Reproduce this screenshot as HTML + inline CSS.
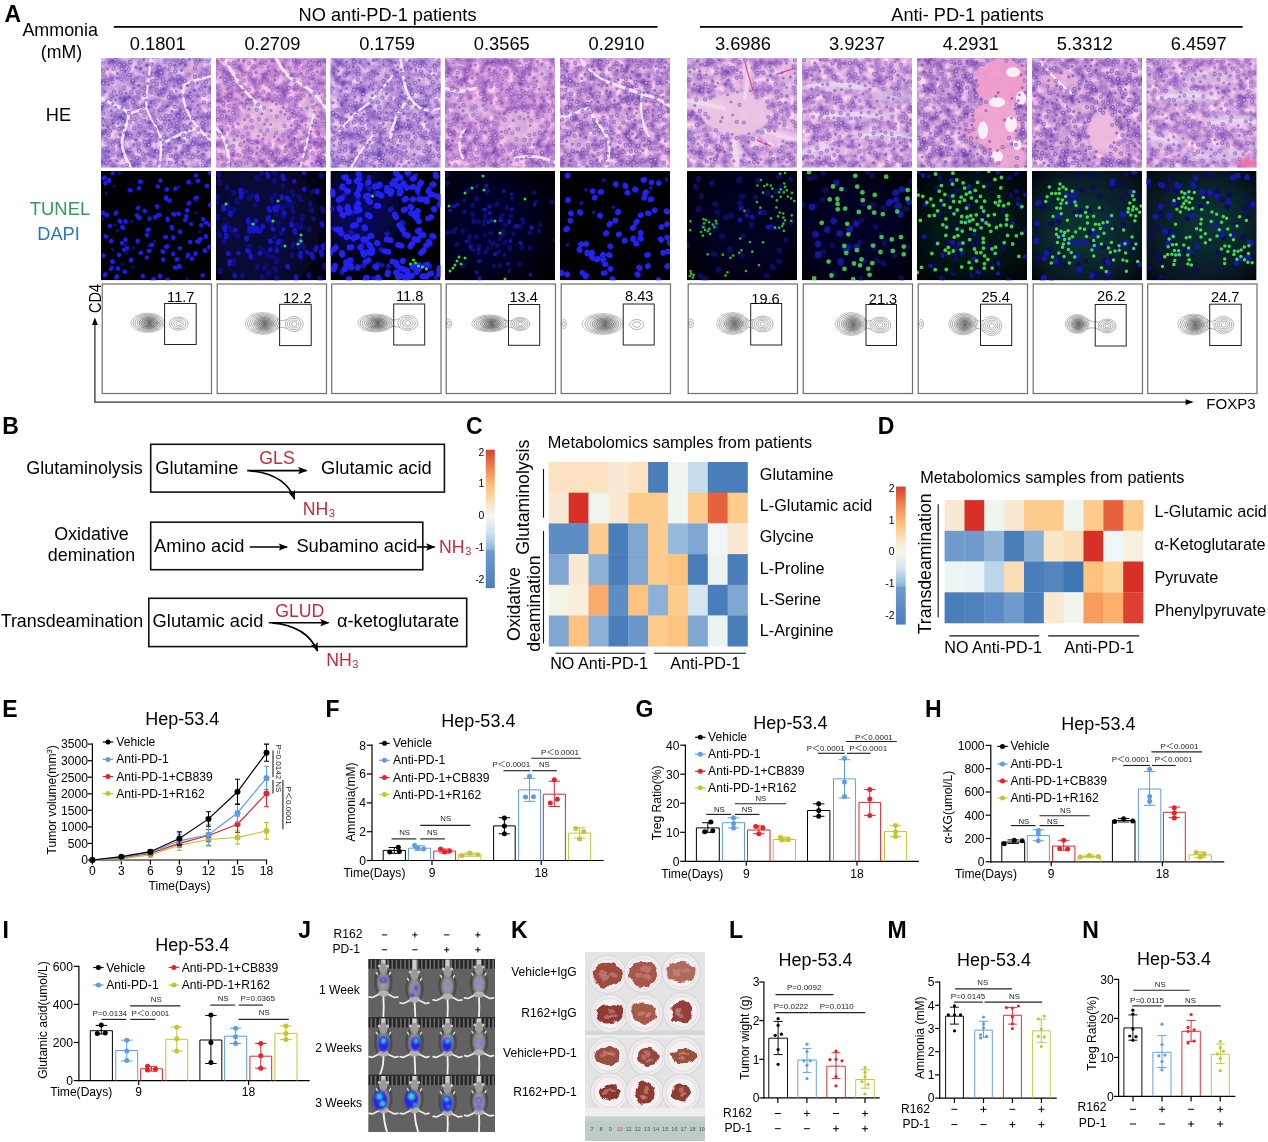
<!DOCTYPE html>
<html><head><meta charset="utf-8"><title>Figure</title>
<style>
html,body{margin:0;padding:0;background:#fff}
svg{display:block;font-family:"Liberation Sans","Noto Sans CJK SC",sans-serif}
</style></head><body>
<svg width="1268" height="1142" viewBox="0 0 1268 1142">
<defs>
<clipPath id="c0"><rect x="0" y="0" width="110" height="109.3"/></clipPath>
<clipPath id="c1"><rect x="0" y="0" width="110" height="109.3"/></clipPath>
<clipPath id="c2"><rect x="0" y="0" width="110" height="109.3"/></clipPath>
<clipPath id="c3"><rect x="0" y="0" width="110" height="109.3"/></clipPath>
<clipPath id="c4"><rect x="0" y="0" width="110" height="109.3"/></clipPath>
<clipPath id="c5"><rect x="0" y="0" width="110" height="109.3"/></clipPath>
<clipPath id="c6"><rect x="0" y="0" width="110" height="109.3"/></clipPath>
<clipPath id="c7"><rect x="0" y="0" width="110" height="109.3"/></clipPath>
<clipPath id="c8"><rect x="0" y="0" width="110" height="109.3"/></clipPath>
<clipPath id="c9"><rect x="0" y="0" width="110" height="109.3"/></clipPath>
<filter id="he0" x="0" y="0" width="100%" height="100%" color-interpolation-filters="sRGB"><feTurbulence type="fractalNoise" baseFrequency=".11" numOctaves="3" seed="11"/><feColorMatrix type="matrix" values=".8 0 0 0 0.33  .8 0 0 0 0.17  0.34 0 0 0 0.68  0 0 0 0 1"/></filter>
<filter id="he1" x="0" y="0" width="100%" height="100%" color-interpolation-filters="sRGB"><feTurbulence type="fractalNoise" baseFrequency=".11" numOctaves="3" seed="18"/><feColorMatrix type="matrix" values=".8 0 0 0 0.385  .8 0 0 0 0.16  0.36 0 0 0 0.65  0 0 0 0 1"/></filter>
<filter id="he2" x="0" y="0" width="100%" height="100%" color-interpolation-filters="sRGB"><feTurbulence type="fractalNoise" baseFrequency=".11" numOctaves="3" seed="25"/><feColorMatrix type="matrix" values=".8 0 0 0 0.33  .8 0 0 0 0.17  0.34 0 0 0 0.68  0 0 0 0 1"/></filter>
<filter id="he3" x="0" y="0" width="100%" height="100%" color-interpolation-filters="sRGB"><feTurbulence type="fractalNoise" baseFrequency=".11" numOctaves="3" seed="32"/><feColorMatrix type="matrix" values=".8 0 0 0 0.385  .8 0 0 0 0.16  0.36 0 0 0 0.65  0 0 0 0 1"/></filter>
<filter id="he4" x="0" y="0" width="100%" height="100%" color-interpolation-filters="sRGB"><feTurbulence type="fractalNoise" baseFrequency=".11" numOctaves="3" seed="39"/><feColorMatrix type="matrix" values=".8 0 0 0 0.365  .8 0 0 0 0.17  0.36 0 0 0 0.65  0 0 0 0 1"/></filter>
<filter id="he5" x="0" y="0" width="100%" height="100%" color-interpolation-filters="sRGB"><feTurbulence type="fractalNoise" baseFrequency=".11" numOctaves="3" seed="46"/><feColorMatrix type="matrix" values=".75 0 0 0 0.42  .78 0 0 0 0.22  0.32 0 0 0 0.69  0 0 0 0 1"/></filter>
<filter id="he6" x="0" y="0" width="100%" height="100%" color-interpolation-filters="sRGB"><feTurbulence type="fractalNoise" baseFrequency=".11" numOctaves="3" seed="53"/><feColorMatrix type="matrix" values=".75 0 0 0 0.42  .78 0 0 0 0.22  0.32 0 0 0 0.69  0 0 0 0 1"/></filter>
<filter id="he7" x="0" y="0" width="100%" height="100%" color-interpolation-filters="sRGB"><feTurbulence type="fractalNoise" baseFrequency=".11" numOctaves="3" seed="60"/><feColorMatrix type="matrix" values=".8 0 0 0 0.365  .8 0 0 0 0.17  0.36 0 0 0 0.65  0 0 0 0 1"/></filter>
<filter id="he8" x="0" y="0" width="100%" height="100%" color-interpolation-filters="sRGB"><feTurbulence type="fractalNoise" baseFrequency=".11" numOctaves="3" seed="67"/><feColorMatrix type="matrix" values=".8 0 0 0 0.365  .8 0 0 0 0.17  0.36 0 0 0 0.65  0 0 0 0 1"/></filter>
<filter id="he9" x="0" y="0" width="100%" height="100%" color-interpolation-filters="sRGB"><feTurbulence type="fractalNoise" baseFrequency=".11" numOctaves="3" seed="74"/><feColorMatrix type="matrix" values=".75 0 0 0 0.42  .78 0 0 0 0.22  0.32 0 0 0 0.69  0 0 0 0 1"/></filter>
<filter id="bl" x="-5%" y="-5%" width="110%" height="110%"><feGaussianBlur stdDeviation="0.75"/></filter>
<filter id="bl2" x="-100%" y="-100%" width="300%" height="300%"><feGaussianBlur stdDeviation="16"/></filter>
<filter id="bl3" x="-30%" y="-30%" width="160%" height="160%"><feGaussianBlur stdDeviation="1.6"/></filter>
<radialGradient id="dens"><stop offset="0" stop-color="#444" stop-opacity=".55"/><stop offset=".6" stop-color="#666" stop-opacity=".3"/><stop offset="1" stop-color="#888" stop-opacity="0"/></radialGradient>
<marker id="ah" viewBox="0 0 10 8" refX="9" refY="4" markerWidth="9.5" markerHeight="7.5" orient="auto" markerUnits="userSpaceOnUse"><path d="M0 0L10 4L0 8L2.2 4z" fill="#000"/></marker>
<linearGradient id="cb" x1="0" y1="0" x2="0" y2="1"><stop offset="0" stop-color="#d7402b"/><stop offset=".12" stop-color="#ef7f4f"/><stop offset=".27" stop-color="#fdc27e"/><stop offset=".4" stop-color="#fbe7c8"/><stop offset=".48" stop-color="#f4f6ee"/><stop offset=".6" stop-color="#cfe2ee"/><stop offset=".72" stop-color="#8fb4d8"/><stop offset=".73" stop-color="#6e9bcb"/><stop offset="1" stop-color="#4a7ebb"/></linearGradient>
<pattern id="bars" width="4.2" height="10" patternUnits="userSpaceOnUse"><rect width="4.2" height="10" fill="#262626"/><rect x="1.1" width="1.3" height="10" fill="#7d7d7d"/></pattern>
<filter id="b1" x="-30%" y="-30%" width="160%" height="160%"><feGaussianBlur stdDeviation="0.8"/></filter>
<filter id="b05" x="-5%" y="-5%" width="110%" height="110%"><feGaussianBlur stdDeviation="0.55"/></filter>
<radialGradient id="gm"><stop offset="0" stop-color="#a9a9a9"/><stop offset=".65" stop-color="#8c8c8c"/><stop offset="1" stop-color="#4e4e4e"/></radialGradient>
<clipPath id="cj"><rect x="368.3" y="959" width="126.7" height="173"/></clipPath>
<clipPath id="ck"><rect x="585" y="952" width="120" height="189"/></clipPath>
<filter id="b2" x="-5%" y="-5%" width="110%" height="110%"><feTurbulence type="fractalNoise" baseFrequency=".11" numOctaves="2" seed="5" result="n"/><feDisplacementMap in="SourceGraphic" in2="n" scale="7" xChannelSelector="R" yChannelSelector="G"/><feGaussianBlur stdDeviation=".7"/></filter>
</defs>
<rect width="1268" height="1142" fill="#fff"/>
<text x="4.5" y="22" font-size="23" font-weight="bold">A</text>
<text x="22.4" y="36" font-size="17.9">Ammonia</text>
<text x="40.8" y="57.6" font-size="17.7">(mM)</text>
<text x="298.6" y="21.3" font-size="18.2">NO anti-PD-1 patients</text>
<line x1="113.8" y1="26.9" x2="657.5" y2="26.9" stroke="#000" stroke-width="1.7"/>
<text x="891.3" y="21.2" font-size="18.2">Anti- PD-1 patients</text>
<line x1="700" y1="26.9" x2="1242.6" y2="26.9" stroke="#000" stroke-width="1.7"/>
<text x="157.7" y="49.5" font-size="18.3" text-anchor="middle">0.1801</text>
<text x="272.4" y="49.5" font-size="18.3" text-anchor="middle">0.2709</text>
<text x="387.1" y="49.5" font-size="18.3" text-anchor="middle">0.1759</text>
<text x="501.8" y="49.5" font-size="18.3" text-anchor="middle">0.3565</text>
<text x="616.5" y="49.5" font-size="18.3" text-anchor="middle">0.2910</text>
<text x="742.9" y="49.5" font-size="18.3" text-anchor="middle">3.6986</text>
<text x="856.9" y="49.5" font-size="18.3" text-anchor="middle">3.9237</text>
<text x="970.8" y="49.5" font-size="18.3" text-anchor="middle">4.2931</text>
<text x="1084.8" y="49.5" font-size="18.3" text-anchor="middle">5.3312</text>
<text x="1198.7" y="49.5" font-size="18.3" text-anchor="middle">6.4597</text>
<text x="58.5" y="121.3" font-size="18.2" text-anchor="middle">HE</text>
<text x="60" y="214.5" font-size="18.4" text-anchor="middle" fill="#2f9e5c">TUNEL</text>
<text x="58.5" y="239.5" font-size="18.2" text-anchor="middle" fill="#2b78b6">DAPI</text>
<text font-size="16.2" transform="translate(100.8 313) rotate(-90)" textLength="29" lengthAdjust="spacingAndGlyphs">CD4</text>
<text x="1206.3" y="409.1" font-size="15">FOXP3</text>
<path d="M94.9 322V402.1H1187" fill="none" stroke="#333" stroke-width="1.3"/>
<path d="M94.9 317.4l-2.9 7.6h5.8z" fill="#000"/>
<path d="M1193.6 402.1l-8-2.8v5.6z" fill="#000"/>
<g transform="translate(101 58.2)" clip-path="url(#c0)"><rect width="110" height="109.3" fill="#b898dc"/><rect width="110" height="109.3" filter="url(#he0)"/><ellipse cx="92" cy="12" rx="8" ry="8" fill="#efb8dc" opacity="0.7" filter="url(#bl3)"/><ellipse cx="18" cy="30" rx="14" ry="8" fill="#d9b3e6" opacity="0.6" filter="url(#bl3)"/><path d="M50 0Q47 25 45.5 37.5Q44 50 49.5 59Q55 68 58.5 76.5Q62 85 58 110" stroke="#f4e8f7" stroke-width="2.2" stroke-linecap="round" fill="none" opacity="0.95"/><path d="M110 18Q92 22 86 25Q80 28 82 39Q84 50 90 60Q96 70 110 82" stroke="#f4e8f7" stroke-width="2.5" stroke-linecap="round" fill="none" opacity="0.95"/><path d="M0 40Q16 48 23 51.5Q30 55 26 65Q22 75 21 83.5Q20 92 30 110" stroke="#f4e8f7" stroke-width="2.9" stroke-linecap="round" fill="none" opacity="0.95"/><path d="M44 50L30 55" stroke="#f4e8f7" stroke-width="2.8" stroke-linecap="round" fill="none" opacity="0.95"/><path d="M62 85Q80 75 96 70" stroke="#f4e8f7" stroke-width="2.9" stroke-linecap="round" fill="none" opacity="0.95"/><path d="M47.8 86.8h0M58.6 9.6h0M50.2 6.1h0M101.8 102.6h0M37.2 34.2h0M83.9 22.9h0M20.3 21.2h0M38.5 68.2h0M105 23.6h0M104.3 60.6h0M98.3 88.8h0M18.3 70.6h0M14.4 1.6h0M43.7 84h0M62.1 21.7h0M91.8 99h0M26.6 49.1h0M69.9 97.8h0M14.7 60.4h0M105.6 66.4h0M78.5 84.2h0M55.8 32.1h0M64.8 57.7h0M38.1 92.7h0M40.2 52.9h0M83.2 88.3h0M97.2 70.9h0M28.3 91.9h0M99.2 77.7h0M83.8 56.1h0M54.3 63.5h0M94 18.7h0M82.4 76.8h0M14.1 6.4h0M65.3 24.5h0M71.3 81.3h0M62.4 36.8h0M2.4 13.2h0M21.8 57.4h0M78.8 23.4h0M43.1 101.5h0M44.3 77.5h0M67.8 71.8h0M52.5 59.5h0M76.7 18.3h0M87.3 94.7h0M6.1 22.3h0M27.9 11.1h0M103.1 44.1h0M59.4 51.9h0M22 63.2h0M28.1 16.6h0M23.5 45.3h0M101.5 65.2h0M29.1 77.3h0M21.6 108.1h0M43.2 30.1h0M30.3 33.7h0M102.2 107.5h0M61.3 25.9h0M33.2 70h0M68.6 92.6h0M89.7 38.8h0M73.8 48.7h0M106.5 3.5h0M67.7 38.8h0M87.5 16.4h0M97.2 1.3h0M55.8 19.7h0M42.3 48.9h0M24 18.3h0M92 60h0M69.4 15.6h0M64.1 63.7h0M13 33.3h0M50.5 77h0M94 10.4h0M6 48.4h0M3.2 17.6h0M12.5 10.5h0M68.5 11.2h0M62.2 104.7h0M16.2 82.4h0M103.6 80h0M42 96.3h0M12.2 90.5h0M99.8 31.2h0M38.6 4.8h0M2.5 55.4h0M60.2 14.4h0M69.1 6.6h0M23 6.1h0M64.5 4.2h0M57.7 104.3h0M5.3 63.1h0M26.1 106.9h0M2.2 24.9h0M10.5 37.8h0M83.7 67.4h0M23 29.7h0M82.7 2.7h0M99.1 18.4h0M54.7 46.6h0M42.2 21.9h0M29.1 4h0M3.3 91h0M107.7 85.8h0M28.9 63.4h0M63.1 78.4h0M32.2 43.7h0M36.1 99.6h0M80.7 37.5h0M27.7 54.6h0M11.5 23.7h0M91.1 24.5h0M103.4 36.9h0M75.7 64.9h0M56 93.4h0M5.3 104.4h0M11.7 86.4h0M68.8 104.6h0M84.1 60.3h0M95.2 5.6h0M74.9 98.6h0M20.7 10.7h0M54 71.1h0M69.2 57.8h0M37.6 77.2h0M107.7 55.3h0M91.7 85.8h0M49.6 104.6h0M1.2 46.4h0M32 22.2h0M49.4 69.3h0M52.1 23h0M70.3 42.8h0M13 69.6h0M104.4 16.3h0M19.7 34.2h0M57.6 42.7h0M74.1 13.5h0M62.6 84.4h0M4.5 81.2h0M9 72.9h0M59.6 69.3h0M54.4 82.6h0M43.3 57h0M18.4 6.3h0M77.3 57.6h0M98.5 99.1h0M38.6 107.9h0M92.7 81.1h0M34.5 48.4h0M55.8 26h0M51.8 16.2h0M69.4 67.5h0M31.7 98.3h0M33.4 61.2h0M37.6 85.9h0M77.7 107.8h0M108.7 46.7h0M63.6 94.2h0M7.7 77.4h0M70 33.8h0M43.8 36.9h0M85.3 98.5h0M2.7 4.8h0M59.8 60.5h0M11.6 96.8h0M87 78.7h0" stroke="#6647ab" stroke-width="4.2" stroke-linecap="round" fill="none" opacity=".6"/><path d="M47.8 86.8h0M58.6 9.6h0M50.2 6.1h0M101.8 102.6h0M37.2 34.2h0M83.9 22.9h0M20.3 21.2h0M38.5 68.2h0M105 23.6h0M104.3 60.6h0M98.3 88.8h0M18.3 70.6h0M14.4 1.6h0M43.7 84h0M62.1 21.7h0M91.8 99h0M26.6 49.1h0M69.9 97.8h0M14.7 60.4h0M105.6 66.4h0M78.5 84.2h0M55.8 32.1h0M64.8 57.7h0M38.1 92.7h0M40.2 52.9h0M83.2 88.3h0M97.2 70.9h0M28.3 91.9h0M99.2 77.7h0M83.8 56.1h0M54.3 63.5h0M94 18.7h0M82.4 76.8h0M14.1 6.4h0M65.3 24.5h0M71.3 81.3h0M62.4 36.8h0M2.4 13.2h0M21.8 57.4h0M78.8 23.4h0M43.1 101.5h0M44.3 77.5h0M67.8 71.8h0M52.5 59.5h0M76.7 18.3h0M87.3 94.7h0M6.1 22.3h0M27.9 11.1h0M103.1 44.1h0M59.4 51.9h0M22 63.2h0M28.1 16.6h0M23.5 45.3h0M101.5 65.2h0M29.1 77.3h0M21.6 108.1h0M43.2 30.1h0M30.3 33.7h0M102.2 107.5h0M61.3 25.9h0M33.2 70h0M68.6 92.6h0M89.7 38.8h0M73.8 48.7h0M106.5 3.5h0M67.7 38.8h0M87.5 16.4h0M97.2 1.3h0M55.8 19.7h0M42.3 48.9h0M24 18.3h0M92 60h0M69.4 15.6h0M64.1 63.7h0M13 33.3h0M50.5 77h0M94 10.4h0M6 48.4h0M3.2 17.6h0M12.5 10.5h0M68.5 11.2h0M62.2 104.7h0M16.2 82.4h0M103.6 80h0M42 96.3h0M12.2 90.5h0M99.8 31.2h0M38.6 4.8h0M2.5 55.4h0M60.2 14.4h0M69.1 6.6h0M23 6.1h0M64.5 4.2h0M57.7 104.3h0M5.3 63.1h0M26.1 106.9h0M2.2 24.9h0M10.5 37.8h0M83.7 67.4h0M23 29.7h0M82.7 2.7h0M99.1 18.4h0M54.7 46.6h0M42.2 21.9h0M29.1 4h0M3.3 91h0M107.7 85.8h0M28.9 63.4h0M63.1 78.4h0M32.2 43.7h0M36.1 99.6h0M80.7 37.5h0M27.7 54.6h0M11.5 23.7h0M91.1 24.5h0M103.4 36.9h0M75.7 64.9h0M56 93.4h0M5.3 104.4h0M11.7 86.4h0M68.8 104.6h0M84.1 60.3h0M95.2 5.6h0M74.9 98.6h0M20.7 10.7h0M54 71.1h0M69.2 57.8h0M37.6 77.2h0M107.7 55.3h0M91.7 85.8h0M49.6 104.6h0M1.2 46.4h0M32 22.2h0M49.4 69.3h0M52.1 23h0M70.3 42.8h0M13 69.6h0M104.4 16.3h0M19.7 34.2h0M57.6 42.7h0M74.1 13.5h0M62.6 84.4h0M4.5 81.2h0M9 72.9h0M59.6 69.3h0M54.4 82.6h0M43.3 57h0M18.4 6.3h0M77.3 57.6h0M98.5 99.1h0M38.6 107.9h0M92.7 81.1h0M34.5 48.4h0M55.8 26h0M51.8 16.2h0M69.4 67.5h0M31.7 98.3h0M33.4 61.2h0M37.6 85.9h0M77.7 107.8h0M108.7 46.7h0M63.6 94.2h0M7.7 77.4h0M70 33.8h0M43.8 36.9h0M85.3 98.5h0M2.7 4.8h0M59.8 60.5h0M11.6 96.8h0M87 78.7h0" stroke="#c3a6e4" stroke-width="2.2" stroke-linecap="round" fill="none"/><path d="M93.5 32.3h0M79.7 52.3h0M73.1 27.9h0M43.9 61.7h0M43 1h0M34.6 8.7h0M81.4 95h0M35 81.5h0M7.8 93.8h0M4.7 72.4h0M90.1 70.5h0M18.9 86.8h0M78.4 79.9h0M47.4 48.7h0M74 73.7h0M23.7 74.5h0M57.2 36.4h0M97.1 54h0M29 38.8h0M53 98.3h0M62.5 30.8h0M68.8 22.2h0M7.9 98.6h0M88.4 1.2h0M66.5 47.9h0M75.2 32.8h0M75.4 104.2h0M5.1 42.9h0M16.3 20h0M7.8 26.4h0M81.6 103.6h0M14.7 41.9h0M19 39.9h0M21.5 95.6h0M49.5 44.4h0M78.4 72.1h0M86.1 72.2h0M14.8 48.7h0M48.9 64.6h0M96.6 24.7h0M17 65.2h0M12.3 65h0M16.4 15.3h0M32.6 30.1h0M9.2 102.7h0M73 60.7h0M20.9 50h0M68.4 85.5h0M89.3 65.3h0M89.6 51.5h0M10.3 57.3h0M84.5 108.2h0M46.8 25.3h0M80.4 29.9h0M73.6 6.7h0M3.6 33.6h0M42.3 14.6h0M39.7 10.4h0M104.1 28.6h0M89 34.2h0M83.5 83.3h0M86.1 27.4h0M7 68.9h0M47 95.7h0M10.3 52.5h0M25.3 35.1h0M102.3 95.9h0M108.9 73.9h0M70.9 52.7h0M96.8 38.1h0M79.5 5.9h0M45.1 41.7h0M55.6 13.2h0M68 61.9h0M19.2 76.5h0M2.1 67.2h0M33 108.1h0M59.5 81.4h0M84.2 7.1h0M24.2 13.1h0M48 18.6h0M1.9 60.3h0M107.7 78h0M22.5 69.3h0M30.1 102.8h0M86 49.6h0M15.7 36.8h0M80.6 12.3h0M1.7 75.5h0M97.5 93.3h0M11.8 45.6h0M91.5 43.1h0M62.2 88.7h0M73.8 68.9h0M96.6 47.4h0M105.3 92h0M7.8 4.5h0M44 73.2h0M45.9 6.7h0M37.7 27.2h0M32.5 86.3h0M6.6 11.1h0M15.8 102.5h0M75.1 89.8h0M104.1 72.7h0" stroke="#6647ab" stroke-width="3" stroke-linecap="round" fill="none" opacity=".6"/></g>
<g transform="translate(216 58.2)" clip-path="url(#c1)"><rect width="110" height="109.3" fill="#c7a3de"/><rect width="110" height="109.3" filter="url(#he1)"/><ellipse cx="48" cy="62" rx="26" ry="20" fill="#ecc0e2" opacity="0.75" filter="url(#bl3)"/><ellipse cx="95" cy="45" rx="10" ry="14" fill="#e9c4e6" opacity="0.6" filter="url(#bl3)"/><ellipse cx="20" cy="85" rx="12" ry="10" fill="#eac2e4" opacity="0.6" filter="url(#bl3)"/><path d="M8 0Q18 18 24 26.5Q30 35 46 50" stroke="#f4e8f7" stroke-width="2.7" stroke-linecap="round" fill="none" opacity="0.95"/><path d="M98 55Q92 80 84 110" stroke="#f4e8f7" stroke-width="2.2" stroke-linecap="round" fill="none" opacity="0.95"/><path d="M60 0Q70 20 83 25Q96 30 110 50" stroke="#f4e8f7" stroke-width="3.2" stroke-linecap="round" fill="none" opacity="0.95"/><path d="M0 70Q15 85 12 110" stroke="#f4e8f7" stroke-width="3.1" stroke-linecap="round" fill="none" opacity="0.95"/><path d="M51.5 72.2h0M24.2 24.8h0M32.2 75.3h0M23.9 105.2h0M8.6 21.7h0M10.6 83.6h0M40.6 51.6h0M36.2 69.4h0M44.6 23.3h0M47.5 33.7h0M13 89.3h0M74.5 72.3h0M96.3 43.3h0M42 46.4h0M44.7 72.8h0M1.7 50.8h0M58.8 38.1h0M3.4 76.6h0M2 61.6h0M17.6 4.7h0M20.5 8.1h0M17.3 74.5h0M79.7 39.9h0M71.5 52h0M54.8 95h0M34.6 94.3h0M1.6 10h0M4.5 38.1h0M103.2 95h0M91.6 13.8h0M77.2 84.1h0M88.4 86h0M16.2 20.2h0M86.6 80.2h0M97.4 48.9h0M97.1 16h0M37.5 8.2h0M60.2 75h0M31.1 89.5h0M10.8 101.6h0M28 22.9h0M13.1 106.3h0M98.3 35.2h0M11.3 71.1h0M96.9 2.3h0M69.4 92.9h0M50.6 62.1h0M87.9 26.6h0M60.7 58.4h0M37.1 101.5h0M8.2 16.9h0M14 37.8h0M75.2 40.1h0M72.6 60h0M14.8 59.6h0M80.4 26.8h0M48 49.8h0M33.1 5.3h0M6.4 107.5h0M80.9 48.1h0M73 29.9h0M77.7 103h0M84.5 50.9h0M107.2 99.9h0M7.3 45.2h0M67.6 16.4h0M81.7 93h0M7.7 75.3h0M29.7 69.5h0M87.2 37.4h0M79.8 16.8h0M24.4 86.5h0M11.4 25.9h0M21.8 18h0M79.8 64h0M72.8 97.6h0M49.5 5.1h0M21.4 56.4h0M56.2 25.3h0M65 101.3h0M98.6 62.9h0M52.9 14.8h0M12.9 5.4h0M67 77.5h0M108.3 65.6h0M108.3 44.2h0M32.1 58h0M107.5 32.9h0M26.4 78.6h0M42.9 60.9h0M17.4 92.6h0M100.3 82h0M4.5 33.7h0M18.7 48.1h0M82.8 82.1h0M4.6 96.8h0M14.9 64.6h0M86.6 101.7h0M67.6 106.1h0M92.8 7h0M73.5 10.8h0M103.2 5.7h0M7.1 1.3h0M91.2 99.4h0M30.1 105.2h0M79.7 74.4h0M31.7 43.6h0M82.8 56.4h0M53.7 99.7h0M46.4 93.2h0M6 57.9h0M78 2.1h0M68.6 67.9h0M15.7 102.3h0M27.2 15.6h0M93.1 77.6h0M56.1 103.8h0M2.4 28.4h0M78.3 57.8h0M61.7 31.8h0M62.2 95.3h0M106.8 60.3h0M80 10.4h0M16.9 54.6h0M33.9 16.1h0M86.6 19.4h0M88 9h0M17.7 25.7h0M78.8 98.7h0M27.6 93.5h0M35.6 83.9h0M63.7 38.6h0M35.5 62.5h0M32.8 31.7h0M102.3 105.7h0M12.7 47.8h0M96.8 94.7h0M28.1 48.8h0M100.9 23.5h0M65.3 44.5h0M100.6 67h0M23.1 97h0M94 89.3h0M78.4 22.5h0M76.2 52.9h0M17.2 87.9h0M82.9 69.2h0M35.6 46.1h0M48.4 76.3h0M5.2 69.5h0M53.7 86.9h0M56.8 31.6h0" stroke="#7553b3" stroke-width="4.2" stroke-linecap="round" fill="none" opacity=".6"/><path d="M51.5 72.2h0M24.2 24.8h0M32.2 75.3h0M23.9 105.2h0M8.6 21.7h0M10.6 83.6h0M40.6 51.6h0M36.2 69.4h0M44.6 23.3h0M47.5 33.7h0M13 89.3h0M74.5 72.3h0M96.3 43.3h0M42 46.4h0M44.7 72.8h0M1.7 50.8h0M58.8 38.1h0M3.4 76.6h0M2 61.6h0M17.6 4.7h0M20.5 8.1h0M17.3 74.5h0M79.7 39.9h0M71.5 52h0M54.8 95h0M34.6 94.3h0M1.6 10h0M4.5 38.1h0M103.2 95h0M91.6 13.8h0M77.2 84.1h0M88.4 86h0M16.2 20.2h0M86.6 80.2h0M97.4 48.9h0M97.1 16h0M37.5 8.2h0M60.2 75h0M31.1 89.5h0M10.8 101.6h0M28 22.9h0M13.1 106.3h0M98.3 35.2h0M11.3 71.1h0M96.9 2.3h0M69.4 92.9h0M50.6 62.1h0M87.9 26.6h0M60.7 58.4h0M37.1 101.5h0M8.2 16.9h0M14 37.8h0M75.2 40.1h0M72.6 60h0M14.8 59.6h0M80.4 26.8h0M48 49.8h0M33.1 5.3h0M6.4 107.5h0M80.9 48.1h0M73 29.9h0M77.7 103h0M84.5 50.9h0M107.2 99.9h0M7.3 45.2h0M67.6 16.4h0M81.7 93h0M7.7 75.3h0M29.7 69.5h0M87.2 37.4h0M79.8 16.8h0M24.4 86.5h0M11.4 25.9h0M21.8 18h0M79.8 64h0M72.8 97.6h0M49.5 5.1h0M21.4 56.4h0M56.2 25.3h0M65 101.3h0M98.6 62.9h0M52.9 14.8h0M12.9 5.4h0M67 77.5h0M108.3 65.6h0M108.3 44.2h0M32.1 58h0M107.5 32.9h0M26.4 78.6h0M42.9 60.9h0M17.4 92.6h0M100.3 82h0M4.5 33.7h0M18.7 48.1h0M82.8 82.1h0M4.6 96.8h0M14.9 64.6h0M86.6 101.7h0M67.6 106.1h0M92.8 7h0M73.5 10.8h0M103.2 5.7h0M7.1 1.3h0M91.2 99.4h0M30.1 105.2h0M79.7 74.4h0M31.7 43.6h0M82.8 56.4h0M53.7 99.7h0M46.4 93.2h0M6 57.9h0M78 2.1h0M68.6 67.9h0M15.7 102.3h0M27.2 15.6h0M93.1 77.6h0M56.1 103.8h0M2.4 28.4h0M78.3 57.8h0M61.7 31.8h0M62.2 95.3h0M106.8 60.3h0M80 10.4h0M16.9 54.6h0M33.9 16.1h0M86.6 19.4h0M88 9h0M17.7 25.7h0M78.8 98.7h0M27.6 93.5h0M35.6 83.9h0M63.7 38.6h0M35.5 62.5h0M32.8 31.7h0M102.3 105.7h0M12.7 47.8h0M96.8 94.7h0M28.1 48.8h0M100.9 23.5h0M65.3 44.5h0M100.6 67h0M23.1 97h0M94 89.3h0M78.4 22.5h0M76.2 52.9h0M17.2 87.9h0M82.9 69.2h0M35.6 46.1h0M48.4 76.3h0M5.2 69.5h0M53.7 86.9h0M56.8 31.6h0" stroke="#c3a6e4" stroke-width="2.2" stroke-linecap="round" fill="none"/><path d="M85.6 63.4h0M62.5 81.1h0M45.9 55.6h0M108.8 3.5h0M41.1 89.6h0M26.4 36.5h0M19.4 105.5h0M59.2 17.3h0M42.3 77.8h0M31.5 81.4h0M94.1 37h0M18 81.7h0M75.2 67.1h0M77.8 30.9h0M4.5 19.2h0M72.5 78.5h0M46.7 41.8h0M89.7 66.8h0M87.8 93.5h0M28.5 61.6h0M102.6 76.4h0M95.7 105.1h0M48.5 66h0M103.4 35.4h0M17 68.2h0M46.9 80.5h0M59.7 13h0M26 44.7h0M64.7 53.9h0M108.9 104.1h0M83.9 4.9h0M100.9 46.5h0M88.2 74.4h0M8.2 12.4h0M27.7 2.8h0M8.3 53.6h0M96.1 67.3h0M107.5 93.9h0M11.1 30.5h0M40.9 107.4h0M85.4 15.2h0M60.3 45.9h0M83.3 105.9h0M35.6 41.2h0M59.7 107.9h0M74.8 17.5h0M56.4 43.2h0M101 13.5h0M52.9 35.8h0M22.5 1.8h0M54.7 66.3h0M40.8 95.3h0M70.6 101.4h0M53.6 29h0M58.4 21.7h0M68.7 36.9h0M98.5 53.8h0M69 56.2h0M55.1 52.2h0M40.1 14.4h0M2.1 101.1h0M13 52.7h0M67.2 49.4h0M91 49.8h0M12.3 42.5h0M107.2 80.7h0M78.6 80.2h0M56 3h0M69.4 88.6h0M27.7 31.9h0M106.8 108.2h0M42.9 38.9h0M2.6 42.3h0M42 84.5h0M51.2 108.1h0M33.1 50.8h0M10.4 57.9h0M27.9 83.7h0M94.9 73.4h0M58.3 78.6h0M39.4 29.8h0M44.3 5.1h0M52 8.8h0M78.7 89.8h0M102.2 58.2h0M97.1 20.6h0M22.1 65.7h0M60.3 99.8h0M38.9 1.3h0M93.8 83.8h0M84.8 40.7h0M46.3 102.7h0M93.3 25.5h0M21.5 77.5h0" stroke="#7553b3" stroke-width="3" stroke-linecap="round" fill="none" opacity=".6"/></g>
<g transform="translate(330.5 58.2)" clip-path="url(#c2)"><rect width="110" height="109.3" fill="#b596dc"/><rect width="110" height="109.3" filter="url(#he2)"/><ellipse cx="85" cy="90" rx="12" ry="10" fill="#e2b7e2" opacity="0.6" filter="url(#bl3)"/><ellipse cx="48" cy="38" rx="12" ry="6" fill="#e4cff0" opacity="0.7" filter="url(#bl3)"/><path d="M62 18Q50 32 44 39Q38 46 29 52Q20 58 8 75" stroke="#f4e8f7" stroke-width="2.2" stroke-linecap="round" fill="none" opacity="0.95"/><path d="M70 0Q73 22 75.5 31Q78 40 86.5 47.5Q95 55 110 50" stroke="#f4e8f7" stroke-width="2.7" stroke-linecap="round" fill="none" opacity="0.95"/><path d="M20 110Q30 92 42 78" stroke="#f4e8f7" stroke-width="2.2" stroke-linecap="round" fill="none" opacity="0.95"/><path d="M78 40Q62 60 60 80" stroke="#f4e8f7" stroke-width="2.9" stroke-linecap="round" fill="none" opacity="0.95"/><path d="M66.6 42.2h0M67.7 61.8h0M5.7 57.9h0M67.9 56.8h0M96 79.9h0M41.7 25.3h0M14.8 87.9h0M75.5 66.4h0M48.7 54.8h0M25 57.9h0M16.7 67.6h0M69.1 72.9h0M27.6 10.9h0M37 74.8h0M56.1 81.2h0M47.6 43.8h0M99 18.9h0M23.4 64.2h0M69.2 47.4h0M61.3 48.3h0M73.2 96.4h0M90.1 69.6h0M51.8 102.7h0M49.3 68.1h0M94.8 74.3h0M43.2 80.7h0M65.8 99.2h0M106.2 57.6h0M44 101.6h0M8.8 93.1h0M96.3 42.3h0M28.5 74.4h0M102.5 23.9h0M24.8 45.5h0M16.4 52.5h0M43 17.1h0M13.8 17.2h0M46.1 35.1h0M79.7 45.5h0M27.3 21.2h0M33.1 80.8h0M22.8 50.9h0M88.1 90h0M50.9 91.4h0M70.4 25.3h0M86.3 42.8h0M91.4 104.8h0M100.3 51.3h0M1.8 30.7h0M24.6 70.6h0M76.8 99.9h0M69.9 51.9h0M91.4 30.4h0M85.1 79.1h0M94.6 7.5h0M21.4 102.9h0M96 103.5h0M37.9 15.4h0M27.9 15.8h0M2 63.5h0M31.3 60.7h0M104 8.2h0M55.7 60.7h0M65.6 51.6h0M30.5 97.9h0M9.6 75.5h0M12.3 81.6h0M17.5 8.2h0M25.6 95.9h0M15.5 37.3h0M52 39.5h0M53.2 23h0M37.6 53.3h0M75.8 10.5h0M108.3 3h0M49.8 107.7h0M58.2 105.3h0M7 51.6h0M48.6 49.2h0M42 88.2h0M35.8 87.3h0M81.3 88.4h0M93.9 93.1h0M97.3 29.4h0M23.3 3.5h0M19.8 24.5h0M74.4 89.1h0M89.4 74.9h0M106.7 105.3h0M48.5 99.9h0M78.7 27.3h0M64.2 19.3h0M48.1 31.4h0M44.4 73.9h0M9.6 85.3h0M40.6 93h0M32.8 35.8h0M90.1 55.7h0M69.6 78.7h0M21.7 42.3h0M104.1 36.6h0M92.6 17.6h0M2.5 54.9h0M31.6 64.9h0M84.2 5.2h0M98.8 91.6h0M38.5 67.5h0M59.8 40.5h0M32.3 70.6h0M40.4 42.7h0M11.1 70.2h0M27.2 79.8h0M106.8 19.1h0M41 105.2h0M36.2 95.4h0M108.2 97.6h0M81.9 65.5h0M82.4 102.7h0M107.4 90.5h0M57.3 18.1h0M63.7 84.6h0M52.6 96.8h0M98.8 100.5h0M76.9 50h0M60.5 95.1h0M104.7 12.4h0M81.6 35.7h0M105.9 42.9h0M54 71.8h0M23.3 32h0M91.7 43.3h0M100.3 75.5h0M76.2 42.7h0M12.5 100h0M60.3 82.1h0M90.6 13.3h0M64.8 92.1h0M102.3 98h0M14.5 92.4h0M45.9 86.1h0M81.6 83.8h0M88.8 99h0M11.2 64h0M97.1 67.5h0M85.8 32.9h0M54.2 2.5h0M87.2 61.4h0M72.1 15.6h0M3.4 80h0M77.5 78h0M20 46.5h0M1.6 94.6h0M102.3 71.5h0M81 71h0M68.9 93.6h0M108.8 28h0M76.8 70.3h0M3.9 107.4h0M13.7 104.9h0M5.5 8.8h0M35.9 102h0M84.6 24.7h0M77.4 57.1h0M96 88h0M65.9 68.5h0M65.7 24.5h0M89.7 8h0M84.5 57.3h0M28.1 28h0M106.4 31.9h0" stroke="#6446a9" stroke-width="4.2" stroke-linecap="round" fill="none" opacity=".6"/><path d="M66.6 42.2h0M67.7 61.8h0M5.7 57.9h0M67.9 56.8h0M96 79.9h0M41.7 25.3h0M14.8 87.9h0M75.5 66.4h0M48.7 54.8h0M25 57.9h0M16.7 67.6h0M69.1 72.9h0M27.6 10.9h0M37 74.8h0M56.1 81.2h0M47.6 43.8h0M99 18.9h0M23.4 64.2h0M69.2 47.4h0M61.3 48.3h0M73.2 96.4h0M90.1 69.6h0M51.8 102.7h0M49.3 68.1h0M94.8 74.3h0M43.2 80.7h0M65.8 99.2h0M106.2 57.6h0M44 101.6h0M8.8 93.1h0M96.3 42.3h0M28.5 74.4h0M102.5 23.9h0M24.8 45.5h0M16.4 52.5h0M43 17.1h0M13.8 17.2h0M46.1 35.1h0M79.7 45.5h0M27.3 21.2h0M33.1 80.8h0M22.8 50.9h0M88.1 90h0M50.9 91.4h0M70.4 25.3h0M86.3 42.8h0M91.4 104.8h0M100.3 51.3h0M1.8 30.7h0M24.6 70.6h0M76.8 99.9h0M69.9 51.9h0M91.4 30.4h0M85.1 79.1h0M94.6 7.5h0M21.4 102.9h0M96 103.5h0M37.9 15.4h0M27.9 15.8h0M2 63.5h0M31.3 60.7h0M104 8.2h0M55.7 60.7h0M65.6 51.6h0M30.5 97.9h0M9.6 75.5h0M12.3 81.6h0M17.5 8.2h0M25.6 95.9h0M15.5 37.3h0M52 39.5h0M53.2 23h0M37.6 53.3h0M75.8 10.5h0M108.3 3h0M49.8 107.7h0M58.2 105.3h0M7 51.6h0M48.6 49.2h0M42 88.2h0M35.8 87.3h0M81.3 88.4h0M93.9 93.1h0M97.3 29.4h0M23.3 3.5h0M19.8 24.5h0M74.4 89.1h0M89.4 74.9h0M106.7 105.3h0M48.5 99.9h0M78.7 27.3h0M64.2 19.3h0M48.1 31.4h0M44.4 73.9h0M9.6 85.3h0M40.6 93h0M32.8 35.8h0M90.1 55.7h0M69.6 78.7h0M21.7 42.3h0M104.1 36.6h0M92.6 17.6h0M2.5 54.9h0M31.6 64.9h0M84.2 5.2h0M98.8 91.6h0M38.5 67.5h0M59.8 40.5h0M32.3 70.6h0M40.4 42.7h0M11.1 70.2h0M27.2 79.8h0M106.8 19.1h0M41 105.2h0M36.2 95.4h0M108.2 97.6h0M81.9 65.5h0M82.4 102.7h0M107.4 90.5h0M57.3 18.1h0M63.7 84.6h0M52.6 96.8h0M98.8 100.5h0M76.9 50h0M60.5 95.1h0M104.7 12.4h0M81.6 35.7h0M105.9 42.9h0M54 71.8h0M23.3 32h0M91.7 43.3h0M100.3 75.5h0M76.2 42.7h0M12.5 100h0M60.3 82.1h0M90.6 13.3h0M64.8 92.1h0M102.3 98h0M14.5 92.4h0M45.9 86.1h0M81.6 83.8h0M88.8 99h0M11.2 64h0M97.1 67.5h0M85.8 32.9h0M54.2 2.5h0M87.2 61.4h0M72.1 15.6h0M3.4 80h0M77.5 78h0M20 46.5h0M1.6 94.6h0M102.3 71.5h0M81 71h0M68.9 93.6h0M108.8 28h0M76.8 70.3h0M3.9 107.4h0M13.7 104.9h0M5.5 8.8h0M35.9 102h0M84.6 24.7h0M77.4 57.1h0M96 88h0M65.9 68.5h0M65.7 24.5h0M89.7 8h0M84.5 57.3h0M28.1 28h0M106.4 31.9h0" stroke="#c3a6e4" stroke-width="2.2" stroke-linecap="round" fill="none"/><path d="M62.8 108.1h0M77.5 62.2h0M95.7 47.6h0M18.5 14.3h0M43.9 108.3h0M56 54.6h0M37.3 62.4h0M52.8 65.7h0M68.5 107.5h0M88.7 22.1h0M69.4 38h0M100.2 87.3h0M67.5 87.1h0M80.7 10.8h0M42.8 2h0M41.5 12.9h0M78.4 19.8h0M95.6 55.4h0M3.2 14.7h0M16.1 61.1h0M15.9 3.9h0M43.6 69.3h0M57.6 45.3h0M62 62.3h0M16.3 30.2h0M31.8 103.2h0M61.6 54.9h0M9.3 5.1h0M51.7 29.4h0M7.5 41.6h0M86.4 104.9h0M47.8 15.8h0M7.9 12.7h0M83.6 96.2h0M85.5 12.1h0M30.4 84.1h0M9.3 18.8h0M49.3 83.7h0M90.6 34.8h0M95.8 37.5h0M31.2 42h0M18 107.2h0M102.1 59.4h0M44.1 53.2h0M11.4 47h0M20 76.9h0M99.8 13h0M3 74h0M10.5 32.8h0M70.3 103.7h0M3.4 87.2h0M65 4.3h0M24.4 90.5h0M79 2.5h0M107.5 65.6h0M67.4 9.1h0M52.8 6.4h0M49.4 75.6h0M56.7 25.4h0M33.5 56h0M71.8 34h0M16.7 74.3h0M85.5 48.7h0M22.9 8.7h0M94.8 63.6h0M107 84.3h0M29.6 4.1h0M12 26.5h0M15.3 42.1h0M2.3 44.5h0M73.1 55.5h0M2.6 102.2h0M81.4 30.6h0M26.5 53.5h0M67.1 14.1h0M24.4 38.7h0M42.4 31.4h0M83.2 75.3h0M107.7 79.8h0M74.5 22.2h0M61.6 89.2h0M7.8 105.4h0M21.2 94.1h0M69.8 82.8h0M78.3 104.4h0M103.3 16.9h0M55.9 35.6h0M92.2 50.7h0M41.7 37.2h0M70.7 11.6h0M20.5 56.1h0M30.4 24.2h0M49.3 60.2h0M62.8 11.7h0M5 68.9h0M53.1 86.8h0M38.5 28.8h0M62.4 73.8h0M38.5 5.5h0M75.9 93.2h0M56.6 92.1h0M39.3 83.6h0M39.9 48.2h0M6.8 98.5h0M71 68.8h0" stroke="#6446a9" stroke-width="3" stroke-linecap="round" fill="none" opacity=".6"/></g>
<g transform="translate(445 58.2)" clip-path="url(#c3)"><rect width="110" height="109.3" fill="#c9a4dc"/><rect width="110" height="109.3" filter="url(#he3)"/><ellipse cx="75" cy="70" rx="22" ry="18" fill="#e6bce2" opacity="0.7" filter="url(#bl3)"/><ellipse cx="30" cy="52" rx="18" ry="10" fill="#e5bfe4" opacity="0.6" filter="url(#bl3)"/><ellipse cx="95" cy="20" rx="10" ry="12" fill="#e8c3e6" opacity="0.5" filter="url(#bl3)"/><path d="M0 30Q14 36 30 30" stroke="#f4e8f7" stroke-width="3.2" stroke-linecap="round" fill="none" opacity="0.95"/><path d="M20 70Q10 85 18 100" stroke="#f4e8f7" stroke-width="2.5" stroke-linecap="round" fill="none" opacity="0.95"/><path d="M70 100Q90 95 110 104" stroke="#f4e8f7" stroke-width="2.9" stroke-linecap="round" fill="none" opacity="0.95"/><path d="M80.4 24.1h0M9.4 65.7h0M14.2 42h0M97.1 94.6h0M13.8 9.8h0M25 89.9h0M3.7 25.2h0M12.6 14.7h0M57.5 20.7h0M45.2 79.7h0M79.1 45.5h0M85.9 62.4h0M90.3 27.7h0M40.9 63.3h0M103.2 67.3h0M52.3 27.9h0M31.4 24.2h0M107.5 96.1h0M97.6 57.7h0M77.5 32.8h0M53 16.6h0M46.4 28.1h0M11.8 99.7h0M11.4 88.2h0M76.6 10.7h0M53.4 107.9h0M107.6 61.4h0M84.4 77h0M32.5 60h0M65.5 43.3h0M89.5 48.7h0M81.9 7.9h0M49 5.8h0M70.9 94.6h0M59.7 61.7h0M68.2 25.6h0M70.8 41.8h0M52.6 36.5h0M60.9 73.5h0M36.4 74.5h0M92.7 58.6h0M106.9 34.2h0M100.3 20.5h0M40.3 88.6h0M4.5 66.9h0M95.1 102.3h0M74.7 38.1h0M36.9 68.7h0M8.2 4h0M96.2 68.3h0M18.6 47h0M32.2 94.3h0M31.9 78.7h0M81.3 35.2h0M28.2 56.9h0M36.4 86.3h0M46.4 15.6h0M84.6 97h0M74.6 59.6h0M2 53.3h0M3.1 36.8h0M27.1 50.5h0M29.2 2.3h0M108.9 84.9h0M60.4 13.1h0M6.7 101.2h0M58.2 93.3h0M85.6 81.6h0M83.9 86.2h0M52.5 21.8h0M73 71.1h0M56.6 79h0M106.8 102.2h0M12.6 31.8h0M67.2 75h0M31.7 100.9h0M50.8 83.1h0M6.7 30.9h0M3.4 85.9h0M57.4 103.2h0M66.5 35.9h0M39.5 41.2h0M22.4 12.6h0M71.2 34.7h0M50 77.1h0M30.6 48.2h0M35.9 35.8h0M105.2 52.8h0M89.5 76.2h0M70.2 4.4h0M16.3 81.6h0M45.5 105.7h0M69.7 89.3h0M81.5 104.3h0M72 101.6h0M50.7 59.4h0M40 3.1h0M79.3 88.8h0M30.1 72.7h0M22.3 33.4h0M104.3 23.9h0M94.8 74.7h0M64.8 92.3h0M51.1 99.3h0M84.9 33.1h0M71.4 80.7h0M66.1 29.3h0M49.4 64.7h0M79.5 51.9h0M6.2 14.1h0M35.4 27.1h0M16.4 37.3h0M102 107.6h0M80.6 2.2h0M26.7 108.2h0M76.2 93h0M22.6 26.8h0M11.6 57.3h0M40.5 51.5h0M15.9 3.8h0M42.7 100.4h0M7.8 47.5h0M44.5 87h0M1.5 16.7h0M87.1 92.6h0M10.7 107.1h0M62.1 33.1h0M55.6 40.6h0M34 90.1h0M17.6 93.4h0M78 20.6h0M26.2 96.8h0M5.1 75.7h0M99.1 79.5h0M101.8 47.1h0M79.6 81.6h0M64.4 53.1h0M65.3 4.1h0M44.6 71.5h0M18.4 69.4h0M37.8 105.7h0M21.2 57.5h0M90.9 12.1h0" stroke="#7655b2" stroke-width="4.2" stroke-linecap="round" fill="none" opacity=".6"/><path d="M80.4 24.1h0M9.4 65.7h0M14.2 42h0M97.1 94.6h0M13.8 9.8h0M25 89.9h0M3.7 25.2h0M12.6 14.7h0M57.5 20.7h0M45.2 79.7h0M79.1 45.5h0M85.9 62.4h0M90.3 27.7h0M40.9 63.3h0M103.2 67.3h0M52.3 27.9h0M31.4 24.2h0M107.5 96.1h0M97.6 57.7h0M77.5 32.8h0M53 16.6h0M46.4 28.1h0M11.8 99.7h0M11.4 88.2h0M76.6 10.7h0M53.4 107.9h0M107.6 61.4h0M84.4 77h0M32.5 60h0M65.5 43.3h0M89.5 48.7h0M81.9 7.9h0M49 5.8h0M70.9 94.6h0M59.7 61.7h0M68.2 25.6h0M70.8 41.8h0M52.6 36.5h0M60.9 73.5h0M36.4 74.5h0M92.7 58.6h0M106.9 34.2h0M100.3 20.5h0M40.3 88.6h0M4.5 66.9h0M95.1 102.3h0M74.7 38.1h0M36.9 68.7h0M8.2 4h0M96.2 68.3h0M18.6 47h0M32.2 94.3h0M31.9 78.7h0M81.3 35.2h0M28.2 56.9h0M36.4 86.3h0M46.4 15.6h0M84.6 97h0M74.6 59.6h0M2 53.3h0M3.1 36.8h0M27.1 50.5h0M29.2 2.3h0M108.9 84.9h0M60.4 13.1h0M6.7 101.2h0M58.2 93.3h0M85.6 81.6h0M83.9 86.2h0M52.5 21.8h0M73 71.1h0M56.6 79h0M106.8 102.2h0M12.6 31.8h0M67.2 75h0M31.7 100.9h0M50.8 83.1h0M6.7 30.9h0M3.4 85.9h0M57.4 103.2h0M66.5 35.9h0M39.5 41.2h0M22.4 12.6h0M71.2 34.7h0M50 77.1h0M30.6 48.2h0M35.9 35.8h0M105.2 52.8h0M89.5 76.2h0M70.2 4.4h0M16.3 81.6h0M45.5 105.7h0M69.7 89.3h0M81.5 104.3h0M72 101.6h0M50.7 59.4h0M40 3.1h0M79.3 88.8h0M30.1 72.7h0M22.3 33.4h0M104.3 23.9h0M94.8 74.7h0M64.8 92.3h0M51.1 99.3h0M84.9 33.1h0M71.4 80.7h0M66.1 29.3h0M49.4 64.7h0M79.5 51.9h0M6.2 14.1h0M35.4 27.1h0M16.4 37.3h0M102 107.6h0M80.6 2.2h0M26.7 108.2h0M76.2 93h0M22.6 26.8h0M11.6 57.3h0M40.5 51.5h0M15.9 3.8h0M42.7 100.4h0M7.8 47.5h0M44.5 87h0M1.5 16.7h0M87.1 92.6h0M10.7 107.1h0M62.1 33.1h0M55.6 40.6h0M34 90.1h0M17.6 93.4h0M78 20.6h0M26.2 96.8h0M5.1 75.7h0M99.1 79.5h0M101.8 47.1h0M79.6 81.6h0M64.4 53.1h0M65.3 4.1h0M44.6 71.5h0M18.4 69.4h0M37.8 105.7h0M21.2 57.5h0M90.9 12.1h0" stroke="#c3a6e4" stroke-width="2.2" stroke-linecap="round" fill="none"/><path d="M18.8 64.8h0M49.6 91h0M85.1 67.3h0M66 103.9h0M59.8 2.5h0M55.5 10.7h0M62.8 101.1h0M91.6 104.7h0M6 91.9h0M89 19.6h0M49.4 12.3h0M57.2 44.9h0M35.9 63.5h0M54.5 55.6h0M98.9 104.3h0M41.2 27.8h0M103.2 97.7h0M4.4 106.6h0M97 15.8h0M18.1 76.7h0M55.8 87.1h0M44.2 11.4h0M91.7 23.1h0M105.2 9.3h0M68.3 62.4h0M25.6 85.1h0M71.9 12h0M105.5 15.7h0M29.9 84.6h0M3.5 10.9h0M30.4 6.5h0M47 94.9h0M79.1 60.9h0M97 5.7h0M16.1 21.8h0M95.6 107.8h0M95.3 88.2h0M62.2 49.6h0M25.2 39.7h0M14.7 49h0M9.4 73.1h0M96.3 50.1h0M99.6 73.5h0M74.5 4.9h0M92.2 3.3h0M83.1 54.7h0M66.5 86h0M103 31.5h0M17 60.8h0M7.8 82.5h0M1.1 90.4h0M84.6 16.6h0M69.4 15.5h0M43.4 22.1h0M30.7 65h0M39.6 33h0M81.2 99.6h0M83.3 58.9h0M8.3 60.7h0M99.1 43.4h0M2.8 81.7h0M88.6 86.2h0M83.4 28.8h0M25.6 7.9h0M3.3 71h0M32.3 16h0M107.9 30h0M108.4 74h0M27.1 19.9h0M64.3 70.7h0M76.7 100.8h0M73.1 17.7h0M36.5 13.8h0M38.2 47.3h0M11.9 19h0M94.2 31h0M40.6 74.2h0M70.8 53.8h0M46.2 45.1h0M89.5 42.9h0M84.3 38.1h0M18.1 52.6h0M48.8 71.7h0M99.1 53.4h0M56.6 73.6h0M59.2 55.3h0M102 36.3h0M107.8 1.2h0M17.1 26h0" stroke="#7655b2" stroke-width="3" stroke-linecap="round" fill="none" opacity=".6"/></g>
<g transform="translate(560 58.2)" clip-path="url(#c4)"><rect width="110" height="109.3" fill="#bb9add"/><rect width="110" height="109.3" filter="url(#he4)"/><ellipse cx="60" cy="62" rx="10" ry="10" fill="#e7bde4" opacity="0.6" filter="url(#bl3)"/><ellipse cx="15" cy="85" rx="12" ry="8" fill="#e4bde4" opacity="0.6" filter="url(#bl3)"/><path d="M48 24Q66 30 74 33Q82 36 90 38Q98 40 110 48" stroke="#f4e8f7" stroke-width="3.2" stroke-linecap="round" fill="none" opacity="0.95"/><path d="M28 50Q40 68 46 77Q52 86 46 110" stroke="#f4e8f7" stroke-width="3" stroke-linecap="round" fill="none" opacity="0.95"/><path d="M0 60Q14 56 28 50" stroke="#f4e8f7" stroke-width="2.9" stroke-linecap="round" fill="none" opacity="0.95"/><path d="M82 36Q78 60 90 80" stroke="#f4e8f7" stroke-width="2.3" stroke-linecap="round" fill="none" opacity="0.95"/><path d="M20 0Q30 16 48 24" stroke="#f4e8f7" stroke-width="2.4" stroke-linecap="round" fill="none" opacity="0.95"/><path d="M78.1 87.6h0M2.8 18.9h0M97.7 13.7h0M71.8 36.4h0M70.7 93.5h0M63.8 43h0M35.8 67.7h0M68.9 44.9h0M51.4 58.5h0M28.9 20.3h0M62.4 11.8h0M65.6 87h0M90.4 28.1h0M45.8 100.1h0M38.8 107.4h0M22.6 91.2h0M5.4 72.6h0M88 59.8h0M69.3 99h0M108.6 20.2h0M57.4 5.3h0M41.9 16.6h0M18.3 68h0M10.1 17.5h0M2.1 88.3h0M27.3 8.8h0M68.1 78h0M69.1 59.7h0M58.7 78.2h0M34.5 91.4h0M75.9 93.1h0M97.2 91.1h0M57.1 57h0M80.2 63.1h0M4 99.4h0M22.5 53h0M49.9 11h0M63.5 64.3h0M88.8 66.7h0M34.1 61.6h0M104.6 69.3h0M92.1 2.2h0M75.5 23.7h0M18.6 36.5h0M20.2 10.2h0M23.8 25.7h0M27.9 86.7h0M10 22.5h0M6.9 55.3h0M25.7 58h0M53.7 8.7h0M96.5 61.4h0M43.7 60h0M103.3 54h0M43.6 24.3h0M42.1 84h0M67.2 30.6h0M99.8 50.3h0M2.2 61.2h0M47.1 4.2h0M38.7 95.6h0M19 86.6h0M34.2 74.5h0M73.9 2.3h0M87.3 53.5h0M40.8 88.2h0M89.8 8.3h0M11.2 35.7h0M34.8 48.3h0M47.2 105.3h0M73.5 104.2h0M67.8 26.1h0M62.3 18.2h0M101.5 33.5h0M97.6 24.6h0M89.9 89.8h0M16.7 26.6h0M14.8 77.8h0M1.1 31.5h0M66.1 20.6h0M8.5 97.1h0M32 1.7h0M77.1 107.1h0M46.1 66.4h0M27.4 45.7h0M81.1 71.6h0M90.8 103h0M57 106.3h0M13.7 56.5h0M51.8 47.8h0M7.2 49.4h0M30.2 71.4h0M88.4 85.1h0M43 103.4h0M59.7 69.8h0M15.2 4.8h0M2.6 6.8h0M82.5 102.3h0M30.9 54.3h0M76.4 45.3h0M39.9 4.1h0M96.2 39.1h0M1.6 82.8h0M5.3 31.5h0M20.8 64h0M26.3 65.3h0M107.3 35.5h0M76.6 28h0M56.5 98h0M83.3 80.8h0M90.2 98.7h0M63.4 25.2h0M22.4 32.5h0M46.6 81.3h0M8.9 75.2h0M68 103.9h0M76.8 7.7h0M79.4 34.2h0M11.8 60.2h0M106.1 43.5h0M14.5 71.1h0M10.1 46.2h0M104.2 61.8h0M30.9 103.9h0M31.6 16.1h0M99.9 58.1h0M8.7 40.8h0M95.1 101.3h0M28.5 91.5h0M99.6 2.2h0M107.1 92h0M8 65.4h0M59.7 84.1h0M97.2 72.9h0M104.2 104.5h0M89.3 80.8h0M45.9 73.6h0M85.6 29.5h0M42 47.6h0M100.2 8.1h0M12.6 92.8h0M38.9 71.9h0M51.4 74.7h0M81.1 42.1h0M73.1 58.1h0M28.2 40.1h0M10.2 27.3h0M37.8 38.4h0M18.6 48.8h0M16.8 43.7h0M94.6 43h0M84.4 1.2h0M62.8 93.9h0M15.7 105.1h0M79.5 95.4h0M86.2 24.6h0M53.9 63.6h0M23.6 105.2h0M70 86.6h0M67.3 66.1h0M25.6 95.1h0" stroke="#6748ab" stroke-width="4.2" stroke-linecap="round" fill="none" opacity=".6"/><path d="M78.1 87.6h0M2.8 18.9h0M97.7 13.7h0M71.8 36.4h0M70.7 93.5h0M63.8 43h0M35.8 67.7h0M68.9 44.9h0M51.4 58.5h0M28.9 20.3h0M62.4 11.8h0M65.6 87h0M90.4 28.1h0M45.8 100.1h0M38.8 107.4h0M22.6 91.2h0M5.4 72.6h0M88 59.8h0M69.3 99h0M108.6 20.2h0M57.4 5.3h0M41.9 16.6h0M18.3 68h0M10.1 17.5h0M2.1 88.3h0M27.3 8.8h0M68.1 78h0M69.1 59.7h0M58.7 78.2h0M34.5 91.4h0M75.9 93.1h0M97.2 91.1h0M57.1 57h0M80.2 63.1h0M4 99.4h0M22.5 53h0M49.9 11h0M63.5 64.3h0M88.8 66.7h0M34.1 61.6h0M104.6 69.3h0M92.1 2.2h0M75.5 23.7h0M18.6 36.5h0M20.2 10.2h0M23.8 25.7h0M27.9 86.7h0M10 22.5h0M6.9 55.3h0M25.7 58h0M53.7 8.7h0M96.5 61.4h0M43.7 60h0M103.3 54h0M43.6 24.3h0M42.1 84h0M67.2 30.6h0M99.8 50.3h0M2.2 61.2h0M47.1 4.2h0M38.7 95.6h0M19 86.6h0M34.2 74.5h0M73.9 2.3h0M87.3 53.5h0M40.8 88.2h0M89.8 8.3h0M11.2 35.7h0M34.8 48.3h0M47.2 105.3h0M73.5 104.2h0M67.8 26.1h0M62.3 18.2h0M101.5 33.5h0M97.6 24.6h0M89.9 89.8h0M16.7 26.6h0M14.8 77.8h0M1.1 31.5h0M66.1 20.6h0M8.5 97.1h0M32 1.7h0M77.1 107.1h0M46.1 66.4h0M27.4 45.7h0M81.1 71.6h0M90.8 103h0M57 106.3h0M13.7 56.5h0M51.8 47.8h0M7.2 49.4h0M30.2 71.4h0M88.4 85.1h0M43 103.4h0M59.7 69.8h0M15.2 4.8h0M2.6 6.8h0M82.5 102.3h0M30.9 54.3h0M76.4 45.3h0M39.9 4.1h0M96.2 39.1h0M1.6 82.8h0M5.3 31.5h0M20.8 64h0M26.3 65.3h0M107.3 35.5h0M76.6 28h0M56.5 98h0M83.3 80.8h0M90.2 98.7h0M63.4 25.2h0M22.4 32.5h0M46.6 81.3h0M8.9 75.2h0M68 103.9h0M76.8 7.7h0M79.4 34.2h0M11.8 60.2h0M106.1 43.5h0M14.5 71.1h0M10.1 46.2h0M104.2 61.8h0M30.9 103.9h0M31.6 16.1h0M99.9 58.1h0M8.7 40.8h0M95.1 101.3h0M28.5 91.5h0M99.6 2.2h0M107.1 92h0M8 65.4h0M59.7 84.1h0M97.2 72.9h0M104.2 104.5h0M89.3 80.8h0M45.9 73.6h0M85.6 29.5h0M42 47.6h0M100.2 8.1h0M12.6 92.8h0M38.9 71.9h0M51.4 74.7h0M81.1 42.1h0M73.1 58.1h0M28.2 40.1h0M10.2 27.3h0M37.8 38.4h0M18.6 48.8h0M16.8 43.7h0M94.6 43h0M84.4 1.2h0M62.8 93.9h0M15.7 105.1h0M79.5 95.4h0M86.2 24.6h0M53.9 63.6h0M23.6 105.2h0M70 86.6h0M67.3 66.1h0M25.6 95.1h0" stroke="#c3a6e4" stroke-width="2.2" stroke-linecap="round" fill="none"/><path d="M76.5 79.4h0M108.2 53.5h0M58.5 45.8h0M70.7 19.8h0M52.8 91.2h0M72 28.4h0M22 70.5h0M80.8 23.5h0M72.6 75.5h0M85.9 43.1h0M31.4 43.9h0M72.1 108.1h0M83.9 9.7h0M21.7 20.3h0M12.1 85.7h0M51.7 80h0M50.9 25.4h0M88.9 18.3h0M33.1 97.9h0M30.9 30.9h0M101.5 46.4h0M77.1 50.3h0M50.7 33.6h0M56.8 30.7h0M34.4 11.7h0M84.4 87h0M38.1 43.6h0M35.5 82.2h0M101.8 14.7h0M91.6 108.2h0M61.3 106.7h0M94.6 32.1h0M105.1 83.1h0M46.5 32.6h0M58.2 21.4h0M70 82.2h0M10.4 102.4h0M38.4 26.3h0M59.6 37.8h0M61.8 7.4h0M9.3 106.7h0M80.8 3.5h0M3 40h0M49.8 86.3h0M106.6 24.2h0M57.1 12.1h0M39.8 34.4h0M6.8 13.1h0M6.1 26.6h0M32.3 86.6h0M39.5 64.5h0M27 108.2h0M72.1 41.7h0M67.1 9.2h0M52.1 99.4h0M60.9 49.5h0M68.6 73.5h0M74 98.1h0M40.1 11.1h0M49.3 20.9h0M28.2 50.9h0M87.9 34.3h0M74.3 66.5h0M16.5 60.9h0M99.1 81.3h0M72 13.5h0M80.2 16.9h0M104 75.2h0M82.9 92.4h0M76.3 55.1h0M67 55.9h0M2.1 55.5h0M1.8 24h0M12.7 41.9h0M32.2 8h0M93.1 67.5h0M83.8 34.5h0M20.2 77.3h0M17.4 93.5h0M47 27.4h0M104.8 9h0M96 7.8h0M105.9 4h0M57.9 88.9h0M25.9 78.7h0M102.9 38.8h0M20.8 96.5h0M75.1 62h0M93 51.6h0M92.8 57.9h0M7.1 5.4h0M54.4 42.3h0M25.2 16.1h0M47.5 95.1h0M69.3 50h0M65.7 34.6h0M36.9 101.6h0M38.4 53.1h0M6.8 83h0M30.1 35.3h0" stroke="#6748ab" stroke-width="3" stroke-linecap="round" fill="none" opacity=".6"/></g>
<g transform="translate(687 58.2)" clip-path="url(#c5)"><rect width="110" height="109.3" fill="#bd9ddb"/><rect width="110" height="109.3" filter="url(#he5)"/><ellipse cx="50" cy="56" rx="34" ry="22" fill="#ecc6e5" opacity="0.95" filter="url(#bl3)"/><ellipse cx="16" cy="46" rx="20" ry="7" fill="#ecc9e6" opacity="0.9" filter="url(#bl3)"/><ellipse cx="60" cy="22" rx="6" ry="22" fill="#ecc2e2" opacity="0.9" filter="url(#bl3)"/><ellipse cx="92" cy="78" rx="20" ry="7" fill="#ecc9e6" opacity="0.9" filter="url(#bl3)"/><ellipse cx="49" cy="96" rx="6" ry="16" fill="#ecc9e6" opacity="0.9" filter="url(#bl3)"/><ellipse cx="100" cy="20" rx="9" ry="16" fill="#ecc8e6" opacity="0.7" filter="url(#bl3)"/><path d="M0 42Q20 46 36 50" stroke="#f4e8f7" stroke-width="4.3" stroke-linecap="round" fill="none" opacity="0.55"/><path d="M62 8Q60 25 58 40" stroke="#f4e8f7" stroke-width="3.5" stroke-linecap="round" fill="none" opacity="0.55"/><path d="M78 72Q94 78 110 82" stroke="#f4e8f7" stroke-width="4.2" stroke-linecap="round" fill="none" opacity="0.55"/><path d="M46 82Q50 96 50 110" stroke="#f4e8f7" stroke-width="4.4" stroke-linecap="round" fill="none" opacity="0.55"/><path d="M58 4Q62 20 66 32" stroke="#e0488c" stroke-width="1.3" stroke-linecap="round" fill="none"/><path d="M90 16L108 10" stroke="#e0488c" stroke-width="1.3" stroke-linecap="round" fill="none"/><path d="M70 82L84 88" stroke="#e0488c" stroke-width="1.3" stroke-linecap="round" fill="none"/><path d="M34.7 83.4h0M37.1 18.6h0M38.6 81.6h0M16.9 71.7h0M96.2 99.8h0M25.5 107h0M67.1 104h0M89.2 57.4h0M28.1 100.7h0M108.9 68h0M13.6 89.3h0M83.7 95.4h0M106.4 105.7h0M80.5 43.1h0M68.6 89.6h0M56.7 64.3h0M86.5 100.9h0M76.5 14.3h0M46.2 32.2h0M29.4 14.6h0M12.9 52.6h0M105.5 63.4h0M2.6 21.5h0M7.2 94.1h0M35.5 78.6h0M49.7 63.6h0M72 9h0M69.6 39.2h0M106.5 29.7h0M45.7 9.9h0M54.2 18.9h0M94.5 37.5h0M27.5 5.7h0M96.2 26.2h0M108.7 23.7h0M67.7 30h0M94.1 53.3h0M74.8 90.9h0M83.2 63h0M6.3 81.1h0M92.7 92.9h0M82.1 72.1h0M88.4 25.9h0M29.5 10.2h0M4.8 74.5h0M34.8 90.1h0M52.3 3.8h0M89.6 33.4h0M49.6 19.9h0M23.7 95.3h0M49.7 80h0M81.4 49.3h0M9.3 41.7h0M97.2 66.9h0M11.4 79.6h0M57.6 105.9h0M70.9 73.3h0M52.6 46.6h0M23.5 39.5h0M37.2 99h0M2.6 8.1h0M107.8 2.4h0M106.1 49.2h0M21.4 59.5h0M17.9 5.9h0M14.1 98.3h0M6.8 5.5h0M19.8 103.4h0M20.5 82.7h0M66.2 80.7h0M90.2 39.1h0M19 87.1h0M67.4 98.6h0M75.4 36.7h0M85.5 12.4h0M9.8 67h0M108.7 53.1h0M12.1 18.7h0M31 88.2h0M15.3 32.1h0M104.4 100.1h0M1.7 59.1h0M58.3 1.8h0M44 91.2h0M100.6 56.1h0M75.1 74.2h0M54.3 83.5h0M18.7 25.8h0M106.7 8.1h0M108.8 33.9h0M40.6 76.2h0M43.5 97.6h0M92.5 45.5h0M67.7 25.5h0M43.8 27.1h0M104.5 86.6h0M81.3 58.9h0M70.2 14.6h0M28.9 72.2h0M108.3 43.9h0M65.6 9.4h0M46.3 3.2h0M21.4 29h0M10.7 29.4h0M18.1 41.4h0M18.5 56h0M109 93.2h0" stroke="#6e4fae" stroke-width="4.2" stroke-linecap="round" fill="none" opacity=".6"/><path d="M34.7 83.4h0M37.1 18.6h0M38.6 81.6h0M16.9 71.7h0M96.2 99.8h0M25.5 107h0M67.1 104h0M89.2 57.4h0M28.1 100.7h0M108.9 68h0M13.6 89.3h0M83.7 95.4h0M106.4 105.7h0M80.5 43.1h0M68.6 89.6h0M56.7 64.3h0M86.5 100.9h0M76.5 14.3h0M46.2 32.2h0M29.4 14.6h0M12.9 52.6h0M105.5 63.4h0M2.6 21.5h0M7.2 94.1h0M35.5 78.6h0M49.7 63.6h0M72 9h0M69.6 39.2h0M106.5 29.7h0M45.7 9.9h0M54.2 18.9h0M94.5 37.5h0M27.5 5.7h0M96.2 26.2h0M108.7 23.7h0M67.7 30h0M94.1 53.3h0M74.8 90.9h0M83.2 63h0M6.3 81.1h0M92.7 92.9h0M82.1 72.1h0M88.4 25.9h0M29.5 10.2h0M4.8 74.5h0M34.8 90.1h0M52.3 3.8h0M89.6 33.4h0M49.6 19.9h0M23.7 95.3h0M49.7 80h0M81.4 49.3h0M9.3 41.7h0M97.2 66.9h0M11.4 79.6h0M57.6 105.9h0M70.9 73.3h0M52.6 46.6h0M23.5 39.5h0M37.2 99h0M2.6 8.1h0M107.8 2.4h0M106.1 49.2h0M21.4 59.5h0M17.9 5.9h0M14.1 98.3h0M6.8 5.5h0M19.8 103.4h0M20.5 82.7h0M66.2 80.7h0M90.2 39.1h0M19 87.1h0M67.4 98.6h0M75.4 36.7h0M85.5 12.4h0M9.8 67h0M108.7 53.1h0M12.1 18.7h0M31 88.2h0M15.3 32.1h0M104.4 100.1h0M1.7 59.1h0M58.3 1.8h0M44 91.2h0M100.6 56.1h0M75.1 74.2h0M54.3 83.5h0M18.7 25.8h0M106.7 8.1h0M108.8 33.9h0M40.6 76.2h0M43.5 97.6h0M92.5 45.5h0M67.7 25.5h0M43.8 27.1h0M104.5 86.6h0M81.3 58.9h0M70.2 14.6h0M28.9 72.2h0M108.3 43.9h0M65.6 9.4h0M46.3 3.2h0M21.4 29h0M10.7 29.4h0M18.1 41.4h0M18.5 56h0M109 93.2h0" stroke="#c3a6e4" stroke-width="2.2" stroke-linecap="round" fill="none"/><path d="M100.1 84.8h0M12.9 12.7h0M63.4 32.5h0M103.5 18.8h0M45.2 76h0M44 85.3h0M56.7 96.5h0M21.5 34.3h0M80.5 21.9h0M46.8 102.8h0M71.3 104.6h0M32.1 1.7h0M54.1 14.3h0M61.9 75.3h0M13.9 60.7h0M99.4 5h0M92.7 65h0M41.2 21.9h0M83.1 8.6h0M74.1 101.3h0M35.3 59.2h0M61.6 83.8h0M73.7 3.2h0M54.1 102.4h0M13.5 6.4h0M16.4 64.6h0M10.1 58.4h0M40.9 13.2h0M40.8 36.6h0M28 28.2h0M20.7 2.5h0M43.9 43.9h0M90.6 100.4h0M7.2 26.1h0M7.8 47.2h0M94.4 88h0M37.6 93.8h0M10.4 3.1h0M5.3 53.3h0M62.4 103.7h0M56.4 87.9h0M33.7 63.4h0M100.2 103.7h0M99.8 37.5h0M45.6 56.8h0M1.1 88.3h0M30.8 24.8h0M83.5 17.3h0M87.5 73.1h0M19.2 16.5h0M50.3 12.4h0M2.9 13.7h0M108 15.2h0M98.5 44.5h0M7.2 10.8h0M99.7 29.3h0M35.1 10.3h0M50.4 33.9h0M11.1 85.7h0M38.1 26.4h0M30.3 97.1h0M95 14.5h0M25.5 22.6h0M96.2 19.8h0M79.1 85.5h0M95.9 82.9h0M23.6 100.5h0" stroke="#6e4fae" stroke-width="3" stroke-linecap="round" fill="none" opacity=".6"/></g>
<g transform="translate(802 58.2)" clip-path="url(#c6)"><rect width="110" height="109.3" fill="#c0a1dc"/><rect width="110" height="109.3" filter="url(#he6)"/><ellipse cx="40" cy="27" rx="36" ry="5" fill="#e3c6ea" opacity="0.8" filter="url(#bl3)"/><ellipse cx="60" cy="56" rx="36" ry="5" fill="#e3c6ea" opacity="0.8" filter="url(#bl3)"/><ellipse cx="80" cy="76" rx="30" ry="5" fill="#e3c6ea" opacity="0.8" filter="url(#bl3)"/><ellipse cx="25" cy="92" rx="26" ry="6" fill="#e3c6ea" opacity="0.7" filter="url(#bl3)"/><ellipse cx="85" cy="38" rx="22" ry="6" fill="#e0c2e8" opacity="0.7" filter="url(#bl3)"/><path d="M0 30Q30 22 60 30" stroke="#f4e8f7" stroke-width="4.4" stroke-linecap="round" fill="none" opacity="0.5"/><path d="M20 60Q50 52 80 60" stroke="#f4e8f7" stroke-width="4.8" stroke-linecap="round" fill="none" opacity="0.5"/><path d="M50 80Q80 72 110 80" stroke="#f4e8f7" stroke-width="3" stroke-linecap="round" fill="none" opacity="0.5"/><path d="M0 95L25 88" stroke="#f4e8f7" stroke-width="4.9" stroke-linecap="round" fill="none" opacity="0.5"/><path d="M89.7 7.1h0M88.1 87.3h0M21.3 105.2h0M40.3 49.4h0M71.6 75.1h0M81.6 30.8h0M53.3 15.7h0M30.7 53.7h0M9 38.4h0M89 20.2h0M47.8 5h0M80.7 11.7h0M20.6 81h0M48.8 60.3h0M66.8 54.3h0M46.9 17.5h0M16.4 22.9h0M27.4 35.5h0M97.3 23.9h0M15.2 29.8h0M15.2 90h0M104 83.2h0M104 60h0M49.9 42.3h0M71.5 26.7h0M57.5 42.8h0M73.2 94.5h0M72.1 15.9h0M65.1 79.5h0M59.1 8.1h0M11.2 58.8h0M78.5 54.1h0M79.7 60h0M90.8 81.3h0M32.7 85.3h0M69.9 8.3h0M94.3 30.8h0M50.9 47.1h0M59 12.6h0M30.5 5.5h0M107.6 53.3h0M31.9 19h0M66.3 1.5h0M18.1 72.7h0M58 76.9h0M92.6 35.8h0M83.4 87.4h0M90.3 58.4h0M83.5 4.7h0M21.7 62.9h0M60.9 66.5h0M35.6 22.4h0M43.1 66.9h0M97 36.6h0M7.2 93.3h0M32.3 96.7h0M92 13.2h0M84.8 103.6h0M33.1 40.2h0M10.2 68.6h0M96.6 49.3h0M4 65.3h0M59.6 49.1h0M39.7 23.2h0M24.3 13.8h0M24.9 92.7h0M106.6 67.1h0M37.6 78.4h0M99 6.7h0M108 105.2h0M10.7 44.3h0M68.4 83.7h0M25 55.1h0M99.1 103.2h0M89.1 51.5h0M92.7 70.2h0M4.7 13.3h0M53.8 3h0M38.2 42.7h0M11.7 10h0M83.4 74.5h0M20.1 55.4h0M53.9 60.4h0M38.5 55h0M5.4 73.1h0M96.9 79.9h0M91.7 106h0M81.2 24.7h0M34 65h0M4.7 105.9h0M101.6 55.9h0M68.1 38h0M50.6 11.2h0M44.6 71.7h0M15.5 67.7h0M57.1 93.5h0M23.2 1.2h0M14.2 74.8h0M67.3 90.3h0M36.9 8.2h0M25.5 26.1h0M36.6 70.6h0M30.3 106.6h0M19.1 94.8h0M27.2 100.2h0M25.6 60.3h0M27.6 78h0M35.7 92.8h0M55.2 19.8h0M48.6 33.2h0M107.8 23.4h0M47.6 107h0M72.1 70.2h0M89.7 76h0M39 65h0M46.5 22.8h0M10.4 98.9h0M46.1 56.4h0M18.2 59.4h0M72 62h0M2.3 1.8h0M80 78.9h0M21.4 8.1h0M8 85.3h0M36.2 60.6h0" stroke="#7252b0" stroke-width="4.2" stroke-linecap="round" fill="none" opacity=".6"/><path d="M89.7 7.1h0M88.1 87.3h0M21.3 105.2h0M40.3 49.4h0M71.6 75.1h0M81.6 30.8h0M53.3 15.7h0M30.7 53.7h0M9 38.4h0M89 20.2h0M47.8 5h0M80.7 11.7h0M20.6 81h0M48.8 60.3h0M66.8 54.3h0M46.9 17.5h0M16.4 22.9h0M27.4 35.5h0M97.3 23.9h0M15.2 29.8h0M15.2 90h0M104 83.2h0M104 60h0M49.9 42.3h0M71.5 26.7h0M57.5 42.8h0M73.2 94.5h0M72.1 15.9h0M65.1 79.5h0M59.1 8.1h0M11.2 58.8h0M78.5 54.1h0M79.7 60h0M90.8 81.3h0M32.7 85.3h0M69.9 8.3h0M94.3 30.8h0M50.9 47.1h0M59 12.6h0M30.5 5.5h0M107.6 53.3h0M31.9 19h0M66.3 1.5h0M18.1 72.7h0M58 76.9h0M92.6 35.8h0M83.4 87.4h0M90.3 58.4h0M83.5 4.7h0M21.7 62.9h0M60.9 66.5h0M35.6 22.4h0M43.1 66.9h0M97 36.6h0M7.2 93.3h0M32.3 96.7h0M92 13.2h0M84.8 103.6h0M33.1 40.2h0M10.2 68.6h0M96.6 49.3h0M4 65.3h0M59.6 49.1h0M39.7 23.2h0M24.3 13.8h0M24.9 92.7h0M106.6 67.1h0M37.6 78.4h0M99 6.7h0M108 105.2h0M10.7 44.3h0M68.4 83.7h0M25 55.1h0M99.1 103.2h0M89.1 51.5h0M92.7 70.2h0M4.7 13.3h0M53.8 3h0M38.2 42.7h0M11.7 10h0M83.4 74.5h0M20.1 55.4h0M53.9 60.4h0M38.5 55h0M5.4 73.1h0M96.9 79.9h0M91.7 106h0M81.2 24.7h0M34 65h0M4.7 105.9h0M101.6 55.9h0M68.1 38h0M50.6 11.2h0M44.6 71.7h0M15.5 67.7h0M57.1 93.5h0M23.2 1.2h0M14.2 74.8h0M67.3 90.3h0M36.9 8.2h0M25.5 26.1h0M36.6 70.6h0M30.3 106.6h0M19.1 94.8h0M27.2 100.2h0M25.6 60.3h0M27.6 78h0M35.7 92.8h0M55.2 19.8h0M48.6 33.2h0M107.8 23.4h0M47.6 107h0M72.1 70.2h0M89.7 76h0M39 65h0M46.5 22.8h0M10.4 98.9h0M46.1 56.4h0M18.2 59.4h0M72 62h0M2.3 1.8h0M80 78.9h0M21.4 8.1h0M8 85.3h0M36.2 60.6h0" stroke="#c3a6e4" stroke-width="2.2" stroke-linecap="round" fill="none"/><path d="M46.1 88.6h0M75.3 98.5h0M77.7 87.7h0M58.4 59.4h0M12.8 4.6h0M33.9 45.1h0M99.4 92h0M48.9 52.5h0M25.2 81.6h0M2.6 53.2h0M48 27.7h0M63.1 27.3h0M89.2 29.3h0M15.6 36.9h0M9.4 30.5h0M10.4 105.7h0M52 23.1h0M1.2 100.4h0M108.6 82.1h0M108.4 61.6h0M31.9 59.5h0M92.5 3.7h0M99.8 63.7h0M108.8 48.5h0M73.3 22.2h0M21.9 38.3h0M102.1 22h0M86.5 63.5h0M84.7 48.9h0M105.4 88.3h0M100.9 107.5h0M32.9 32.4h0M36.8 87.9h0M67.2 94.6h0M54.4 69.3h0M17.9 12.6h0M38 97.5h0M99 98.7h0M105 73h0M68.4 48.2h0M41.8 5.1h0M86.5 39.5h0M84.7 19.1h0M67.6 24.5h0M17.8 99.5h0M92.1 90.5h0M93.8 65.5h0M79 73h0M53.2 97.9h0M15.1 82.5h0M10.6 21.6h0M33.2 2.3h0M72.8 49.7h0M68.1 31h0M20.7 26.1h0M58 107.6h0M74.7 56.5h0M95.8 17.1h0M33.4 76h0M54.8 104.4h0M57.5 86.9h0M9.7 17.3h0M43.3 103.6h0M59.1 54.5h0M53.5 39h0M39.6 31.2h0M40 83.4h0M91.3 40.7h0M18.3 1.5h0M56.9 25h0M75.3 42.7h0M97.8 84.6h0M61.2 35.7h0M30.4 90.7h0M105.3 13.7h0M71.6 104.4h0M83.8 96.4h0M59.1 99.3h0" stroke="#7252b0" stroke-width="3" stroke-linecap="round" fill="none" opacity=".6"/></g>
<g transform="translate(917 58.2)" clip-path="url(#c7)"><rect width="110" height="109.3" fill="#b791d6"/><rect width="110" height="109.3" filter="url(#he7)"/><ellipse cx="84" cy="24" rx="26" ry="24" fill="#ef9fcd" opacity="0.95" filter="url(#bl3)"/><ellipse cx="78" cy="66" rx="24" ry="26" fill="#f1a8d2" opacity="0.95" filter="url(#bl3)"/><ellipse cx="92" cy="100" rx="18" ry="12" fill="#f0a6d0" opacity="0.9" filter="url(#bl3)"/><ellipse cx="58" cy="70" rx="14" ry="14" fill="#e9a3d2" opacity="0.7" filter="url(#bl3)"/><ellipse cx="96" cy="14" rx="7" ry="5" fill="#fbeef6"/><ellipse cx="80" cy="44" rx="8" ry="5" fill="#fbeef6"/><ellipse cx="66" cy="72" rx="5" ry="9" fill="#fbeef6"/><ellipse cx="94" cy="66" rx="6" ry="8" fill="#fbeef6"/><ellipse cx="104" cy="40" rx="5" ry="7" fill="#fbeef6"/><ellipse cx="80" cy="98" rx="6" ry="6" fill="#fbeef6"/><ellipse cx="100" cy="86" rx="4" ry="6" fill="#fbeef6"/><path d="M27.6 63.4h0M106 71.6h0M53.1 34.2h0M15.9 108.2h0M34.9 21.1h0M64.7 99.9h0M9.3 18.3h0M54.2 17.5h0M30.2 27.1h0M46.6 92.8h0M44.2 32.3h0M33.2 84.6h0M92 79.6h0M98.9 86.6h0M38 41.9h0M43 80.2h0M75 101.5h0M104.9 2.5h0M73.4 95.3h0M100.1 99.8h0M45.7 44.8h0M49.2 83.3h0M47.3 9.8h0M15.2 8.1h0M17.2 1h0M59.2 37.2h0M12 105.8h0M8.6 66.3h0M99.6 46.6h0M20.2 93.2h0M33.9 3.8h0M50.6 15.5h0M39.6 65.5h0M64 88.1h0M39.4 96.4h0M22 43.4h0M25.7 41.4h0M5.3 63.5h0M24.6 89h0M81.2 104.9h0M50.2 29.5h0M12.7 96.9h0M24.8 15.6h0M7 81.2h0M36.3 30.4h0M56.1 61.9h0M8.6 45.7h0M17 33.5h0M39.1 13.3h0M27 48.8h0M20 56.2h0M53.9 84.6h0M19.2 77.3h0M34.9 75.1h0M69 43.8h0M65.8 5.9h0M1.9 20.6h0M100.2 3.2h0M28.7 83.2h0M55.8 98.4h0M32.1 12.3h0M30.8 78.7h0M36.4 62.7h0M9 89.7h0M46.3 18.1h0M11 71.7h0M85.5 88.7h0M32 96h0M70.5 2.4h0M89.4 2.6h0M48.7 66.9h0M1.1 79.7h0M52.4 72.8h0M106.6 78.2h0M23.9 28.7h0M42.7 5.2h0M17.6 25.5h0M53.5 22h0M99.5 108.2h0M30.2 90.8h0M42.6 61.2h0M100.6 54.1h0M55.5 52.7h0M102.1 61h0M13.7 13.1h0M16.7 49.3h0M16.4 91.2h0M69.4 107h0M41.2 26.7h0M55.5 1.1h0M63.7 45.2h0M45.9 25.7h0M8.1 59.3h0M49.2 57.8h0M107.7 22.4h0M5.2 86.1h0M11.2 56.4h0M15.7 85.9h0M28.9 68.2h0M11.8 42.5h0M56.4 71.1h0M59.6 27.2h0M100.1 80.9h0M105.9 66.3h0M54 80h0M53.1 42.5h0M67.9 94.5h0" stroke="#6545a8" stroke-width="4.2" stroke-linecap="round" fill="none" opacity=".6"/><path d="M27.6 63.4h0M106 71.6h0M53.1 34.2h0M15.9 108.2h0M34.9 21.1h0M64.7 99.9h0M9.3 18.3h0M54.2 17.5h0M30.2 27.1h0M46.6 92.8h0M44.2 32.3h0M33.2 84.6h0M92 79.6h0M98.9 86.6h0M38 41.9h0M43 80.2h0M75 101.5h0M104.9 2.5h0M73.4 95.3h0M100.1 99.8h0M45.7 44.8h0M49.2 83.3h0M47.3 9.8h0M15.2 8.1h0M17.2 1h0M59.2 37.2h0M12 105.8h0M8.6 66.3h0M99.6 46.6h0M20.2 93.2h0M33.9 3.8h0M50.6 15.5h0M39.6 65.5h0M64 88.1h0M39.4 96.4h0M22 43.4h0M25.7 41.4h0M5.3 63.5h0M24.6 89h0M81.2 104.9h0M50.2 29.5h0M12.7 96.9h0M24.8 15.6h0M7 81.2h0M36.3 30.4h0M56.1 61.9h0M8.6 45.7h0M17 33.5h0M39.1 13.3h0M27 48.8h0M20 56.2h0M53.9 84.6h0M19.2 77.3h0M34.9 75.1h0M69 43.8h0M65.8 5.9h0M1.9 20.6h0M100.2 3.2h0M28.7 83.2h0M55.8 98.4h0M32.1 12.3h0M30.8 78.7h0M36.4 62.7h0M9 89.7h0M46.3 18.1h0M11 71.7h0M85.5 88.7h0M32 96h0M70.5 2.4h0M89.4 2.6h0M48.7 66.9h0M1.1 79.7h0M52.4 72.8h0M106.6 78.2h0M23.9 28.7h0M42.7 5.2h0M17.6 25.5h0M53.5 22h0M99.5 108.2h0M30.2 90.8h0M42.6 61.2h0M100.6 54.1h0M55.5 52.7h0M102.1 61h0M13.7 13.1h0M16.7 49.3h0M16.4 91.2h0M69.4 107h0M41.2 26.7h0M55.5 1.1h0M63.7 45.2h0M45.9 25.7h0M8.1 59.3h0M49.2 57.8h0M107.7 22.4h0M5.2 86.1h0M11.2 56.4h0M15.7 85.9h0M28.9 68.2h0M11.8 42.5h0M56.4 71.1h0M59.6 27.2h0M100.1 80.9h0M105.9 66.3h0M54 80h0M53.1 42.5h0M67.9 94.5h0" stroke="#c3a6e4" stroke-width="2.2" stroke-linecap="round" fill="none"/><path d="M52.7 107.9h0M46.4 97.7h0M42.7 70.1h0M102.4 36.5h0M19.2 69h0M59.8 79.7h0M78.8 38h0M96.4 1.6h0M47.5 104.4h0M2.5 1.4h0M41.9 74.7h0M109 85h0M50.3 96.1h0M108.1 56.8h0M38.1 5.2h0M54.8 66.8h0M103.7 47.1h0M31.6 36h0M108.4 108.2h0M73.3 90.7h0M6.6 27.2h0M11.6 31.3h0M34.8 90.7h0M105.2 7.5h0M7.2 13.9h0M60.4 95.9h0M5.1 6.9h0M37.9 18.3h0M50 3.2h0M80.3 92.2h0M43 37.7h0M53.2 92.6h0M50.4 48.4h0M3.4 90.2h0M59.5 22.4h0M47.2 77.1h0M48.5 71.3h0M106 90.6h0M7.9 33.1h0M81.2 34.3h0M94.7 85.5h0M25.9 32.7h0M101.3 42.6h0M68.9 52.3h0M24.3 72.9h0M31.1 52.4h0M105.1 29.6h0M94.9 40.2h0M59.6 4.1h0M55.9 57.4h0M97.9 50.8h0M20.1 21.1h0M42.4 48.3h0M28.6 103.3h0M23.7 54.1h0M8 1.9h0M57.7 88.5h0M13.4 75.1h0M108 34.2h0M64.1 40.8h0M57.3 31.3h0M98.9 72.5h0M72.7 83.2h0M104.2 16.5h0M5.3 98.8h0M87.6 61.7h0M94.5 59.8h0" stroke="#6545a8" stroke-width="3" stroke-linecap="round" fill="none" opacity=".6"/></g>
<g transform="translate(1032 58.2)" clip-path="url(#c8)"><rect width="110" height="109.3" fill="#b998dc"/><rect width="110" height="109.3" filter="url(#he8)"/><ellipse cx="26" cy="22" rx="20" ry="7" fill="#e9b3dc" opacity="0.85" filter="url(#bl3)"/><ellipse cx="70" cy="74" rx="15" ry="21" fill="#f0bde0" opacity="0.95" filter="url(#bl3)"/><ellipse cx="50" cy="50" rx="12" ry="6" fill="#e6b6e0" opacity="0.7" filter="url(#bl3)"/><ellipse cx="84" cy="94" rx="10" ry="8" fill="#ecbade" opacity="0.8" filter="url(#bl3)"/><path d="M10 6Q24 22 40 36" stroke="#f4e8f7" stroke-width="2.2" stroke-linecap="round" fill="none" opacity="0.95"/><path d="M89.1 95.5h0M42.6 30.7h0M22.2 9.7h0M24.2 22.7h0M100.1 12h0M35.9 107.1h0M43.2 68.3h0M79.1 88.3h0M49.4 38.1h0M79.1 107.1h0M102.8 22.6h0M83 53.6h0M107.6 105.1h0M53.3 97.8h0M44.8 102.6h0M26.3 48.1h0M68.9 38.8h0M85.8 20.6h0M86.5 85.8h0M93 21.5h0M58.4 17.2h0M80.2 66.9h0M15.7 28.1h0M8.8 100.4h0M70.7 16.1h0M80.8 48.9h0M44.4 84.9h0M32.6 42.6h0M61.5 105.2h0M64 44.4h0M4.3 99.7h0M35.3 32.6h0M78.6 95.7h0M12.9 8.6h0M24.3 107.7h0M56.5 12h0M71.2 54.8h0M41.2 104.9h0M47.2 107.4h0M41.6 35.8h0M11.9 66h0M18.5 102.9h0M68.4 3.3h0M67.9 51.8h0M52.7 69.1h0M10.2 95h0M77.9 21.6h0M9.1 44.3h0M79.8 13h0M8.9 76.8h0M107.6 61.1h0M97.2 41.7h0M18.3 72.2h0M31 93.1h0M81.6 6.4h0M34.6 86h0M6.9 25h0M5 75.4h0M105.3 77.1h0M97.3 22.2h0M88.3 107.5h0M89.6 24.8h0M33.1 101.9h0M75.8 45h0M29.2 5.3h0M84.8 65.1h0M16.3 14.8h0M107.9 99.2h0M1.8 19.1h0M95.9 49.1h0M93.7 53.2h0M84.7 14.9h0M101.5 103.3h0M14.1 58.6h0M53.9 28.1h0M80.5 100.2h0M95.9 87.8h0M93.6 35.8h0M60 49.4h0M16.7 53.4h0M54.9 49h0M96.9 62.5h0M56.9 62.1h0M35.2 80.1h0M87.6 30.7h0M61.9 29.3h0M29 29.5h0M98.2 54.2h0M31.2 54.6h0M3.3 105.6h0M10.4 15.1h0M74.5 18.7h0M85.6 46.5h0M104.3 46.5h0M72 35.3h0M38.7 59.2h0M32.5 63.5h0M17.4 34.8h0M37.2 52.2h0M51.3 73.4h0M67.3 19.6h0M71.2 43.4h0M58.3 25h0M104.1 13.5h0M104.5 39.5h0M6.9 6.5h0M34.8 96.4h0M98.4 84h0M90.2 76.8h0M80.2 27.5h0M49.8 87.1h0M21.5 34.1h0M16.4 97.5h0M30.6 106.2h0M89.8 34.2h0M23.1 95.9h0M40.8 75.7h0M80.2 56.6h0M19.5 89.8h0M47.8 23.9h0M56 36.1h0M43.6 4.4h0M25.8 67.1h0M102.7 8.2h0M75.8 102.3h0M76.2 1.8h0M82 42.3h0M104.2 52.3h0M86 3.4h0M97.8 71.2h0M3.5 49.4h0M47.5 81.4h0M35.3 9h0M97.3 16.8h0M42.1 63.1h0M57.8 89.6h0M83.4 91.2h0M107.9 1.2h0M86.6 102.6h0M1.7 91.1h0M8.4 63.5h0M47.2 94.6h0M3.6 28.2h0" stroke="#6040a6" stroke-width="4.2" stroke-linecap="round" fill="none" opacity=".6"/><path d="M89.1 95.5h0M42.6 30.7h0M22.2 9.7h0M24.2 22.7h0M100.1 12h0M35.9 107.1h0M43.2 68.3h0M79.1 88.3h0M49.4 38.1h0M79.1 107.1h0M102.8 22.6h0M83 53.6h0M107.6 105.1h0M53.3 97.8h0M44.8 102.6h0M26.3 48.1h0M68.9 38.8h0M85.8 20.6h0M86.5 85.8h0M93 21.5h0M58.4 17.2h0M80.2 66.9h0M15.7 28.1h0M8.8 100.4h0M70.7 16.1h0M80.8 48.9h0M44.4 84.9h0M32.6 42.6h0M61.5 105.2h0M64 44.4h0M4.3 99.7h0M35.3 32.6h0M78.6 95.7h0M12.9 8.6h0M24.3 107.7h0M56.5 12h0M71.2 54.8h0M41.2 104.9h0M47.2 107.4h0M41.6 35.8h0M11.9 66h0M18.5 102.9h0M68.4 3.3h0M67.9 51.8h0M52.7 69.1h0M10.2 95h0M77.9 21.6h0M9.1 44.3h0M79.8 13h0M8.9 76.8h0M107.6 61.1h0M97.2 41.7h0M18.3 72.2h0M31 93.1h0M81.6 6.4h0M34.6 86h0M6.9 25h0M5 75.4h0M105.3 77.1h0M97.3 22.2h0M88.3 107.5h0M89.6 24.8h0M33.1 101.9h0M75.8 45h0M29.2 5.3h0M84.8 65.1h0M16.3 14.8h0M107.9 99.2h0M1.8 19.1h0M95.9 49.1h0M93.7 53.2h0M84.7 14.9h0M101.5 103.3h0M14.1 58.6h0M53.9 28.1h0M80.5 100.2h0M95.9 87.8h0M93.6 35.8h0M60 49.4h0M16.7 53.4h0M54.9 49h0M96.9 62.5h0M56.9 62.1h0M35.2 80.1h0M87.6 30.7h0M61.9 29.3h0M29 29.5h0M98.2 54.2h0M31.2 54.6h0M3.3 105.6h0M10.4 15.1h0M74.5 18.7h0M85.6 46.5h0M104.3 46.5h0M72 35.3h0M38.7 59.2h0M32.5 63.5h0M17.4 34.8h0M37.2 52.2h0M51.3 73.4h0M67.3 19.6h0M71.2 43.4h0M58.3 25h0M104.1 13.5h0M104.5 39.5h0M6.9 6.5h0M34.8 96.4h0M98.4 84h0M90.2 76.8h0M80.2 27.5h0M49.8 87.1h0M21.5 34.1h0M16.4 97.5h0M30.6 106.2h0M89.8 34.2h0M23.1 95.9h0M40.8 75.7h0M80.2 56.6h0M19.5 89.8h0M47.8 23.9h0M56 36.1h0M43.6 4.4h0M25.8 67.1h0M102.7 8.2h0M75.8 102.3h0M76.2 1.8h0M82 42.3h0M104.2 52.3h0M86 3.4h0M97.8 71.2h0M3.5 49.4h0M47.5 81.4h0M35.3 9h0M97.3 16.8h0M42.1 63.1h0M57.8 89.6h0M83.4 91.2h0M107.9 1.2h0M86.6 102.6h0M1.7 91.1h0M8.4 63.5h0M47.2 94.6h0M3.6 28.2h0" stroke="#c3a6e4" stroke-width="2.2" stroke-linecap="round" fill="none"/><path d="M40.2 8.1h0M60.3 40.2h0M36.6 18.9h0M69.8 105.8h0M103.2 87.7h0M89 70h0M93.2 31.4h0M98.5 7.1h0M42.3 93.5h0M50.7 18.3h0M107.2 84.9h0M41.8 99.8h0M63.5 52.8h0M52.7 64.9h0M2.6 78.9h0M46.7 15.4h0M64.3 93.4h0M22.6 62.3h0M7 56.3h0M87.6 53.3h0M62.5 98.9h0M100.8 49.7h0M25 41.5h0M106.3 68.5h0M2.5 37.8h0M41 17.6h0M28.1 99.4h0M108.6 45.8h0M41.7 53.4h0M35.1 48.6h0M87.8 59.1h0M53.8 92.3h0M11 1.2h0M56.4 78.3h0M18 83.1h0M12 104.8h0M102.5 64.8h0M75.8 37.9h0M53.3 1.2h0M24.4 56.9h0M57 101.3h0M15.4 44.1h0M25.8 36.9h0M70.5 100h0M97 96.5h0M85.6 26.1h0M23.2 70.8h0M36 91.6h0M47.4 54.9h0M29.1 14.9h0M92 58.2h0M53.1 7.9h0M58.9 7.8h0M3.4 87.2h0M54.4 23.2h0M11.5 40.3h0M40.5 42.7h0M84.6 74.8h0M73.9 108h0M28.9 84.6h0M64.7 6.6h0M73 49.7h0M31.4 38.5h0M96.3 66.7h0M16.7 22.4h0M60 1.7h0M64.1 11.9h0M47.3 30.6h0M75.5 14.5h0M12.5 70.5h0M92.2 105.8h0M64.4 32.9h0M16.4 107.3h0M94.2 4.7h0M90.5 39.5h0M4.7 83.2h0M5.8 92.7h0M92.4 46.6h0M24.7 27.4h0M107 26.4h0M102 35.3h0M14.4 90.3h0M95.4 77.2h0M20.1 44.9h0M83 34.8h0M47.1 43.5h0M82.1 84.3h0M56 107.7h0M94.4 25.7h0" stroke="#6040a6" stroke-width="3" stroke-linecap="round" fill="none" opacity=".6"/></g>
<g transform="translate(1146.5 58.2)" clip-path="url(#c9)"><rect width="110" height="109.3" fill="#c5a6df"/><rect width="110" height="109.3" filter="url(#he9)"/><ellipse cx="45" cy="38" rx="34" ry="6" fill="#e6cdee" opacity="0.8" filter="url(#bl3)"/><ellipse cx="85" cy="62" rx="26" ry="6" fill="#e6cdee" opacity="0.8" filter="url(#bl3)"/><ellipse cx="20" cy="82" rx="22" ry="6" fill="#e6cdee" opacity="0.7" filter="url(#bl3)"/><ellipse cx="60" cy="20" rx="30" ry="6" fill="#e2c6ea" opacity="0.6" filter="url(#bl3)"/><ellipse cx="70" cy="96" rx="30" ry="6" fill="#e4c9ec" opacity="0.7" filter="url(#bl3)"/><ellipse cx="100" cy="105" rx="10" ry="5" fill="#ee6fa6" opacity="0.9" filter="url(#bl3)"/><path d="M10 40Q40 34 70 40" stroke="#f4e8f7" stroke-width="3.6" stroke-linecap="round" fill="none" opacity="0.5"/><path d="M60 66Q90 60 110 64" stroke="#f4e8f7" stroke-width="3.9" stroke-linecap="round" fill="none" opacity="0.5"/><path d="M0 78L30 84" stroke="#f4e8f7" stroke-width="4.1" stroke-linecap="round" fill="none" opacity="0.5"/><path d="M12 54.9h0M104.3 61.4h0M57 85.8h0M49.7 30.5h0M91.6 18.9h0M97 95.8h0M60.2 56.4h0M8.1 19.6h0M84.4 79.2h0M68.2 15.7h0M79.2 107.1h0M95.2 72.4h0M49.1 46.5h0M17.6 5.4h0M105.5 43.6h0M43 52.9h0M107.2 99.1h0M75.5 85.1h0M57.8 70.6h0M87 72.3h0M6.3 50.9h0M64.3 73.1h0M101.6 85h0M40 43.6h0M67.1 54.1h0M73.2 92.7h0M46.1 63.1h0M22.6 88.3h0M76.4 65.9h0M37.5 10.6h0M28 29.2h0M84 62.8h0M93.2 100.8h0M30 17.5h0M79.3 46.9h0M90.8 48.9h0M25.7 102.3h0M81.4 86.6h0M77.2 103h0M95.7 8.3h0M9.4 5.4h0M81.3 54.5h0M77.7 11.4h0M20 95.5h0M13.9 86.9h0M91.7 13.2h0M106.8 14h0M43.2 67.9h0M88.7 95.1h0M3.2 28.1h0M15.9 9.3h0M73.4 16.3h0M46.3 74h0M85 58.8h0M75.6 70.9h0M25.8 25.1h0M104.7 28.5h0M34.8 73.3h0M25.8 108h0M68.7 95.3h0M15.4 39.9h0M27.4 41.9h0M14 15.7h0M56 102.9h0M70.4 70.3h0M99.3 63.2h0M62.6 65.3h0M57.9 18.4h0M11.3 92.4h0M51.7 86.6h0M100 2.4h0M105.7 38.6h0M64.8 35.3h0M102.2 32.9h0M1.4 2.8h0M38 64.1h0M56.7 38.2h0M12.6 76.5h0M76.6 80.8h0M77.1 3.5h0M7.4 95.4h0M109 93.2h0M92.3 43.6h0M7.3 42.1h0M103.5 74.5h0M62.9 82.9h0M61.8 3.7h0M31.9 65.8h0M57.1 46h0M99 92.1h0M80.3 75.4h0M64.5 77.9h0M47.8 105h0M8.4 63.7h0M43.6 9.9h0M69.6 58.3h0M72.3 21.6h0M66.4 68.7h0M2.3 10.6h0M104.5 24.1h0M22.6 41.6h0M86.2 10.4h0M99.2 48.5h0M91.1 4.2h0M27.9 70.6h0M19.8 17.5h0M85.2 43.3h0M41.8 60.9h0M108 70.6h0M44.9 47.9h0M99.3 75.3h0M63.4 28.3h0M46.2 21.6h0M24 15.6h0M37.8 37.2h0M97.5 41.7h0M51.6 93.6h0M37.7 100.2h0M8.3 32.2h0M19.4 32.7h0M38.2 27h0M49.8 6.2h0M48 95.9h0M100.3 37.8h0M45.4 30.4h0" stroke="#7554b2" stroke-width="4.2" stroke-linecap="round" fill="none" opacity=".6"/><path d="M12 54.9h0M104.3 61.4h0M57 85.8h0M49.7 30.5h0M91.6 18.9h0M97 95.8h0M60.2 56.4h0M8.1 19.6h0M84.4 79.2h0M68.2 15.7h0M79.2 107.1h0M95.2 72.4h0M49.1 46.5h0M17.6 5.4h0M105.5 43.6h0M43 52.9h0M107.2 99.1h0M75.5 85.1h0M57.8 70.6h0M87 72.3h0M6.3 50.9h0M64.3 73.1h0M101.6 85h0M40 43.6h0M67.1 54.1h0M73.2 92.7h0M46.1 63.1h0M22.6 88.3h0M76.4 65.9h0M37.5 10.6h0M28 29.2h0M84 62.8h0M93.2 100.8h0M30 17.5h0M79.3 46.9h0M90.8 48.9h0M25.7 102.3h0M81.4 86.6h0M77.2 103h0M95.7 8.3h0M9.4 5.4h0M81.3 54.5h0M77.7 11.4h0M20 95.5h0M13.9 86.9h0M91.7 13.2h0M106.8 14h0M43.2 67.9h0M88.7 95.1h0M3.2 28.1h0M15.9 9.3h0M73.4 16.3h0M46.3 74h0M85 58.8h0M75.6 70.9h0M25.8 25.1h0M104.7 28.5h0M34.8 73.3h0M25.8 108h0M68.7 95.3h0M15.4 39.9h0M27.4 41.9h0M14 15.7h0M56 102.9h0M70.4 70.3h0M99.3 63.2h0M62.6 65.3h0M57.9 18.4h0M11.3 92.4h0M51.7 86.6h0M100 2.4h0M105.7 38.6h0M64.8 35.3h0M102.2 32.9h0M1.4 2.8h0M38 64.1h0M56.7 38.2h0M12.6 76.5h0M76.6 80.8h0M77.1 3.5h0M7.4 95.4h0M109 93.2h0M92.3 43.6h0M7.3 42.1h0M103.5 74.5h0M62.9 82.9h0M61.8 3.7h0M31.9 65.8h0M57.1 46h0M99 92.1h0M80.3 75.4h0M64.5 77.9h0M47.8 105h0M8.4 63.7h0M43.6 9.9h0M69.6 58.3h0M72.3 21.6h0M66.4 68.7h0M2.3 10.6h0M104.5 24.1h0M22.6 41.6h0M86.2 10.4h0M99.2 48.5h0M91.1 4.2h0M27.9 70.6h0M19.8 17.5h0M85.2 43.3h0M41.8 60.9h0M108 70.6h0M44.9 47.9h0M99.3 75.3h0M63.4 28.3h0M46.2 21.6h0M24 15.6h0M37.8 37.2h0M97.5 41.7h0M51.6 93.6h0M37.7 100.2h0M8.3 32.2h0M19.4 32.7h0M38.2 27h0M49.8 6.2h0M48 95.9h0M100.3 37.8h0M45.4 30.4h0" stroke="#c3a6e4" stroke-width="2.2" stroke-linecap="round" fill="none"/><path d="M82.7 25.8h0M47 38h0M60.9 107.1h0M36.5 80.2h0M64.1 98.1h0M64.9 91.2h0M100 20.1h0M77.8 97.7h0M27.3 78.6h0M2.4 70h0M60.1 90.4h0M25 60.6h0M43.5 103.2h0M49.1 16.3h0M16.5 77.8h0M35.1 15.4h0M47.8 80.1h0M10.1 107.8h0M54 5.6h0M74.7 50.3h0M30.9 103.4h0M93 37.6h0M54.5 12.9h0M27.1 86h0M11.2 10.4h0M83.5 17.5h0M16 56.2h0M45.9 85.1h0M92.9 77.1h0M104.2 5.8h0M68.6 46.9h0M17 22.8h0M70.9 85.7h0M82.7 32.7h0M37.3 20.9h0M79.4 15.2h0M31 55h0M38.3 56.9h0M70.7 29.9h0M10 27.4h0M68.2 81.5h0M56.2 94.9h0M77.2 24.7h0M33.4 6.9h0M17.4 66.4h0M107.1 85.3h0M88.3 30.9h0M34.3 34h0M76.2 39.2h0M70.7 3.1h0M98 16.2h0M82.6 6.2h0M68.4 9.4h0M33.2 38.6h0M22.1 81.9h0M67.3 103.8h0M53.7 64.4h0M2.9 15.9h0M94.5 22.1h0M2.1 48.5h0M32.3 97.1h0M102.5 14.1h0M1.9 80.6h0M21.7 3h0M91.9 67.2h0M20.3 59.8h0M32.6 87.4h0M4.2 63.3h0M29 46.9h0M71.8 34.2h0M104.1 54.1h0M27.2 10h0M5.8 91.3h0M1.4 33.7h0M103.7 66h0M46.8 43h0M94.1 27.6h0M53.9 23.6h0" stroke="#7554b2" stroke-width="3" stroke-linecap="round" fill="none" opacity=".6"/></g>
<g transform="translate(101 171)" clip-path="url(#c0)"><rect width="110" height="109.3" fill="#010104"/><g filter="url(#bl)" fill="none" stroke-linecap="round"><path d="M5 22.2l0.3 0.7M78 15.6l-0.6 0.4M94.6 29.2l0.2 0.5M1.3 48.1l0.5 0M18.4 1.8l0.4 0.6M30.6 50.3l0.4 0M21.2 93.2l0.3 0.1M33 76.6l-0.8 0.1M38.6 11l-0.2 0.3M47.8 74.9l0 0M53.6 70.2l-0.1 1M13.4 15.3l-0.1 0.2M14.3 53.7l-0.2 0M94.7 41.9l0.5 0.1M90.2 12.2l0 0.1M24.8 73.6l-0.3 0.1M86.4 86.7l0 0M16 59.2l0.9 0M26.1 81.9l-0.6 0.1M63.8 75.3l0.1 0M86.2 107.8l0 0M51.3 108.7l-0.4 0.3M31.9 96.3l0.3 0M11.6 78.3l0.1 0.5M98.6 60.7l-0 0.1" stroke="#0f0f8c" stroke-width="3"/><path d="M88 10.7l-0.7 0.8M48.6 79.7l-1 0.3M11.8 2.3l0 0M108.7 75.7l-0.4 0.6M21.1 72.1l-0.2 0M11.2 90.3l0.6 0.8M4.3 12l0.2 0.5M24.5 68.4l0.1 0.5M95.7 26.6l-1.3 0.6M85.2 45.1l0.3 0.3M50.4 74l0.7 0.1M26.3 77.4l-0.6 0M37.9 17.3l0.2 0.1M70.6 56l0.6 1.1M4.4 103.3l-0.7 1M84.5 48.8l-0.4 0.2M87.3 83.7l-0.8 1.1M3.5 6.5l-1 0.6M53.9 46.2l0.4 0.3M74.4 17.7l-0 0.2M15.3 41.5l-0.7 1M108.6 2.1l0 0M104.9 64.8l-0 1.3M39 10.6l1 0.3M48.5 47.5l0.1 0.2M6.1 43.9l-0.7 0.2M101.7 104.4l-0.1 0.1M77.5 42.6l0.4 0.3M95 4.5l-0 0M78.9 77.1l-0.1 0.1M45.7 86.6l0.1 0M65 26.3l-0.2 1.3M90.1 53.1l-0.2 0M86 39l0.3 0.8M37.2 36.6l-0.3 0.6M17.9 83.8l0.1 0.1M72.2 42.9l1.2 0.8M66.4 75.2l-1 0.7M105.7 14.8l0.6 0.1M10.6 96.8l-0.7 1.1M103.8 79.1l0.2 0.9M59.3 104.7l-0.3 1M97.4 10.1l-1 0M76.3 88.2l-0.7 0.3M30.3 88.5l-0.5 1M100.3 54.2l0.2 0.1M46.2 63.8l-0.3 0.5M88.9 71l0.5 0.1M108.8 53.5l0.1 0.5M78.9 60.6l0.4 0.5M66.6 108.7l0.1 0.3M94.3 82.2l0.2 0.7M68.7 29.3l-0.6 0.4M56 35.3l0.2 0.7M52.6 108l0.4 0.5M62.1 88.3l0.5 0.6M66.5 47.7l0.2 1.3M96.2 70.4l1.4 0.4M38.8 46.8l-1.1 0.3M73.8 96.6l1.1 0.1M7.7 9l0.7 0.9M16.8 97.2l0.5 0.6M66.1 18.1l-0.5 0.4M102 48l0.1 0.1M72.3 82.7l-0.1 0.4M35.9 44.3l0.6 0.8M40 81.7l-0.4 0.2M24.6 50.2l0 0.7M59.4 9.7l-0 0M10.1 69.7l0.2 0.7M18.5 50l0.9 0.7M99.5 68l-0.6 0.5M72.1 66.5l0.2 0.5M28.7 18.9l1 0.6M21.3 55.9l1 1M61.6 80.3l0.9 0.5M43.7 39.8l0.6 0.5M16.2 105.3l-1 1.1M23.1 78.7l0.4 0.1M23.6 100.8l0.5 0.2M109.6 33.3l-0.3 1.1M47.8 58.6l-1.2 0.5M78.4 94.6l0.2 1.2M58.5 44l-1.4 0.1M56.9 15.5l0 0.2M2.8 84.5l-0.2 0.2M104.7 51.6l0.3 0.1M36.7 69.6l0.1 1.2M4.5 65.3l0.7 0.2M88.3 31.8l-0.8 0.8M41.7 104.7l0.2 0.5M8.9 54.8l0.2 0.1M2.1 41.7l0 0.6M65.1 66l-1.1 0.3M90.9 87.5l0.2 0.5" stroke="#1d1df0" stroke-width="4.3"/></g></g>
<g transform="translate(216 171)" clip-path="url(#c1)"><rect width="110" height="109.3" fill="#010104"/><ellipse cx="45" cy="55" rx="60" ry="70" fill="#07074a" opacity="0.8" filter="url(#bl2)"/><g filter="url(#bl)" fill="none" stroke-linecap="round"><path d="M7.4 35.6l-0.2 3.2M0.4 30.9l-0.1 1M82.8 75.8l0.2 0.4M51.7 82.4l0 1.8M49.6 94.5l-1.2 3.4M67.1 15.3l0 0M62.3 52.1l0.4 1.2M58.9 23.5l0.4 0.8M76.5 20.6l0.8 3.6M32.9 26.2l0.4 1.2M29.4 19.8l-0.2 1.5M3.3 62.9l1.1 2.6M8.6 70.3l-0.2 1.1M44.8 58.9l0.2 0.4M83.8 85.1l1.1 2.2M75.1 32.1l0.3 0.9M10.4 63.8l0.5 1.5M58.8 97.6l1.2 2.5M97 20.5l0 0.1M45.2 77.7l2.4 3M46.1 105.6l0.1 0.7M1.5 45.2l0.4 1.4M92.7 103.7l0.6 1.6M55.6 27.5l1.1 3.2M65.1 34.8l1.2 2.5M76.6 37.4l0.6 3.3M21.1 64.2l0.1 1.9M84.8 53.6l0.1 3.3M65.2 62.4l-0.1 0.6M57.7 0.7l0.8 2.4M41 95.5l-0.1 0.7M56.3 85.6l0.1 0.2M105 4.1l0.4 1.2M80.1 53.5l0.2 3M0.3 23.9l0.3 3.7M54.3 50.4l1.2 2.6M95.8 38.8l-0 1.2M86.6 44.9l-0.4 3.9M103.7 106.8l1 3.3M17.8 89.4l0.1 3.8M12.4 36.7l0.3 1.2M97.4 47.4l-0 0.2M2.2 0.5l0.6 3.9M108.6 93.9l0.5 3.2M106 37.2l1.2 3.1M33.6 74.9l-0 0.5M16.9 20.4l0.7 1.9M83.2 26l1.9 3M108.8 73.1l0.1 0.9M66 70.3l0.4 4M26.3 104.7l0.1 0.3M4.4 99.2l-0.1 1.6M58.6 65.8l0 0.1M59.8 42.4l-0.1 0.4M18.3 38.5l-1.4 2.8M70.4 34l0 0.9M87.5 75.8l0.3 2M3.3 10.2l-0.1 2M93.2 58.4l0 0.2M14.7 57.8l1.1 2.1M60.4 77.4l-0 0.2M52.5 101.7l0.1 1.4M11.2 15.8l-0.2 1.6M77.4 72.8l-0.6 3M58.3 9.1l-0.1 2M11.1 53.2l0.1 1.9M11.9 32.2l-0.3 2.2M60.7 87.9l-0.3 3.4M36.5 24l-0.3 1M44.9 0.1l0.5 2.5M20.8 28.9l0.4 2.4M94.2 32.6l0.1 1.1M75.9 83.5l0.1 0.9M76.3 47.4l-0.8 3.6M34.6 57.4l-0 3.9M39.6 33.5l0.2 0.7M41 6.3l0.6 1.2M66.5 43.6l1.5 2.7M7.1 54.7l0.9 3.1M60.5 106.2l0.2 2" stroke="#0c0c78" stroke-width="5"/><path d="M22.4 82.3l0 0M62.8 70.1l-0.9 1.6M88.4 17.8l-0.2 0.8M60.9 79.6l-0 0.2M78.3 10.4l-0 0M100.4 76.4l-0.9 2.4M40.7 56.6l1 3.5M58.3 36.7l0.6 2.3M105.9 52.6l0.4 2M68.2 41.7l0.1 0.8M37.3 53.4l0.8 3.8M9 56l0.3 3.2M12.1 82.2l0.2 0.8M87.9 1.3l-0.1 0.5M37.2 59.2l0.3 0.9M13.6 90.2l0 3.1M51.4 2.9l0.4 2.8M31.2 78.9l1.7 1.8M106.5 75.1l0.4 2.1M52.8 46l-0.8 2.5M10.2 63.9l-0.2 2.3M46.6 54.9l0.3 1.2M43.6 59.4l0.4 1M84.7 82.2l-0.5 2.5M84.2 68.6l-0 3.3M105.1 81l0.7 2.7M25.4 22.5l-0.5 3.9M52.7 36.9l1 2.8M19.4 58.9l-0.1 0.3M18.6 104.5l0.3 0.7M61.6 35.2l-0.9 3.5M56.8 57.7l0.2 0.8M33.2 56.9l0.3 3.6M91.1 81.1l0.1 0.2M40.8 25.3l0.5 3.1M78.8 59.4l0.5 2.6M101.2 19.8l0.1 1.8M7.6 35.7l0.2 2.6M71.2 26.8l1.7 2.6M66 25.6l-0.3 1.5M54.3 69.9l0.3 1.2M95.2 83l1.8 3.6M32.2 48.4l0.4 3.4M75.6 53.5l0.2 1M14.3 41.8l0.1 1.8M43.8 82.2l0.1 0.4M80 105.5l-0.1 2.1M24.5 18.9l0 1.3M34.9 84.9l-0.1 1.7M40 49.4l0.1 0.3M30.9 66.5l-0.2 1.7M67.4 58.6l-0 0.2M54.5 78.5l-0.1 0.4M66.7 5l1 2.9M71.3 95l0.6 1.2" stroke="#1616c8" stroke-width="4.6"/><path d="M10 33h0M62 30h0M37 53h0M57 50h0M85 70h0M82 73h0M69 75h0M85 64h0" stroke="#38dc38" stroke-width="3.2"/></g></g>
<g transform="translate(330.5 171)" clip-path="url(#c2)"><rect width="110" height="109.3" fill="#010104"/><ellipse cx="30" cy="40" rx="40" ry="45" fill="#0b0b80" opacity="0.7" filter="url(#bl2)"/><g filter="url(#bl)" fill="none" stroke-linecap="round"><path d="M84 70.5l-0 0M45 21.7l1.1 0.4M74.4 105.9l0 0M47.1 93l1.3 0.3M4 57.7l-1 0.1M22.2 54l0.4 0M67.2 93.6l-0.9 1.3M57.5 95l0.7 0.6M35.9 14l1.1 0.1M51.1 78.2l-0.7 0.7M77.9 4l-0.4 0.3M27.3 27.8l-0.5 0.8M51.9 94.2l-0 0.1M29.8 5l0.2 1.2M98.8 95l0.8 0.7M84.8 4.2l0.8 0.1M28.7 19.3l-1.3 0.2M100.6 13.6l-0 1.7M14 24.1l-0.6 0.8M87 21.6l0.7 1.6M108.2 33.7l-0.2 1M71.5 21l0.1 0.3M32.1 94.6l1 0.7M109.7 26.5l-0.2 1.5M38.4 6.3l0.1 0.8M21.4 42l-0.1 0.5M57.3 62.6l-1.3 0.2M38.4 17.3l0.6 0.8M61.1 38.1l-1.7 0.9M38 106.4l-1 1.4M64.6 1.7l-0.6 0.4M105.3 106l0.2 0.9M42.9 107.1l1.2 0.2M11.6 100.4l-0.3 1.6M18.6 94.4l0.9 1.7M33.3 71.5l-0.8 0.8M20.4 60.9l1.4 1.2M14.7 6l-0.7 1.1M1.7 37.9l0.3 0.2M71.5 50.9l1.5 1.1" stroke="#1515b0" stroke-width="4.5"/><path d="M66.6 15.3l0.6 0M88.8 28.2l3 0.1M47.8 106.5l1 3.5M47.6 22.9l3.4 1.8M87.3 17.6l-0.2 1.7M109.9 32.2l3.9 0.4M83.9 68.1l3.6 0.9M20.9 76.2l-1.7 0.1M4.5 94.9l-1.3 3.7M68.7 54.3l2.5 2.3M18.3 108l0.4 0M97.1 93.5l-2.4 0.9M11.4 82l0.4 2M41.8 78.4l-0.4 3.5M81.3 104.7l-3.2 1.5M79.8 35.7l1 0.8M28.2 8.7l-1.7 1.6M56.3 68.4l3.8 0.7M29.9 14.2l-0.9 3.1M54.1 80.4l3.8 0.5M17.5 65.9l-1.4 0.2M38.1 11.2l-0 0M73.2 12.3l-0.6 1.3M74.5 63.5l2.9 1.1M46.6 72l0.4 0.3M100.1 23.6l1.6 0M38 89.2l-3 1.8M67.5 73.9l3.5 0.9M70 97.4l3.6 0.9M61.8 90.6l3.6 0.8M15.6 91.3l0.2 3M87.3 39.9l-2 2.5M25.5 54l-3 0.7M88.9 59.3l-1.6 0.7M64.3 43.4l1.3 2.8M86.6 100.3l-0.3 0.7M96.3 28.3l0.1 2M100.5 46.1l-2.8 1.3M61 19.8l-0.8 3M91.9 105.2l3.7 0.4M61.6 12.9l0.9 0M69.3 6.1l0.6 0.5M95.7 74.7l-0.1 0M5.3 76.5l-1.2 1.5M29.1 38.8l-2.9 1.2M9 37.1l0.8 1.3M83.5 7.1l-1.3 0.7M27.7 32.7l-1.7 3.1M16.4 19.7l1 0.4M20.3 94.5l0.5 2.2M57.5 101.3l-0.5 2.1M65.2 9.4l-1.6 0.7M90.6 64.1l2.4 0.2M37.9 29.5l1.6 1.3M26.6 65.5l-3.3 1.9M83.1 95.5l-0.7 0.6M88.5 94.2l0.3 2.8M44.6 15.4l-0.3 0.3M29 48.7l0 0M101.8 65l1.2 0.6M18.4 10.5l0 0M76.7 99.5l0.1 3.5M106.5 25.3l2.4 0.5M75.9 16.3l0.4 0.5M82.7 28.2l-0.3 0.2M102.5 13.2l0.5 0.3M82.5 15.7l-0.7 0.5M46.3 34.8l1.5 0M76.1 107.2l-1.3 0M65.5 101.4l0.9 0.5M12.1 15.7l-0.3 0.7M90.5 11.4l-1.1 1.7M34.2 56.2l0.3 1.2M108.9 96.9l-0.1 2.7M35.6 106.9l-0.8 2.3M87.8 49.6l0.6 0.7M105 3.6l0.6 1.6M69.9 19l-0.6 3.6M56.5 17.1l0.1 2.8M108.7 102.8l1.2 0.6M98.3 19.1l-0.3 1M10.1 61.7l1.1 0.8M17.1 35.9l-0.2 1.1M71.6 58.3l0.9 0.6M15.3 6.3l-1.6 0.1M14.7 97.7l-0.7 0.5M65.8 2.2l0.7 0.7M26.6 22.7l0.8 1.5M38.8 73.6l0.8 1.2M30.2 75.9l-0.4 0.9M1.8 20.2l0.5 3.2M6.3 58.6l3.5 0.1M81.5 72.8l-1.7 2.7M0 79.2l0.1 2.6M49.6 13.7l-2 1.5M37.7 24.6l-2.3 1M44.7 95.6l1.1 0.7M71 104.9l-3.7 1.2M27.4 96.2l-0.3 0.8M28 2.9l-0 0M18.9 40.5l-1.3 1M77.8 1.2l-0.9 0.2M75.6 27.9l-1.4 0.8M86.7 44.7l-1.3 1.6M37.7 81.3l1.2 0.4M80.6 42.1l2.8 1.4M32.8 68.3l3 0.3M40.9 64.8l-1.2 0.3M103.3 38l0.4 0.6M20.1 89.2l-1.1 0.2M32.4 81.4l0.9 2.2M66.2 94l0.2 0.4M11.2 27.2l-3 1.6M93.1 79.5l-2.5 2.4M11.8 43.7l0.8 0.7M100.7 102.4l-1.3 0.4M37.3 43.9l2.1 1.4M72.6 89.6l-0.3 0.6M74.5 38.6l-1.2 0.5M98.4 70.7l0.7 1.7" stroke="#2020f2" stroke-width="6"/><path d="M85 92h0M88 95h0M80 93h0M92 96h0M83 89h0M42 25h0M96 98h0" stroke="#38dc38" stroke-width="3.2"/></g></g>
<g transform="translate(445 171)" clip-path="url(#c3)"><rect width="110" height="109.3" fill="#010104"/><ellipse cx="45" cy="55" rx="50" ry="55" fill="#050540" opacity="0.7" filter="url(#bl2)"/><g filter="url(#bl)" fill="none" stroke-linecap="round"><path d="M68.5 62.6l0.1 0.3M109.6 69l1.6 0.1M19.4 29.4l-0.1 0.1M39.8 64.2l-0 0.1M64.7 76.2l0.2 1.7M20 40.6l-1.2 0.1M55.3 94.4l-0.9 0.4M66.5 45.2l-0.5 0.1M44.2 70.5l1 0.1M89.7 22.1l-1.3 0M3.1 61l-0.8 1.3M2 3.1l-0.9 1.2M40.5 80.9l0.3 0.6M40.4 49l-0.5 0.2M64.4 99.6l-0 0.5M77.3 76.1l-0.4 0.8M31.6 65.8l-0.6 0.2M10.9 57.7l0 0M57.7 59.5l0.5 0M24.1 18.5l-1.7 1M7.4 60.6l1.7 0.7M106.3 31.1l1.5 0.4M78.1 51.6l0.1 0.2M27 42.7l1 1.5M85.2 61.7l-0.8 0.9M43.2 19.6l-1.2 1.3M61.6 35.6l0.1 1.7M32.4 27.2l-1.1 0.7M60.4 70.7l-0.1 1.7M94.6 54.2l0.5 0.1M58 63.2l-0.8 0.9M67.2 27.3l0.1 0.2M91.3 30.7l-0.1 0.2M12.6 73.1l-1 0.8M40.7 15.3l0.6 0.1M57.7 43.5l-0.8 0.4M52.8 73.9l-0.7 1M74.8 55.1l0.7 1M27.7 33.5l-0.2 1.6M27.1 74.7l-0.6 0.3M77.3 48.1l1 0.6M27 78.5l1.5 0.6M59.6 84l-0 0.3M38.5 52.9l-0.1 0.2M43.3 77.2l0 0.5M28.3 49.3l-0.3 1.6M18.3 94.6l-0.9 0.1M55.6 47.2l0.7 0.7M52.4 32.5l-1.3 1.3M24.8 65.1l-0.9 1.4M34 81.9l0 0.1M69.8 55.4l-0.3 0.7M43.3 35.6l0.5 0.2M17.7 59.6l0.1 0.3M34.1 74.8l0.4 1.1M85 76.8l0.3 0.6M54.7 67.4l-0 0.8M59.7 53.7l1.1 0.3M32 50.8l1.8 0.2M74.6 93.4l-0.1 0.1M40.5 44.2l-0.3 0.8M94.1 59.4l-0.2 0.9M46 61.5l-0.6 0.6M48.7 72.3l-1.4 1.1M47.5 49.8l0.1 0M48.6 94.8l0.3 0.1M54.2 80.4l-0.8 0.8M1.7 11.8l0.9 0.4M23.8 69.2l-0.1 1.6M32.4 15.2l-0.4 0.3" stroke="#0b0b66" stroke-width="4.4"/><path d="M64.5 49.9l-0.3 1.4M25.2 75.3l0.1 1.2M44.5 41.8l0.2 0.2M12.5 33.3l0.2 0.2M51 83l-1.4 0.1M89.5 33.7l-0 0M9.6 35.3l-1.3 0M46.3 49.4l-0.6 0.4M21.4 70.2l-0 0M85.4 103.5l0 0.4M33.6 77.8l0 0.2M40 38.5l-1.2 0.1M34.9 89.7l-1.1 0.6M44.4 35.6l0.3 0M56.1 49.2l-0.9 0.3M31.6 101.4l-0.1 0M40.7 14.5l0.9 0M71.5 54.7l1.2 0.7M66.9 38.2l-0.5 0.2M5.4 39.3l-0.4 0.1M63.4 92.6l-0.2 0.2M86.4 56.2l0.3 1.1M58.8 20.3l-0.2 0M66.7 23l0 0M43.4 51.2l0 0.3M75.5 71.5l0.4 1.2M34.8 106.6l-0 1.5M65.5 70l-0.4 0.2" stroke="#1515aa" stroke-width="3.6"/><path d="M38 5h0M27 17h0M39 19h0M20 22h0M4 35h0M80 28h0M50 50h0M55 62h0M12 90h0M16 93h0M8 97h0M5 100h0M20 87h0M60 108h0M10 94h0M14 86h0" stroke="#35d835" stroke-width="3"/></g></g>
<g transform="translate(560 171)" clip-path="url(#c4)"><rect width="110" height="109.3" fill="#010104"/><g filter="url(#bl)" fill="none" stroke-linecap="round"><path d="M43.7 9.3l-0.1 0.1M64.2 14.5l-0 0.7M53 36.3l0.9 0.1M76.6 17.3l-0.1 0.4M106.4 7.9l0.3 0.9M7.5 73.7l-0 0.4M108.2 94.2l-0.2 0M90.7 16.5l0.1 0.9M21.8 32.1l-0.7 0.4M26.1 18.6l-0.1 0.1M33.5 41.2l-0.3 0.4M35.6 88.3l-1 0" stroke="#1212a0" stroke-width="3.4"/><path d="M43.5 88.3l-0.5 0.2M39.9 44.5l0.4 0.3M79.1 96.5l0.5 0.5M86.1 21.1l-0.9 1.2M7.2 103.1l0.2 0.6M59.1 63.2l-0.4 0.3M77.3 103.1l0.6 0.9M80 67.4l1.3 0.4M50.1 75.3l0.4 0.2M80.7 61.8l-0 0.3M106.3 40.2l1.3 0.5M98.6 109l0 0.9M81.2 44.1l-1.1 0.1M58.3 40.7l-0.7 0.9M88.2 83.9l-1.3 0.1M19.7 41.1l0.7 0.8M98.8 12.1l0 0M52.4 107.9l0.6 1.2M31.9 86.2l1 1M44.8 101.8l-1.2 0.4M103.1 81.6l-0 0.3M22.5 101.9l-0 0M37.9 87.8l-1 0.8M73.2 67.2l-0.1 1.2M43.2 83.5l-0.3 0.6M107.8 95l-0.7 0.6M91.3 28.2l-0.8 0.2M27.1 81.4l0.2 1.3M50.5 97.7l-0.2 0.2M1.6 101.6l-0.1 0.9M32.1 81.4l0.1 0.6M64.9 69.4l-0.6 0.6M48.8 83.8l1.1 0.5M94.7 39.2l-0.1 0.2M73.6 56.3l-0.9 0.7M74.9 18.4l0.8 0.5M44.7 93.2l1.1 0.1M19.4 78.4l0.1 0.8M50.2 52.6l-0.9 1M10.3 49.6l0.2 0.2M7.2 57.8l-1.1 0.8M55.6 13l0.3 0.7M10.8 42.1l0.2 0.3M101.5 55.9l-0.1 0.1M67.2 21.6l0.5 0.3M84.3 8.6l-0.9 0.6M107.1 66.5l0 0.1M88.1 94.9l-0.4 0.3M32.7 20.1l-0 0M76.8 50.5l-0.6 0.9M109.6 71.6l0.3 0.5M107.7 80.3l1.1 0.4M26.2 104.5l-0.5 1.2M26.3 72.9l-0.1 0.3M89 42.2l-1.2 0.1M41.2 20.8l-0.8 0.2M55.4 49.6l0 0.4M100.4 68.1l0.8 0.9M91.4 11.5l-0 0M65.3 14.3l0.2 1.1M21.6 73.2l-0.8 0.1M7.9 4.4l-0.3 0.3M34.8 26.6l-0.1 0.3M76.6 72.6l-0.4 0.1M107.2 53l-0.2 0.3M46.4 62.1l-0.7 0.6M8.2 28.9l-0.1 0.4M84.4 26.3l-0.4 0.6" stroke="#2222f4" stroke-width="5.6"/></g></g>
<g transform="translate(687 171)" clip-path="url(#c5)"><rect width="110" height="109.3" fill="#010104"/><ellipse cx="60" cy="55" rx="60" ry="60" fill="#04042e" opacity="0.7" filter="url(#bl2)"/><g filter="url(#bl)" fill="none" stroke-linecap="round"><path d="M65 45.6l0.6 0.8M53.2 48.4l-0.1 1M84.6 55.5l-0.8 0M80.8 56l0.3 0.7M54.6 36.1l-0.9 1.2M60.3 44.4l-0.5 0M72.9 41.3l1.4 0.4M53.2 31.9l0.8 0.6" stroke="#1313a0" stroke-width="4.5"/><path d="M16.1 54.8l0.3 0.4M79.6 104.1l0.1 0.7M39.5 46.4l-1 0.4M88.7 56.6l-1.1 0.5M11.9 37.1l-0.3 1.9M26.3 82.8l1.9 0.4M71.2 9.4l-0.1 0M55 84.5l0.7 0.1M92.2 79.1l0.8 1M64.1 53.1l0.7 1.3M104.7 50.9l-0 0.7M28.1 32.9l0.9 0.9M30 41.1l0.8 0.5M94.6 16.7l1 0.8M14.4 24.8l-0.5 0.8M18.8 107.5l-1.1 1M91.6 90.2l1.2 0.2M0.2 73.4l-0 1.2M80.3 21.6l0.2 1.7M29.1 55.8l-1 1.1M44 44.3l0.8 0.2M84.6 95.5l1.5 1.2M89.3 20.6l-0 0.2M68.5 26.6l-0 0M60.3 40.4l0.1 0.3M52.5 32.2l1.3 0.6M56.2 65l-0.5 0.1M12.9 104.4l1.4 1.4M56.2 25.5l-1.6 0.3M91.8 5.4l-0.3 0.3M77.8 41.3l0.3 0.1M103.4 7.9l-0 0.1M98.8 68.9l-0 0.1M36.1 65.2l-1.5 0.1M31.7 98.5l-0.5 0.6M52.8 8.3l-1.3 1.2M11.5 7.6l-0.4 0.8M43.1 77.7l-0.5 1.5M24.1 12l1.3 0.3M8.3 15.6l1 0.4" stroke="#0a0a5c" stroke-width="5.5"/><path d="M85.3 17.7h0M70.4 14.5h0M87.9 56.7h0M92.2 56.8h0M84.1 47.4h0M98 2h0M25.9 53.6h0M14.1 61h0M54.4 79.3h0M4.1 102.7h0M104.7 44.4h0M107.3 30h0M19.1 49.2h0M28.9 49.8h0M89.8 29.4h0M85.2 25.5h0M38.5 104.5h0M18.1 58.9h0M2.7 105.1h0M96.8 59.8h0M3.2 59.2h0M104.9 21.9h0M76 21.7h0M16.5 48.2h0M99.8 19.3h0M20.7 83.3h0M65.3 80.7h0M23.1 62.9h0M96.9 21.4h0M6.6 103.9h0M104.1 27.4h0M69.9 31.1h0M22.2 51.2h0M91 45.4h0M83.8 14.5h0M96.2 42.5h0M74 9h0M62.9 71.1h0M95.2 55.1h0M58.9 100h0M98.2 15.9h0M98.1 49.3h0M22.3 57.9h0M73.4 36.7h0M5.7 106.5h0M76.2 71.3h0M93.2 2.8h0M104.2 49.8h0M46.2 84.5h0M96.4 46.7h0M27.4 56.1h0M92.7 41.5h0M35.8 83.7h0M52.2 81.8h0M57.4 39.8h0M89.4 36.4h0M92.3 21.3h0M93.7 25.8h0M93.7 18.4h0M96.4 52.7h0M20.9 60.2h0M100.9 25.6h0M71.9 94.1h0M43.4 86.8h0M97.3 12.5h0M3.5 50.4h0M29.5 52.5h0M15.8 64.7h0M16.4 56.2h0M80.1 13.7h0M77.3 15.1h0M40.5 101.3h0M17.2 52.3h0M53.2 67.6h0M3.5 100.1h0" stroke="#2fb53c" stroke-width="2.7"/></g></g>
<g transform="translate(802 171)" clip-path="url(#c6)"><rect width="110" height="109.3" fill="#010104"/><ellipse cx="50" cy="60" rx="60" ry="55" fill="#050540" opacity="0.6" filter="url(#bl2)"/><g filter="url(#bl)" fill="none" stroke-linecap="round"><path d="M1 33.3l0.2 0.9M81 92l0.8 1M98.5 106.3l1.3 1.3M20.3 28.4l-0.2 0.4M58 71.1l0.2 0.3M21.2 81.1l0 0.8M30.2 74.2l0.4 0.4M70.9 33.3l1 1.7M46.7 74.8l1.7 0.9M60.8 33.1l0.5 0.5M103.2 37.8l1 0.3M34.8 11l-1.2 0.4M104.3 76.1l1 0M73.2 55.5l0.2 0.1M20.8 1.4l1.1 0.7M61.5 89.4l1.3 1M108.9 10.3l0 0.4M7.1 7.6l1.6 0.2M16.9 82.3l-0.1 1.7M74.3 88.9l1.1 0.8M42.5 18.6l-0.9 0.4M13 6.3l-1.3 0M12 35l0.8 1.6M72.3 75.8l-0.4 1.3M24.3 18.8l-1.8 0.5M59 107l0.1 1.1M59.8 49.2l-1.7 0.3M81.3 36.3l1.4 1.3M93 84.4l-0.7 0.6M31.7 102.3l1.4 0.8M66 0.4l-0.6 1.1M82.6 71.6l-0 1.7M79 63.1l-0.2 1.4M43.7 79.9l0 0.1M70.5 4.4l0 0" stroke="#090950" stroke-width="5.5"/><path d="M37.7 62.5l-0.1 0M94.2 28.7l-0.1 0M25.4 58.3l-0.1 0.6M94.2 21.5l-0.8 0.3M45.1 77.7l-1.3 0M31.7 49.9l-0.2 0.4M9.8 36.1l0 0M96.7 35l-1.7 0.7M98.5 43.4l0 0.1M15.9 72.6l0.4 0.7M38.7 90.5l-0.1 0.9M48.5 57.6l-1.1 1.3M54.9 75.9l-0.1 1.2M100.3 18.4l-0.4 0.1M13.3 63.4l0.3 0.1M34.5 11.9l0 0M88.2 31l-1.4 1.2M54.3 52.7l0.2 0.1M16.2 83.2l-0.2 1.2M106.9 31l0.4 0.1" stroke="#151598" stroke-width="6.5"/><path d="M56.8 40.9h0M54.9 79.2h0M7 1.2h0M46.4 63.3h0M72.7 23.9h0M51.2 108.2h0M98.9 66.2h0M105.5 27.6h0M58.1 94.3h0M52 92.5h0M89.8 68.4h0M60.7 29.2h0M19.7 51.8h0M71 74.6h0M101.8 75.6h0M67.3 36.4h0M42.5 97.8h0M39.4 18.2h0M35.4 28h0M27.7 28.4h0M60.4 21.4h0M66.3 97.8h0M31 15.5h0M59.5 88.4h0M53.3 4.8h0M35.7 38.3h0M55.2 15.6h0M44.3 82h0M42.3 74.9h0M29.5 104.5h0M90.8 79.9h0M72.2 41.7h0M105.7 19.1h0M80.8 43.2h0M70.3 92.2h0M84.2 5.7h0M101.8 83.3h0M43.2 37.6h0M67.6 103.8h0M78.5 81h0M12.2 107.3h0M35.6 32.9h0M95.2 40.6h0M79.6 66.1h0M45.2 52.8h0M26.6 90.6h0" stroke="#39c247" stroke-width="4.8"/></g></g>
<g transform="translate(917 171)" clip-path="url(#c7)"><rect width="110" height="109.3" fill="#010104"/><ellipse cx="55" cy="55" rx="60" ry="60" fill="#052420" opacity="0.7" filter="url(#bl2)"/><g filter="url(#bl)" fill="none" stroke-linecap="round"><path d="M55.7 73.1l0.1 0M93.9 24.2l0.6 0.5M17.6 73.6l0.1 0M38.1 76l1.7 0.6M93.4 6.5l-1.9 0.6M40.4 19.8l-1.6 0.6M35.7 101.8l0.7 1.4M22.2 43.1l-0.2 0.4M21 16.4l-1.4 0M11.6 4.7l0 0.2M86.8 75.3l-1 1.3M37.7 83l-0.2 0.9M101.6 27.9l-0.9 0M72 13.9l-1 0.3M32.1 39.8l0.6 0.1M50.6 68.8l-0.4 0.1M40.4 39.9l1.1 0.1M86.2 40.4l0.4 0.6M76.1 81.5l0 0M27.2 82.6l0.1 0.1M31.2 55.1l0 0M54.9 21.9l0.1 0.1M99.5 2l-0.7 0.9M30.9 71.2l1.2 0.1M38.8 87.4l-0.7 1.5M107.9 59.5l0.3 0.1M54.1 103.6l1 1M71.2 75.2l-0.6 1.6M60.6 87.9l0 0M20.4 2.5l-0.4 0.7M25.6 32.6l-1 1.3M60.8 70.4l0.5 1.5M0.3 19.1l-1.3 0.3M91.7 109l0.3 1.5M8.1 32.5l-0.9 1.3M62.5 51.8l-0.2 0.3M16.6 94.9l-0.1 0.9M65.7 42.7l-0.8 0.3M34.2 12.6l0.3 0.5M24.2 106.7l1.4 0.7M104.4 36l-0.8 0.9M60.6 1.1l-0 0M99.5 19.8l0.4 1.1M75.3 94.2l0 0.9M22.9 7.4l0.6 0.7" stroke="#090958" stroke-width="5"/><path d="M52.3 15.1l-1 0.9M57.4 63.1l0.4 0.1M101 32.8l0.7 0.7M81 102.4l0.1 0.3M13.2 94.8l0.7 0.1M1.4 1l-1.5 0.3M51.6 34.8l-0.7 1M60.4 101l1.4 0.3M42.8 72.7l-0.5 0.2M41 57.7l0.7 0.1M8.5 33.7l-0 0M108.4 85.5l-0.6 0.7M80.6 1.3l0.1 0.1M66 49.9l0.2 0.2M81.1 92.2l0.5 0.8M7.5 65.1l-0.8 0.9M56.5 87.9l0.9 0M45.3 82.1l-0.3 0.2M5.7 4l0.4 0.5M35.1 71l0.9 1.1M48.8 49.1l1.1 0.2M33.4 25.4l0.1 0.6M34.6 9.1l-0.5 0.8M95.6 51.9l0.2 0.2M108.4 23.6l-0 0.1M25.5 84.2l0.2 0.5" stroke="#1616a4" stroke-width="4.2"/><path d="M82.8 30.2h0M66.2 67.4h0M83.8 16.9h0M27.1 33.8h0M28.9 64.4h0M54.4 26.9h0M71.2 44.6h0M94.6 55.5h0M24.4 14.6h0M40.1 58.1h0M40.2 39h0M39.8 8.9h0M67.6 84.9h0M44.4 51.1h0M69.1 52h0M67.5 92.7h0M57.5 78h0M70.9 88.5h0M18.5 3h0M59.5 30.1h0M40.9 64.7h0M37.2 66.2h0M44.7 95.9h0M29.5 56.2h0M36.2 80h0M33.1 36.4h0M55.9 48.7h0M89.8 44.5h0M78.2 82.3h0M14.9 82.5h0M66.3 71.4h0M9.9 31.5h0M45.2 60.1h0M73.8 60.3h0M57.6 59.3h0M95.7 73h0M13.8 28h0M29 47.9h0M104.9 62.4h0M52.1 91.4h0M4.5 96.3h0M54.2 97.2h0M49.2 23.2h0M47.5 29.2h0M24 29.4h0M81.4 34.1h0M78.6 76.2h0M72.1 54.2h0M17.3 44.4h0M64.5 36.4h0M1.2 24.1h0M28.3 79.2h0M90.5 64.4h0M99.3 64.8h0M44.1 78.7h0M64.1 56.8h0M59.6 89.9h0M47.6 17.1h0M60.3 53.3h0M52.5 50.2h0M67.2 97.2h0M59.4 81.7h0M67.6 30.2h0M84.4 6.5h0M87.2 71.6h0M37 42.8h0M79.4 56.5h0M45.9 72h0M27.9 23.5h0M16.4 34.5h0M50.1 45.9h0M49.5 37.1h0M12.3 44.8h0M66.5 77.2h0M66.8 15.6h0M89.8 48.5h0M53.8 44.7h0M31.3 76.3h0M78 8.5h0M18.2 98.7h0M0.2 101.4h0M86.7 34.7h0M22.3 20.2h0M42.6 30.8h0M71.8 0.2h0M65.2 48.9h0M46.1 11.9h0M48.3 51.6h0M35.6 13.2h0M91.5 32.7h0M75.2 97.1h0M63.4 25.4h0M52.9 21.4h0M101.8 85.3h0M81.9 25.6h0M53.6 57.9h0M75 77.9h0M59.3 43.8h0M63.9 81.7h0M44.7 45.5h0M35.8 24.9h0M5.8 25.3h0M83.6 54.4h0M66.6 40.1h0M104.9 35.7h0M29.3 98.5h0M60.6 11.4h0M77.4 43.6h0M58.3 19.4h0M78.3 31.6h0M3.4 49.4h0M35.9 2.2h0M20.6 72.5h0M36.6 30.5h0M89.3 53.9h0M32 82h0M52.7 68.6h0M44.2 26.2h0M25.8 53.8h0M20.6 39.8h0" stroke="#3fd049" stroke-width="3.8"/></g></g>
<g transform="translate(1032 171)" clip-path="url(#c8)"><rect width="110" height="109.3" fill="#010104"/><ellipse cx="52" cy="58" rx="36" ry="34" fill="#0f6a2c" opacity="0.8" filter="url(#bl2)"/><ellipse cx="55" cy="55" rx="70" ry="70" fill="#072a3a" opacity="0.7" filter="url(#bl2)"/><g filter="url(#bl)" fill="none" stroke-linecap="round"><path d="M30.7 85.3l-1.7 0.7M6.1 87.2l0.2 0.9M28 61.8l-0.3 0.1M91.2 28.1l0.3 0.2M74.8 105.8l-0.8 1.4M69.6 37.6l0.1 0.1M19.5 109l0.1 0.1M33 94l-0.2 0.1M60.9 16.5l0.7 0.3M43.2 41.3l0.1 1M67.6 24.6l-0.4 0.4M59 60.3l-1.2 1.2M27.4 91.4l-0.7 0.7M53.4 90.5l-0 0M98.8 78.6l0.2 1.2M71.3 75.4l-0.1 0.4M17.1 79.6l-0.9 1.2M102.6 72.7l-0.8 1.1M73.1 89.4l-0.4 0.6M64.1 103.8l1.9 0.7M94.3 3.4l0.2 0.1M82 57.5l-0.9 0.1M103 26.8l0.4 0.1M59.7 70.7l0.2 0.2M46.9 3.2l-0.2 1.2M4 58.2l0.1 1.1M85.3 13.8l1.9 0.2M78.7 16l1.4 1M57.6 38.2l0.3 1.5M58.8 3.9l-0.2 1.5M50.2 19l-0.7 0.6M79.8 86.3l0.1 0.1M49.1 39.8l-1.1 0.2M10.4 108.3l0.2 1.2M26.3 51l0.2 0.6M46.6 93.7l-0.6 0.4M85.2 76.4l1.2 1.4M11.2 35.7l-1.1 0.5M20.5 52.7l-1.1 0.4M91.1 54.1l0.4 0.8" stroke="#0a0a5c" stroke-width="5"/><path d="M101.7 0.4l1 0.3M14.6 82.1l-0 0.1M37.7 70.7l-0.5 1.4M35.3 30.9l0.2 0.3M25.5 44.9l0.8 0.4M75.6 90.9l0.9 1.2M75.4 101.4l1 0.3M62.2 62.7l1.4 0.1M5.7 52.5l-0.7 0M99.2 20.6l-0.3 0.5M23.4 90.7l0.3 0.1M42.2 30.6l0.1 0.6M12.4 87.5l0.1 0.1M7 31.5l-1 0.7M34.2 23l0.7 0.9M94.9 71.4l0.2 0.8M47.5 97.9l0.4 1.6M71.8 52.7l0.4 0.1M60.3 104.1l-0.5 0.9M43.5 85.2l1.8 0.3M4.6 69l-0.7 1.5M62.6 75.1l-0.2 1.6M29.9 65.5l-0.6 0.1M90.6 73.2l1.6 0.8M91.7 43.5l-1.7 0M42.9 23.7l-1.8 0.7M80.4 10.2l-0.3 1.9M44.8 71.2l-0.8 0.5M78.7 45.8l-0.6 0.1M109.1 93.3l-0.7 0.2M11.8 106.8l0.5 0M52.3 71.3l0.2 0.4" stroke="#1717a8" stroke-width="5.5"/><path d="M68.4 57.4h0M34.4 32h0M101.5 35.7h0M48.1 57.3h0M78.3 81.2h0M100.7 39h0M81.5 88.9h0M55.3 45.9h0M80.3 57.8h0M26.1 27.9h0M26.5 66h0M36.1 59.7h0M67 53.5h0M15.1 25.8h0M25.4 71.4h0M109 34.9h0M26.8 82.1h0M39.2 81.4h0M55.1 35.9h0M69.4 72.9h0M44.5 44.4h0M29 32.4h0M97.8 32h0M30.4 29.1h0M17.3 16h0M100.5 24.8h0M36.7 72.3h0M69.4 96.8h0M107.6 41.2h0M76.5 77h0M87 74.7h0M24.7 37h0M31.1 16.1h0M43 30.9h0M32.7 61.4h0M33.5 25.5h0M40.5 65.7h0M28.5 37.3h0M79.6 44.6h0M44.1 34.4h0M29 60.2h0M61.1 58.8h0M98.8 44.1h0M36.4 78.6h0M19.3 92.1h0M43.6 61.1h0M61.6 69.5h0M27.4 22.5h0M102.9 49.8h0M21 45.5h0M32.1 85.6h0M75.4 50.9h0M30.6 76.2h0M53.6 41.4h0M32.6 68.5h0M105.6 90.5h0M103.7 45h0M54.5 65.6h0M52.5 58.2h0M83 80.1h0M62.2 74.4h0M71 51.7h0M79.4 71.6h0M27.2 18.1h0M96.6 37.4h0M94.8 90.1h0M101.7 77.6h0M72 62.3h0M37.4 92h0M93 72.7h0M34.1 18.3h0M100.1 66.1h0M37.2 67.8h0M55.5 51.9h0M35.4 49.2h0M67.3 36.7h0M63.4 53.3h0M96 41.1h0M74.2 100.6h0M101.9 20.8h0M19.6 22.5h0M31.3 73h0M61.6 45.3h0M103.9 72.9h0M13.7 30.5h0M94.4 100.2h0M104.6 38h0M28 12.9h0M31.5 64.6h0M24.4 63.3h0M40.2 19.9h0M102.1 28.8h0M29.2 42.8h0M66.1 65.8h0M61.8 85.1h0M93.6 82h0M24.5 58.1h0M59.9 78.9h0M87.2 79.3h0M90.9 89h0M91.6 59.1h0M48.5 44.9h0M23.7 22.4h0M42.7 86h0M20.6 86h0" stroke="#44d84c" stroke-width="3.5"/></g></g>
<g transform="translate(1146.5 171)" clip-path="url(#c9)"><rect width="110" height="109.3" fill="#010104"/><ellipse cx="64" cy="52" rx="34" ry="28" fill="#0f6a2c" opacity="0.8" filter="url(#bl2)"/><ellipse cx="55" cy="55" rx="70" ry="70" fill="#072a3a" opacity="0.7" filter="url(#bl2)"/><g filter="url(#bl)" fill="none" stroke-linecap="round"><path d="M61.3 2.6l-0.9 1.4M106.2 31.3l0.5 0.8M70.7 20l0.5 1.4M40.2 77.9l-0.2 0M102.2 35l0.3 0.4M22.3 7.5l0 0.2M54 35.1l0.6 0.2M3.1 14.7l-0.4 1.1M62.3 71l0.1 0.1M72 81.5l-0.2 0.2M31 13.8l-0.7 0.9M77.2 66.3l-0 0M65.4 4.5l0 0M11.2 83.6l-0.8 0.4M13.9 42.9l0.2 0.1M79.9 0.7l0.2 1.2M59.2 30l1 0.5M75 28.1l1.2 0.9M98.1 37.1l-0.3 0.6M23.3 60.9l-0.3 1.5M13.9 88l0.1 0.1M4.8 63.7l-0.2 1.4M80.5 34.8l0.3 1M29.8 81.6l0.8 0.2M61 21.4l0.7 0.8M100.7 45.3l-0.5 0M44.4 38l-0 1.4M90.9 54l-0.2 0.3M83.3 23.3l-0.8 0.3M4.2 97l-0.2 0.2M29.5 18.2l0.8 1.7M31.5 31.9l-1.3 1.4M48.9 99.3l-1 1.1M14.2 105.8l-0.2 0.2M11.3 55.7l-1.2 1.4M23 17.7l-1.4 0.8M40.9 48.1l-0.1 0M99.1 25.2l-0.3 0.1M57.7 25.7l0.2 0.6M96.7 66.1l-0.7 0.1" stroke="#0a0a5c" stroke-width="5"/><path d="M75.4 61.8l-0.3 1.9M103.2 71.7l1.5 0.5M14.4 13.7l1.7 0.6M45.8 45l-0.4 0.4M49 7.2l0.1 0M46.4 13.6l1.2 1.2M22.2 72l-0.6 0.5M27.1 32.1l0 0.7M86.5 6.6l-0.3 0.1M43.6 81l-0.6 0.2M91.1 4.6l0 0.4M32.5 82.9l-1.6 0.2M102.1 86.8l-1.9 0.1M85.6 63.6l0.5 0.8M62.9 21.1l1 1.2M30.6 13.8l1.5 1.3M0.3 10.3l1.5 0.2M14.5 35.4l-0.4 0.3M51 75.3l-0.2 0M8.5 45.7l1.3 0.1M26.2 64.4l0.8 0.9M18 60.8l1 0.1M22.8 44l0.1 1.9M89.9 92l0.2 0.1M93.8 87.2l-0.8 0.6M55.6 21l-0.3 0.3M71.2 25.3l-0.7 0.3M100.3 5.8l0.6 0.6M81.5 30.7l0.6 0.3M106.1 33.1l-0.3 0.1M40.7 22.8l0.1 0.1M68.7 53.7l0.2 0.1" stroke="#1717a8" stroke-width="5.5"/><path d="M25.4 83.2h0M18.2 85.7h0M102.4 74.7h0M64.7 50.6h0M27.5 29.5h0M54.8 48.2h0M87.4 83.5h0M21.2 83.5h0M26 73.7h0M32.4 27.6h0M76.8 45.6h0M94.7 79.1h0M27.4 93.4h0M32.8 83.8h0M29.8 73.5h0M36.7 26.5h0M101.9 82.6h0M27.9 79.6h0M82.7 75.3h0M38.3 22.6h0M78.2 88.1h0M75 51.2h0M29.1 53.3h0M39.8 66.8h0M70.1 43.2h0M97.9 88.7h0M58.9 71.7h0M94.4 85.6h0M30.4 38.3h0M42.5 38.3h0M58.8 62.8h0M81.4 80.4h0M65.5 41.1h0M70.5 64.9h0M41.3 83.9h0M61.2 31.5h0M50.1 57.7h0M55.2 38.5h0M37.3 74h0M87.8 79.9h0M37.2 32.6h0M54.3 52.7h0M42.1 26.6h0M35.2 21.1h0M54.2 58.9h0M42.9 31.4h0M45.4 27.6h0M90.4 88.2h0M56.8 26.5h0M16 95.4h0M74.9 77.9h0M83.9 64h0M42.1 76.9h0M26.7 65.6h0M21.7 75.7h0M41.4 92.9h0M80.1 47.3h0M46.2 37.2h0M78.4 75.1h0M22.6 68h0M42.7 88.8h0M28.2 89.4h0M44.9 93.9h0M32.1 79.7h0M39.3 36.7h0M39.5 29.8h0M63.5 68.8h0M101.3 91.3h0M72.8 58.8h0M105.6 91.7h0M90.5 55.1h0M93 45.7h0M43.4 66h0M86.9 68.7h0M91.5 80.2h0M47.8 21.6h0M29.2 84.1h0M97.8 76h0M78.2 92.4h0M54.5 66h0M42.4 20.8h0M99.9 49.6h0M81.3 58.1h0M35.5 35.7h0M33.8 40.9h0" stroke="#44d84c" stroke-width="3.5"/></g></g>
<g transform="translate(102.2 284)" fill="none"><rect x="0" y="0" width="109.3" height="109.5" fill="#fff" stroke="#6f6f6f" stroke-width="1.2"/><ellipse cx="47.2" cy="38.8" rx="12.6" ry="7.8" fill="url(#dens)"/><ellipse cx="45.5" cy="38.8" rx="16.8" ry="9.7" stroke="#8a8a8a" stroke-width=".5"/><ellipse cx="45.7" cy="38.8" rx="14.9" ry="8.6" stroke="#5a5a5a" stroke-width=".5"/><ellipse cx="45.9" cy="38.9" rx="13.1" ry="7.5" stroke="#5a5a5a" stroke-width=".5"/><ellipse cx="46.2" cy="38.9" rx="11.3" ry="6.5" stroke="#5a5a5a" stroke-width=".5"/><ellipse cx="46.4" cy="39" rx="9.5" ry="5.5" stroke="#3c3c3c" stroke-width=".5"/><ellipse cx="46.6" cy="39" rx="7.9" ry="4.5" stroke="#3c3c3c" stroke-width=".5"/><ellipse cx="46.8" cy="39.1" rx="6.3" ry="3.6" stroke="#3c3c3c" stroke-width=".5"/><ellipse cx="46.9" cy="39.1" rx="4.7" ry="2.7" stroke="#3c3c3c" stroke-width=".5"/><ellipse cx="47.1" cy="39.1" rx="3.3" ry="1.9" stroke="#3c3c3c" stroke-width=".5"/><ellipse cx="47.3" cy="39.2" rx="2" ry="1.2" stroke="#3c3c3c" stroke-width=".5"/><ellipse cx="47.4" cy="39.2" rx="0.8" ry="0.5" stroke="#3c3c3c" stroke-width=".5"/><ellipse cx="76.5" cy="39.6" rx="9.4" ry="6.6" stroke="#6a6a6a" stroke-width=".5"/><ellipse cx="76.5" cy="39.6" rx="7.2" ry="5.1" stroke="#6a6a6a" stroke-width=".5"/><ellipse cx="76.5" cy="39.6" rx="5" ry="3.5" stroke="#6a6a6a" stroke-width=".5"/><ellipse cx="76.5" cy="39.6" rx="2.8" ry="2" stroke="#6a6a6a" stroke-width=".5"/><rect x="62.4" y="19.5" width="31.6" height="41" stroke="#222" stroke-width="1"/><text x="78.6" y="18.2" font-size="14.6" text-anchor="middle" fill="#000">11.7</text></g>
<g transform="translate(217.2 284)" fill="none"><rect x="0" y="0" width="109.3" height="109.5" fill="#fff" stroke="#6f6f6f" stroke-width="1.2"/><ellipse cx="47.2" cy="39.5" rx="13.1" ry="8.8" fill="url(#dens)"/><ellipse cx="45.5" cy="39.5" rx="17.5" ry="11" stroke="#8a8a8a" stroke-width=".5"/><ellipse cx="45.7" cy="39.5" rx="15.5" ry="9.8" stroke="#5a5a5a" stroke-width=".5"/><ellipse cx="46" cy="39.6" rx="13.6" ry="8.6" stroke="#5a5a5a" stroke-width=".5"/><ellipse cx="46.2" cy="39.6" rx="11.8" ry="7.4" stroke="#5a5a5a" stroke-width=".5"/><ellipse cx="46.4" cy="39.7" rx="9.9" ry="6.3" stroke="#3c3c3c" stroke-width=".5"/><ellipse cx="46.6" cy="39.7" rx="8.2" ry="5.2" stroke="#3c3c3c" stroke-width=".5"/><ellipse cx="46.8" cy="39.8" rx="6.5" ry="4.1" stroke="#3c3c3c" stroke-width=".5"/><ellipse cx="47" cy="39.8" rx="4.9" ry="3.1" stroke="#3c3c3c" stroke-width=".5"/><ellipse cx="47.2" cy="39.8" rx="3.4" ry="2.2" stroke="#3c3c3c" stroke-width=".5"/><ellipse cx="47.4" cy="39.9" rx="2.1" ry="1.3" stroke="#3c3c3c" stroke-width=".5"/><ellipse cx="47.5" cy="39.9" rx="0.9" ry="0.5" stroke="#3c3c3c" stroke-width=".5"/><ellipse cx="77" cy="40" rx="9" ry="7.5" stroke="#6a6a6a" stroke-width=".5"/><ellipse cx="77" cy="40" rx="6.9" ry="5.8" stroke="#6a6a6a" stroke-width=".5"/><ellipse cx="77" cy="40" rx="4.8" ry="4" stroke="#6a6a6a" stroke-width=".5"/><ellipse cx="77" cy="40" rx="2.7" ry="2.3" stroke="#6a6a6a" stroke-width=".5"/><path d="M59.5 33.5Q61.2 38.5 69.8 35.5M59.5 45.5Q61.2 41.5 69.8 44.5" stroke="#666" stroke-width=".5"/><rect x="62.4" y="20.3" width="31.6" height="41.3" stroke="#222" stroke-width="1"/><text x="80" y="18.7" font-size="14.6" text-anchor="middle" fill="#000">12.2</text></g>
<g transform="translate(331.7 284)" fill="none"><rect x="0" y="0" width="109.3" height="109.5" fill="#fff" stroke="#6f6f6f" stroke-width="1.2"/><ellipse cx="45.8" cy="39" rx="13.5" ry="7.2" fill="url(#dens)"/><ellipse cx="44" cy="39" rx="18" ry="9" stroke="#8a8a8a" stroke-width=".5"/><ellipse cx="44.2" cy="39" rx="16" ry="8" stroke="#5a5a5a" stroke-width=".5"/><ellipse cx="44.5" cy="39.1" rx="14" ry="7" stroke="#5a5a5a" stroke-width=".5"/><ellipse cx="44.7" cy="39.1" rx="12.1" ry="6" stroke="#5a5a5a" stroke-width=".5"/><ellipse cx="44.9" cy="39.2" rx="10.2" ry="5.1" stroke="#3c3c3c" stroke-width=".5"/><ellipse cx="45.1" cy="39.2" rx="8.4" ry="4.2" stroke="#3c3c3c" stroke-width=".5"/><ellipse cx="45.4" cy="39.3" rx="6.7" ry="3.4" stroke="#3c3c3c" stroke-width=".5"/><ellipse cx="45.6" cy="39.3" rx="5.1" ry="2.5" stroke="#3c3c3c" stroke-width=".5"/><ellipse cx="45.7" cy="39.3" rx="3.5" ry="1.8" stroke="#3c3c3c" stroke-width=".5"/><ellipse cx="45.9" cy="39.4" rx="2.1" ry="1.1" stroke="#3c3c3c" stroke-width=".5"/><ellipse cx="46.1" cy="39.4" rx="0.9" ry="0.4" stroke="#3c3c3c" stroke-width=".5"/><ellipse cx="76" cy="39" rx="10" ry="7.5" stroke="#6a6a6a" stroke-width=".5"/><ellipse cx="76" cy="39" rx="7.7" ry="5.8" stroke="#6a6a6a" stroke-width=".5"/><ellipse cx="76" cy="39" rx="5.3" ry="4" stroke="#6a6a6a" stroke-width=".5"/><ellipse cx="76" cy="39" rx="3" ry="2.3" stroke="#6a6a6a" stroke-width=".5"/><path d="M58.4 34Q60 38 68 34.5M58.4 44Q60 41 68 43.5" stroke="#666" stroke-width=".5"/><rect x="62" y="20" width="31" height="41" stroke="#222" stroke-width="1"/><text x="78" y="16.5" font-size="14.6" text-anchor="middle" fill="#000">11.8</text></g>
<g transform="translate(446.2 284)" fill="none"><rect x="0" y="0" width="109.3" height="109.5" fill="#fff" stroke="#6f6f6f" stroke-width="1.2"/><ellipse cx="45.3" cy="39.5" rx="13.5" ry="6.8" fill="url(#dens)"/><ellipse cx="43.5" cy="39.5" rx="18" ry="8.5" stroke="#8a8a8a" stroke-width=".5"/><ellipse cx="43.7" cy="39.5" rx="16" ry="7.5" stroke="#5a5a5a" stroke-width=".5"/><ellipse cx="44" cy="39.6" rx="14" ry="6.6" stroke="#5a5a5a" stroke-width=".5"/><ellipse cx="44.2" cy="39.6" rx="12.1" ry="5.7" stroke="#5a5a5a" stroke-width=".5"/><ellipse cx="44.4" cy="39.7" rx="10.2" ry="4.8" stroke="#3c3c3c" stroke-width=".5"/><ellipse cx="44.6" cy="39.7" rx="8.4" ry="4" stroke="#3c3c3c" stroke-width=".5"/><ellipse cx="44.9" cy="39.8" rx="6.7" ry="3.2" stroke="#3c3c3c" stroke-width=".5"/><ellipse cx="45.1" cy="39.8" rx="5.1" ry="2.4" stroke="#3c3c3c" stroke-width=".5"/><ellipse cx="45.2" cy="39.8" rx="3.5" ry="1.7" stroke="#3c3c3c" stroke-width=".5"/><ellipse cx="45.4" cy="39.9" rx="2.1" ry="1" stroke="#3c3c3c" stroke-width=".5"/><ellipse cx="45.6" cy="39.9" rx="0.9" ry="0.4" stroke="#3c3c3c" stroke-width=".5"/><ellipse cx="74" cy="40" rx="9.5" ry="6.5" stroke="#6a6a6a" stroke-width=".5"/><ellipse cx="74" cy="40" rx="7.7" ry="5.3" stroke="#6a6a6a" stroke-width=".5"/><ellipse cx="74" cy="40" rx="5.9" ry="4" stroke="#6a6a6a" stroke-width=".5"/><ellipse cx="74" cy="40" rx="4.1" ry="2.8" stroke="#6a6a6a" stroke-width=".5"/><ellipse cx="74" cy="40" rx="2.3" ry="1.6" stroke="#6a6a6a" stroke-width=".5"/><path d="M57.9 34.8Q58.8 38.5 66.4 36.1M57.9 44.2Q58.8 41.5 66.4 43.9" stroke="#666" stroke-width=".5"/><ellipse cx="2.6" cy="39.5" rx="2.6" ry="4.5" stroke="#777" stroke-width=".5"/><ellipse cx="2.6" cy="39.5" rx="1.2" ry="2.5" stroke="#777" stroke-width=".5"/><rect x="62.3" y="20.5" width="31.2" height="40.8" stroke="#222" stroke-width="1"/><text x="77.5" y="18.3" font-size="14.6" text-anchor="middle" fill="#000">13.4</text></g>
<g transform="translate(561.2 284)" fill="none"><rect x="0" y="0" width="109.3" height="109.5" fill="#fff" stroke="#6f6f6f" stroke-width="1.2"/><ellipse cx="43.5" cy="40" rx="15.4" ry="8.4" fill="url(#dens)"/><ellipse cx="41.5" cy="40" rx="20.5" ry="10.5" stroke="#8a8a8a" stroke-width=".5"/><ellipse cx="41.8" cy="40" rx="18.2" ry="9.3" stroke="#5a5a5a" stroke-width=".5"/><ellipse cx="42" cy="40.1" rx="16" ry="8.2" stroke="#5a5a5a" stroke-width=".5"/><ellipse cx="42.3" cy="40.1" rx="13.8" ry="7.1" stroke="#5a5a5a" stroke-width=".5"/><ellipse cx="42.6" cy="40.2" rx="11.7" ry="6" stroke="#3c3c3c" stroke-width=".5"/><ellipse cx="42.8" cy="40.2" rx="9.6" ry="4.9" stroke="#3c3c3c" stroke-width=".5"/><ellipse cx="43" cy="40.3" rx="7.7" ry="3.9" stroke="#3c3c3c" stroke-width=".5"/><ellipse cx="43.3" cy="40.3" rx="5.8" ry="3" stroke="#3c3c3c" stroke-width=".5"/><ellipse cx="43.5" cy="40.3" rx="4" ry="2.1" stroke="#3c3c3c" stroke-width=".5"/><ellipse cx="43.7" cy="40.4" rx="2.4" ry="1.2" stroke="#3c3c3c" stroke-width=".5"/><ellipse cx="43.8" cy="40.4" rx="1" ry="0.5" stroke="#3c3c3c" stroke-width=".5"/><ellipse cx="75.5" cy="40.5" rx="7" ry="5" stroke="#6a6a6a" stroke-width=".5"/><ellipse cx="75.5" cy="40.5" rx="4" ry="2.8" stroke="#6a6a6a" stroke-width=".5"/><ellipse cx="2.6" cy="40" rx="2.6" ry="4.5" stroke="#777" stroke-width=".5"/><ellipse cx="2.6" cy="40" rx="1.2" ry="2.5" stroke="#777" stroke-width=".5"/><rect x="62" y="20" width="31" height="41" stroke="#222" stroke-width="1"/><text x="78" y="16.5" font-size="14.6" text-anchor="middle" fill="#000">8.43</text></g>
<g transform="translate(688.2 284)" fill="none"><rect x="0" y="0" width="109.3" height="109.5" fill="#fff" stroke="#6f6f6f" stroke-width="1.2"/><ellipse cx="46.1" cy="39.5" rx="12" ry="8.8" fill="url(#dens)"/><ellipse cx="44.5" cy="39.5" rx="16" ry="11" stroke="#8a8a8a" stroke-width=".5"/><ellipse cx="44.7" cy="39.5" rx="14.2" ry="9.8" stroke="#5a5a5a" stroke-width=".5"/><ellipse cx="44.9" cy="39.6" rx="12.5" ry="8.6" stroke="#5a5a5a" stroke-width=".5"/><ellipse cx="45.1" cy="39.6" rx="10.7" ry="7.4" stroke="#5a5a5a" stroke-width=".5"/><ellipse cx="45.3" cy="39.7" rx="9.1" ry="6.3" stroke="#3c3c3c" stroke-width=".5"/><ellipse cx="45.5" cy="39.7" rx="7.5" ry="5.2" stroke="#3c3c3c" stroke-width=".5"/><ellipse cx="45.7" cy="39.8" rx="6" ry="4.1" stroke="#3c3c3c" stroke-width=".5"/><ellipse cx="45.9" cy="39.8" rx="4.5" ry="3.1" stroke="#3c3c3c" stroke-width=".5"/><ellipse cx="46" cy="39.8" rx="3.2" ry="2.2" stroke="#3c3c3c" stroke-width=".5"/><ellipse cx="46.2" cy="39.9" rx="1.9" ry="1.3" stroke="#3c3c3c" stroke-width=".5"/><ellipse cx="46.3" cy="39.9" rx="0.8" ry="0.5" stroke="#3c3c3c" stroke-width=".5"/><ellipse cx="74.5" cy="40" rx="10.5" ry="8" stroke="#6a6a6a" stroke-width=".5"/><ellipse cx="74.5" cy="40" rx="8.5" ry="6.5" stroke="#6a6a6a" stroke-width=".5"/><ellipse cx="74.5" cy="40" rx="6.5" ry="5" stroke="#6a6a6a" stroke-width=".5"/><ellipse cx="74.5" cy="40" rx="4.6" ry="3.5" stroke="#6a6a6a" stroke-width=".5"/><ellipse cx="74.5" cy="40" rx="2.6" ry="2" stroke="#6a6a6a" stroke-width=".5"/><path d="M57.3 33.5Q59.5 38.5 66.1 35.2M57.3 45.5Q59.5 41.5 66.1 44.8" stroke="#666" stroke-width=".5"/><ellipse cx="2.6" cy="39.5" rx="2.6" ry="4.5" stroke="#777" stroke-width=".5"/><ellipse cx="2.6" cy="39.5" rx="1.2" ry="2.5" stroke="#777" stroke-width=".5"/><rect x="62.5" y="19.5" width="31" height="41.5" stroke="#222" stroke-width="1"/><text x="77.3" y="19.6" font-size="14.6" text-anchor="middle" fill="#000">19.6</text></g>
<g transform="translate(803.2 284)" fill="none"><rect x="0" y="0" width="109.3" height="109.5" fill="#fff" stroke="#6f6f6f" stroke-width="1.2"/><ellipse cx="49.6" cy="40" rx="12" ry="9.2" fill="url(#dens)"/><ellipse cx="48" cy="40" rx="16" ry="11.5" stroke="#8a8a8a" stroke-width=".5"/><ellipse cx="48.2" cy="40" rx="14.2" ry="10.2" stroke="#5a5a5a" stroke-width=".5"/><ellipse cx="48.4" cy="40.1" rx="12.5" ry="8.9" stroke="#5a5a5a" stroke-width=".5"/><ellipse cx="48.6" cy="40.1" rx="10.7" ry="7.7" stroke="#5a5a5a" stroke-width=".5"/><ellipse cx="48.8" cy="40.2" rx="9.1" ry="6.5" stroke="#3c3c3c" stroke-width=".5"/><ellipse cx="49" cy="40.2" rx="7.5" ry="5.4" stroke="#3c3c3c" stroke-width=".5"/><ellipse cx="49.2" cy="40.3" rx="6" ry="4.3" stroke="#3c3c3c" stroke-width=".5"/><ellipse cx="49.4" cy="40.3" rx="4.5" ry="3.2" stroke="#3c3c3c" stroke-width=".5"/><ellipse cx="49.5" cy="40.3" rx="3.2" ry="2.3" stroke="#3c3c3c" stroke-width=".5"/><ellipse cx="49.7" cy="40.4" rx="1.9" ry="1.4" stroke="#3c3c3c" stroke-width=".5"/><ellipse cx="49.8" cy="40.4" rx="0.8" ry="0.6" stroke="#3c3c3c" stroke-width=".5"/><ellipse cx="77" cy="41" rx="10.5" ry="8" stroke="#6a6a6a" stroke-width=".5"/><ellipse cx="77" cy="41" rx="8.5" ry="6.5" stroke="#6a6a6a" stroke-width=".5"/><ellipse cx="77" cy="41" rx="6.5" ry="5" stroke="#6a6a6a" stroke-width=".5"/><ellipse cx="77" cy="41" rx="4.6" ry="3.5" stroke="#6a6a6a" stroke-width=".5"/><ellipse cx="77" cy="41" rx="2.6" ry="2" stroke="#6a6a6a" stroke-width=".5"/><path d="M60.8 33.7Q62.5 39 68.6 36.2M60.8 46.3Q62.5 42 68.6 45.8" stroke="#666" stroke-width=".5"/><rect x="62.8" y="20.5" width="30.5" height="41" stroke="#222" stroke-width="1"/><text x="79.8" y="19.5" font-size="14.6" text-anchor="middle" fill="#000">21.3</text></g>
<g transform="translate(918.2 284)" fill="none"><rect x="0" y="0" width="109.3" height="109.5" fill="#fff" stroke="#6f6f6f" stroke-width="1.2"/><ellipse cx="46.5" cy="40" rx="10.9" ry="8.8" fill="url(#dens)"/><ellipse cx="45" cy="40" rx="14.5" ry="11" stroke="#8a8a8a" stroke-width=".5"/><ellipse cx="45.2" cy="40" rx="12.9" ry="9.8" stroke="#5a5a5a" stroke-width=".5"/><ellipse cx="45.4" cy="40.1" rx="11.3" ry="8.6" stroke="#5a5a5a" stroke-width=".5"/><ellipse cx="45.6" cy="40.1" rx="9.7" ry="7.4" stroke="#5a5a5a" stroke-width=".5"/><ellipse cx="45.8" cy="40.2" rx="8.2" ry="6.3" stroke="#3c3c3c" stroke-width=".5"/><ellipse cx="45.9" cy="40.2" rx="6.8" ry="5.2" stroke="#3c3c3c" stroke-width=".5"/><ellipse cx="46.1" cy="40.3" rx="5.4" ry="4.1" stroke="#3c3c3c" stroke-width=".5"/><ellipse cx="46.2" cy="40.3" rx="4.1" ry="3.1" stroke="#3c3c3c" stroke-width=".5"/><ellipse cx="46.4" cy="40.3" rx="2.9" ry="2.2" stroke="#3c3c3c" stroke-width=".5"/><ellipse cx="46.5" cy="40.4" rx="1.7" ry="1.3" stroke="#3c3c3c" stroke-width=".5"/><ellipse cx="46.7" cy="40.4" rx="0.7" ry="0.5" stroke="#3c3c3c" stroke-width=".5"/><ellipse cx="73.5" cy="42" rx="10" ry="9.5" stroke="#6a6a6a" stroke-width=".5"/><ellipse cx="73.5" cy="42" rx="8.1" ry="7.7" stroke="#6a6a6a" stroke-width=".5"/><ellipse cx="73.5" cy="42" rx="6.2" ry="5.9" stroke="#6a6a6a" stroke-width=".5"/><ellipse cx="73.5" cy="42" rx="4.3" ry="4.1" stroke="#6a6a6a" stroke-width=".5"/><ellipse cx="73.5" cy="42" rx="2.5" ry="2.3" stroke="#6a6a6a" stroke-width=".5"/><path d="M56.6 34Q59.2 39 65.5 36.3M56.6 46Q59.2 42 65.5 47.7" stroke="#666" stroke-width=".5"/><ellipse cx="2.6" cy="40" rx="2.6" ry="4.5" stroke="#777" stroke-width=".5"/><ellipse cx="2.6" cy="40" rx="1.2" ry="2.5" stroke="#777" stroke-width=".5"/><rect x="62.3" y="20.2" width="31.2" height="41.3" stroke="#222" stroke-width="1"/><text x="77.5" y="18.3" font-size="14.6" text-anchor="middle" fill="#000">25.4</text></g>
<g transform="translate(1033.2 284)" fill="none"><rect x="0" y="0" width="109.3" height="109.5" fill="#fff" stroke="#6f6f6f" stroke-width="1.2"/><ellipse cx="45.2" cy="40" rx="9" ry="7.6" fill="url(#dens)"/><ellipse cx="44" cy="40" rx="12" ry="9.5" stroke="#8a8a8a" stroke-width=".5"/><ellipse cx="44.2" cy="40" rx="10.7" ry="8.4" stroke="#5a5a5a" stroke-width=".5"/><ellipse cx="44.3" cy="40.1" rx="9.3" ry="7.4" stroke="#5a5a5a" stroke-width=".5"/><ellipse cx="44.5" cy="40.1" rx="8.1" ry="6.4" stroke="#5a5a5a" stroke-width=".5"/><ellipse cx="44.6" cy="40.2" rx="6.8" ry="5.4" stroke="#3c3c3c" stroke-width=".5"/><ellipse cx="44.8" cy="40.2" rx="5.6" ry="4.5" stroke="#3c3c3c" stroke-width=".5"/><ellipse cx="44.9" cy="40.3" rx="4.5" ry="3.5" stroke="#3c3c3c" stroke-width=".5"/><ellipse cx="45" cy="40.3" rx="3.4" ry="2.7" stroke="#3c3c3c" stroke-width=".5"/><ellipse cx="45.2" cy="40.3" rx="2.4" ry="1.9" stroke="#3c3c3c" stroke-width=".5"/><ellipse cx="45.3" cy="40.4" rx="1.4" ry="1.1" stroke="#3c3c3c" stroke-width=".5"/><ellipse cx="45.4" cy="40.4" rx="0.6" ry="0.5" stroke="#3c3c3c" stroke-width=".5"/><ellipse cx="74" cy="42" rx="9" ry="7" stroke="#6a6a6a" stroke-width=".5"/><ellipse cx="74" cy="42" rx="7.3" ry="5.7" stroke="#6a6a6a" stroke-width=".5"/><ellipse cx="74" cy="42" rx="5.6" ry="4.4" stroke="#6a6a6a" stroke-width=".5"/><ellipse cx="74" cy="42" rx="3.9" ry="3" stroke="#6a6a6a" stroke-width=".5"/><ellipse cx="74" cy="42" rx="2.2" ry="1.7" stroke="#6a6a6a" stroke-width=".5"/><path d="M53.6 34.8Q59 39 66.8 37.8M53.6 45.2Q59 42 66.8 46.2" stroke="#666" stroke-width=".5"/><rect x="62" y="20.5" width="31" height="41.5" stroke="#222" stroke-width="1"/><text x="78" y="17" font-size="14.6" text-anchor="middle" fill="#000">26.2</text></g>
<g transform="translate(1147.7 284)" fill="none"><rect x="0" y="0" width="109.3" height="109.5" fill="#fff" stroke="#6f6f6f" stroke-width="1.2"/><ellipse cx="47.6" cy="40.5" rx="12" ry="8.4" fill="url(#dens)"/><ellipse cx="46" cy="40.5" rx="16" ry="10.5" stroke="#8a8a8a" stroke-width=".5"/><ellipse cx="46.2" cy="40.5" rx="14.2" ry="9.3" stroke="#5a5a5a" stroke-width=".5"/><ellipse cx="46.4" cy="40.6" rx="12.5" ry="8.2" stroke="#5a5a5a" stroke-width=".5"/><ellipse cx="46.6" cy="40.6" rx="10.7" ry="7.1" stroke="#5a5a5a" stroke-width=".5"/><ellipse cx="46.8" cy="40.7" rx="9.1" ry="6" stroke="#3c3c3c" stroke-width=".5"/><ellipse cx="47" cy="40.7" rx="7.5" ry="4.9" stroke="#3c3c3c" stroke-width=".5"/><ellipse cx="47.2" cy="40.8" rx="6" ry="3.9" stroke="#3c3c3c" stroke-width=".5"/><ellipse cx="47.4" cy="40.8" rx="4.5" ry="3" stroke="#3c3c3c" stroke-width=".5"/><ellipse cx="47.5" cy="40.8" rx="3.2" ry="2.1" stroke="#3c3c3c" stroke-width=".5"/><ellipse cx="47.7" cy="40.9" rx="1.9" ry="1.2" stroke="#3c3c3c" stroke-width=".5"/><ellipse cx="47.8" cy="40.9" rx="0.8" ry="0.5" stroke="#3c3c3c" stroke-width=".5"/><ellipse cx="76" cy="41" rx="10" ry="8.5" stroke="#6a6a6a" stroke-width=".5"/><ellipse cx="76" cy="41" rx="8.1" ry="6.9" stroke="#6a6a6a" stroke-width=".5"/><ellipse cx="76" cy="41" rx="6.2" ry="5.3" stroke="#6a6a6a" stroke-width=".5"/><ellipse cx="76" cy="41" rx="4.3" ry="3.7" stroke="#6a6a6a" stroke-width=".5"/><ellipse cx="76" cy="41" rx="2.5" ry="2.1" stroke="#6a6a6a" stroke-width=".5"/><path d="M58.8 34.7Q61 39.5 68 35.9M58.8 46.3Q61 42.5 68 46.1" stroke="#666" stroke-width=".5"/><rect x="62" y="20.2" width="31.5" height="41.3" stroke="#222" stroke-width="1"/><text x="77.5" y="18.1" font-size="14.6" text-anchor="middle" fill="#000">24.7</text></g>
<text x="2.3" y="433.6" font-size="23" font-weight="bold">B</text>
<rect x="150.7" y="444.3" width="293.7" height="47.8" fill="none" stroke="#111" stroke-width="1.6"/>
<rect x="150.7" y="522.2" width="272.1" height="47.5" fill="none" stroke="#111" stroke-width="1.6"/>
<rect x="148.8" y="598.3" width="317.9" height="48.3" fill="none" stroke="#111" stroke-width="1.6"/>
<text x="142.7" y="473.6" font-size="17.9" text-anchor="end">Glutaminolysis</text>
<text x="155.2" y="473.6" font-size="18.3">Glutamine</text>
<text x="259.3" y="464.2" font-size="17.7" fill="#c4283e">GLS</text>
<text x="321" y="473.6" font-size="18.3">Glutamic acid</text>
<path d="M247.2 470.6H306.5" stroke="#000" stroke-width="1.6" fill="none" marker-end="url(#ah)"/>
<path d="M250 470.8C275 473 289 484 294.5 499" stroke="#000" stroke-width="1.7" fill="none" marker-end="url(#ah)"/>
<text x="302.8" y="515.2" font-size="17.7" fill="#c4283e">NH₃</text>
<text x="91.5" y="539.5" font-size="17.9" text-anchor="middle">Oxidative</text>
<text x="91.5" y="560.8" font-size="17.9" text-anchor="middle">demination</text>
<text x="154.1" y="551.7" font-size="18.3">Amino acid</text>
<path d="M249.8 547H287" stroke="#000" stroke-width="1.6" fill="none" marker-end="url(#ah)"/>
<text x="296.4" y="551.7" font-size="18.3">Subamino acid</text>
<path d="M417 547H434.5" stroke="#000" stroke-width="1.6" fill="none" marker-end="url(#ah)"/>
<text x="439.1" y="553.2" font-size="17.7" fill="#c4283e">NH₃</text>
<text x="143.2" y="626.5" font-size="17.9" text-anchor="end">Transdeamination</text>
<text x="152.6" y="626.5" font-size="18.3">Glutamic acid</text>
<text x="275.2" y="617.2" font-size="17.7" fill="#c4283e">GLUD</text>
<text x="336.9" y="626.5" font-size="18.3">α-ketoglutarate</text>
<path d="M268.8 622.7H328.5" stroke="#000" stroke-width="1.6" fill="none" marker-end="url(#ah)"/>
<path d="M272 622.9C297 625 311 636 317.5 651" stroke="#000" stroke-width="1.7" fill="none" marker-end="url(#ah)"/>
<text x="326.3" y="666.4" font-size="17.7" fill="#c4283e">NH₃</text>
<text x="465.9" y="433.6" font-size="23" font-weight="bold">C</text>
<rect x="485.8" y="449.7" width="9" height="138.5" fill="url(#cb)"/>
<text x="484.4" y="455.5" font-size="10.4" text-anchor="end">2</text>
<text x="484.4" y="487" font-size="10.4" text-anchor="end">1</text>
<text x="484.4" y="518.8" font-size="10.4" text-anchor="end">0</text>
<text x="484.4" y="551" font-size="10.4" text-anchor="end">-1</text>
<text x="484.4" y="582.5" font-size="10.4" text-anchor="end">-2</text>
<text font-size="17.7" transform="translate(528.9 554.7) rotate(-90)">Glutaminolysis</text>
<text font-size="17.7" transform="translate(519.5 641) rotate(-90)">Oxidative</text>
<text font-size="17.7" transform="translate(540 651.8) rotate(-90)">deamination</text>
<line x1="543.5" y1="469" x2="543.5" y2="517.7" stroke="#111" stroke-width="1.1"/>
<line x1="543.5" y1="531" x2="543.5" y2="643.5" stroke="#111" stroke-width="1.1"/>
<text x="547.8" y="448.1" font-size="16.3">Metabolomics samples from patients</text>
<rect x="548.8" y="462" width="20.2" height="31" fill="#fbe2c0"/>
<rect x="568.7" y="462" width="20.2" height="31" fill="#fbe2c0"/>
<rect x="588.5" y="462" width="20.2" height="31" fill="#fbe2c0"/>
<rect x="608.4" y="462" width="20.2" height="31" fill="#fae9d2"/>
<rect x="628.3" y="462" width="20.2" height="31" fill="#fbe2c0"/>
<rect x="648.1" y="462" width="20.2" height="31" fill="#4a7ebb"/>
<rect x="668" y="462" width="20.2" height="31" fill="#eef4ee"/>
<rect x="687.9" y="462" width="20.2" height="31" fill="#c7ddec"/>
<rect x="707.8" y="462" width="20.2" height="31" fill="#4a7ebb"/>
<rect x="727.6" y="462" width="20.2" height="31" fill="#4a7ebb"/>
<rect x="548.8" y="492.7" width="20.2" height="31" fill="#fae9d2"/>
<rect x="568.7" y="492.7" width="20.2" height="31" fill="#d73027"/>
<rect x="588.5" y="492.7" width="20.2" height="31" fill="#eef4ee"/>
<rect x="608.4" y="492.7" width="20.2" height="31" fill="#fae9d2"/>
<rect x="628.3" y="492.7" width="20.2" height="31" fill="#fdcb8c"/>
<rect x="648.1" y="492.7" width="20.2" height="31" fill="#fdcb8c"/>
<rect x="668" y="492.7" width="20.2" height="31" fill="#eef4ee"/>
<rect x="687.9" y="492.7" width="20.2" height="31" fill="#fdcb8c"/>
<rect x="707.8" y="492.7" width="20.2" height="31" fill="#e8613f"/>
<rect x="727.6" y="492.7" width="20.2" height="31" fill="#fdcb8c"/>
<rect x="548.8" y="523.4" width="20.2" height="31" fill="#5d8dc5"/>
<rect x="568.7" y="523.4" width="20.2" height="31" fill="#5d8dc5"/>
<rect x="588.5" y="523.4" width="20.2" height="31" fill="#fdcb8c"/>
<rect x="608.4" y="523.4" width="20.2" height="31" fill="#4a7ebb"/>
<rect x="628.3" y="523.4" width="20.2" height="31" fill="#7ea6d1"/>
<rect x="648.1" y="523.4" width="20.2" height="31" fill="#fdcb8c"/>
<rect x="668" y="523.4" width="20.2" height="31" fill="#97b9da"/>
<rect x="687.9" y="523.4" width="20.2" height="31" fill="#7ea6d1"/>
<rect x="707.8" y="523.4" width="20.2" height="31" fill="#f0f6f5"/>
<rect x="727.6" y="523.4" width="20.2" height="31" fill="#fae9d2"/>
<rect x="548.8" y="554.1" width="20.2" height="31" fill="#7ea6d1"/>
<rect x="568.7" y="554.1" width="20.2" height="31" fill="#fae9d2"/>
<rect x="588.5" y="554.1" width="20.2" height="31" fill="#8cb0d6"/>
<rect x="608.4" y="554.1" width="20.2" height="31" fill="#4a7ebb"/>
<rect x="628.3" y="554.1" width="20.2" height="31" fill="#7ea6d1"/>
<rect x="648.1" y="554.1" width="20.2" height="31" fill="#fdcb8c"/>
<rect x="668" y="554.1" width="20.2" height="31" fill="#fdc27e"/>
<rect x="687.9" y="554.1" width="20.2" height="31" fill="#4a7ebb"/>
<rect x="707.8" y="554.1" width="20.2" height="31" fill="#ebf3f3"/>
<rect x="727.6" y="554.1" width="20.2" height="31" fill="#4a7ebb"/>
<rect x="548.8" y="584.8" width="20.2" height="31" fill="#f3f3e6"/>
<rect x="568.7" y="584.8" width="20.2" height="31" fill="#f7eedd"/>
<rect x="588.5" y="584.8" width="20.2" height="31" fill="#fbaa6b"/>
<rect x="608.4" y="584.8" width="20.2" height="31" fill="#5d8dc5"/>
<rect x="628.3" y="584.8" width="20.2" height="31" fill="#fdc27e"/>
<rect x="648.1" y="584.8" width="20.2" height="31" fill="#8cb0d6"/>
<rect x="668" y="584.8" width="20.2" height="31" fill="#fdcb8c"/>
<rect x="687.9" y="584.8" width="20.2" height="31" fill="#d4e5ef"/>
<rect x="707.8" y="584.8" width="20.2" height="31" fill="#4a7ebb"/>
<rect x="727.6" y="584.8" width="20.2" height="31" fill="#7ea6d1"/>
<rect x="548.8" y="615.5" width="20.2" height="31" fill="#7ea6d1"/>
<rect x="568.7" y="615.5" width="20.2" height="31" fill="#fdc27e"/>
<rect x="588.5" y="615.5" width="20.2" height="31" fill="#8cb0d6"/>
<rect x="608.4" y="615.5" width="20.2" height="31" fill="#4a7ebb"/>
<rect x="628.3" y="615.5" width="20.2" height="31" fill="#6a97c9"/>
<rect x="648.1" y="615.5" width="20.2" height="31" fill="#fdcb8c"/>
<rect x="668" y="615.5" width="20.2" height="31" fill="#fdc27e"/>
<rect x="687.9" y="615.5" width="20.2" height="31" fill="#7ea6d1"/>
<rect x="707.8" y="615.5" width="20.2" height="31" fill="#ebf3f3"/>
<rect x="727.6" y="615.5" width="20.2" height="31" fill="#4a7ebb"/>
<text x="759.8" y="479.6" font-size="16.2">Glutamine</text>
<text x="759.8" y="510.9" font-size="16.2">L-Glutamic acid</text>
<text x="759.8" y="542.2" font-size="16.2">Glycine</text>
<text x="759.8" y="573.5" font-size="16.2">L-Proline</text>
<text x="759.8" y="604.8" font-size="16.2">L-Serine</text>
<text x="759.8" y="636.1" font-size="16.2">L-Arginine</text>
<line x1="555.6" y1="653.3" x2="645.4" y2="653.3" stroke="#111" stroke-width="1.1"/>
<line x1="654" y1="653.3" x2="746" y2="653.3" stroke="#111" stroke-width="1.1"/>
<text x="550.2" y="669.4" font-size="16.15">NO Anti-PD-1</text>
<text x="670.3" y="669.4" font-size="16.15">Anti-PD-1</text>
<text x="877.8" y="433.6" font-size="23" font-weight="bold">D</text>
<text x="920.2" y="483.1" font-size="16.3">Metabolomics samples from patients</text>
<rect x="896" y="486.6" width="9.7" height="138" fill="url(#cb)"/>
<text x="894.6" y="491.7" font-size="10.4" text-anchor="end">2</text>
<text x="894.6" y="523.9" font-size="10.4" text-anchor="end">1</text>
<text x="894.6" y="555.1" font-size="10.4" text-anchor="end">0</text>
<text x="894.6" y="587.2" font-size="10.4" text-anchor="end">-1</text>
<text x="894.6" y="618.5" font-size="10.4" text-anchor="end">-2</text>
<text font-size="17.7" transform="translate(930.8 634.3) rotate(-90)">Transdeamination</text>
<line x1="938.2" y1="504.3" x2="938.2" y2="617.5" stroke="#111" stroke-width="1.1"/>
<rect x="944.6" y="500.1" width="20.2" height="31" fill="#fae9d2"/>
<rect x="964.5" y="500.1" width="20.2" height="31" fill="#d73027"/>
<rect x="984.3" y="500.1" width="20.2" height="31" fill="#eef4ee"/>
<rect x="1004.1" y="500.1" width="20.2" height="31" fill="#fae9d2"/>
<rect x="1024" y="500.1" width="20.2" height="31" fill="#fdcb8c"/>
<rect x="1043.8" y="500.1" width="20.2" height="31" fill="#fdcb8c"/>
<rect x="1063.7" y="500.1" width="20.2" height="31" fill="#eef4ee"/>
<rect x="1083.5" y="500.1" width="20.2" height="31" fill="#fdcb8c"/>
<rect x="1103.4" y="500.1" width="20.2" height="31" fill="#e8613f"/>
<rect x="1123.2" y="500.1" width="20.2" height="31" fill="#fdcb8c"/>
<rect x="944.6" y="530.8" width="20.2" height="31" fill="#6e9bcb"/>
<rect x="964.5" y="530.8" width="20.2" height="31" fill="#6e9bcb"/>
<rect x="984.3" y="530.8" width="20.2" height="31" fill="#8fb4d8"/>
<rect x="1004.1" y="530.8" width="20.2" height="31" fill="#4a7ebb"/>
<rect x="1024" y="530.8" width="20.2" height="31" fill="#8cb0d5"/>
<rect x="1043.8" y="530.8" width="20.2" height="31" fill="#fbe6c8"/>
<rect x="1063.7" y="530.8" width="20.2" height="31" fill="#fbddb5"/>
<rect x="1083.5" y="530.8" width="20.2" height="31" fill="#d73027"/>
<rect x="1103.4" y="530.8" width="20.2" height="31" fill="#eef6f8"/>
<rect x="1123.2" y="530.8" width="20.2" height="31" fill="#f7efdf"/>
<rect x="944.6" y="561.5" width="20.2" height="31" fill="#eef6f4"/>
<rect x="964.5" y="561.5" width="20.2" height="31" fill="#eaf4f6"/>
<rect x="984.3" y="561.5" width="20.2" height="31" fill="#bdd5e8"/>
<rect x="1004.1" y="561.5" width="20.2" height="31" fill="#fbddb5"/>
<rect x="1024" y="561.5" width="20.2" height="31" fill="#4a7ebb"/>
<rect x="1043.8" y="561.5" width="20.2" height="31" fill="#5585bf"/>
<rect x="1063.7" y="561.5" width="20.2" height="31" fill="#3f74b5"/>
<rect x="1083.5" y="561.5" width="20.2" height="31" fill="#fdc27e"/>
<rect x="1103.4" y="561.5" width="20.2" height="31" fill="#fdd49b"/>
<rect x="1123.2" y="561.5" width="20.2" height="31" fill="#d73027"/>
<rect x="944.6" y="592.3" width="20.2" height="31" fill="#4a7ebb"/>
<rect x="964.5" y="592.3" width="20.2" height="31" fill="#4f82bd"/>
<rect x="984.3" y="592.3" width="20.2" height="31" fill="#5b8bc4"/>
<rect x="1004.1" y="592.3" width="20.2" height="31" fill="#6e9bcb"/>
<rect x="1024" y="592.3" width="20.2" height="31" fill="#4a7ebb"/>
<rect x="1043.8" y="592.3" width="20.2" height="31" fill="#fae8cf"/>
<rect x="1063.7" y="592.3" width="20.2" height="31" fill="#f0f5ee"/>
<rect x="1083.5" y="592.3" width="20.2" height="31" fill="#f89c5e"/>
<rect x="1103.4" y="592.3" width="20.2" height="31" fill="#fdb06c"/>
<rect x="1123.2" y="592.3" width="20.2" height="31" fill="#dd4030"/>
<text x="1154.4" y="516.5" font-size="16.2">L-Glutamic acid</text>
<text x="1154.4" y="549.6" font-size="16.2">α-Ketoglutarate</text>
<text x="1154.4" y="582.8" font-size="16.2">Pyruvate</text>
<text x="1154.4" y="616" font-size="16.2">Phenylpyruvate</text>
<line x1="949.4" y1="635.9" x2="1039.2" y2="635.9" stroke="#111" stroke-width="1.1"/>
<line x1="1048.2" y1="635.9" x2="1139.3" y2="635.9" stroke="#111" stroke-width="1.1"/>
<text x="944.3" y="652.8" font-size="16.15">NO Anti-PD-1</text>
<text x="1064.3" y="652.8" font-size="16.15">Anti-PD-1</text>
<text x="2.2" y="717.2" font-size="23" font-weight="bold">E</text>
<text x="182.3" y="725.2" font-size="18" text-anchor="middle">Hep-53.4</text>
<line x1="92.4" y1="743.5" x2="92.4" y2="860.6" stroke="#000" stroke-width="1.2"/>
<line x1="91.8" y1="860" x2="267" y2="860" stroke="#000" stroke-width="1.2"/>
<line x1="87.8" y1="860" x2="92.4" y2="860" stroke="#000" stroke-width="1.2"/>
<text x="88" y="864.3" font-size="12.1" text-anchor="end">0</text>
<line x1="87.8" y1="843.4" x2="92.4" y2="843.4" stroke="#000" stroke-width="1.2"/>
<text x="88" y="847.7" font-size="12.1" text-anchor="end">500</text>
<line x1="87.8" y1="826.9" x2="92.4" y2="826.9" stroke="#000" stroke-width="1.2"/>
<text x="88" y="831.2" font-size="12.1" text-anchor="end">1000</text>
<line x1="87.8" y1="810.3" x2="92.4" y2="810.3" stroke="#000" stroke-width="1.2"/>
<text x="88" y="814.6" font-size="12.1" text-anchor="end">1500</text>
<line x1="87.8" y1="793.8" x2="92.4" y2="793.8" stroke="#000" stroke-width="1.2"/>
<text x="88" y="798.1" font-size="12.1" text-anchor="end">2000</text>
<line x1="87.8" y1="777.2" x2="92.4" y2="777.2" stroke="#000" stroke-width="1.2"/>
<text x="88" y="781.5" font-size="12.1" text-anchor="end">2500</text>
<line x1="87.8" y1="760.7" x2="92.4" y2="760.7" stroke="#000" stroke-width="1.2"/>
<text x="88" y="765" font-size="12.1" text-anchor="end">3000</text>
<line x1="87.8" y1="744.1" x2="92.4" y2="744.1" stroke="#000" stroke-width="1.2"/>
<text x="88" y="748.4" font-size="12.1" text-anchor="end">3500</text>
<line x1="92.4" y1="860" x2="92.4" y2="864.5" stroke="#000" stroke-width="1.2"/>
<line x1="121.4" y1="860" x2="121.4" y2="864.5" stroke="#000" stroke-width="1.2"/>
<line x1="150.4" y1="860" x2="150.4" y2="864.5" stroke="#000" stroke-width="1.2"/>
<line x1="179.4" y1="860" x2="179.4" y2="864.5" stroke="#000" stroke-width="1.2"/>
<line x1="208.5" y1="860" x2="208.5" y2="864.5" stroke="#000" stroke-width="1.2"/>
<line x1="237.5" y1="860" x2="237.5" y2="864.5" stroke="#000" stroke-width="1.2"/>
<line x1="266.5" y1="860" x2="266.5" y2="864.5" stroke="#000" stroke-width="1.2"/>
<text x="92.4" y="875.4" font-size="12.1" text-anchor="middle">0</text>
<text x="121.4" y="875.4" font-size="12.1" text-anchor="middle">3</text>
<text x="150.4" y="875.4" font-size="12.1" text-anchor="middle">6</text>
<text x="179.4" y="875.4" font-size="12.1" text-anchor="middle">9</text>
<text x="208.5" y="875.4" font-size="12.1" text-anchor="middle">12</text>
<text x="237.5" y="875.4" font-size="12.1" text-anchor="middle">15</text>
<text x="266.5" y="875.4" font-size="12.1" text-anchor="middle">18</text>
<text x="179.6" y="890" font-size="12.1" text-anchor="middle">Time(Days)</text>
<text font-size="12.1" transform="translate(55.5 854.5) rotate(-90)">Tumor volume(mm<tspan font-size="7.5" dy="-4">3</tspan><tspan dy="4">)</tspan></text>
<polyline points="92.4,860 121.4,858.7 150.4,855 179.4,845.1 208.5,839.5 237.5,837.5 266.5,830.9" fill="none" stroke="#c3c42f" stroke-width="1.2"/>
<circle cx="92.4" cy="860" r="3" fill="#c3c42f"/>
<path d="M121.4 858V859.3M118.9 858h5M118.9 859.3h5" fill="none" stroke="#c3c42f" stroke-width="1.1"/>
<circle cx="121.4" cy="858.7" r="3" fill="#c3c42f"/>
<path d="M150.4 853V857M147.9 853h5M147.9 857h5" fill="none" stroke="#c3c42f" stroke-width="1.1"/>
<circle cx="150.4" cy="855" r="3" fill="#c3c42f"/>
<path d="M179.4 839.8V850.4M176.9 839.8h5M176.9 850.4h5" fill="none" stroke="#c3c42f" stroke-width="1.1"/>
<circle cx="179.4" cy="845.1" r="3" fill="#c3c42f"/>
<path d="M208.5 832.8V846.1M206 832.8h5M206 846.1h5" fill="none" stroke="#c3c42f" stroke-width="1.1"/>
<circle cx="208.5" cy="839.5" r="3" fill="#c3c42f"/>
<path d="M237.5 830.9V844.1M235 830.9h5M235 844.1h5" fill="none" stroke="#c3c42f" stroke-width="1.1"/>
<circle cx="237.5" cy="837.5" r="3" fill="#c3c42f"/>
<path d="M266.5 822.6V839.1M264 822.6h5M264 839.1h5" fill="none" stroke="#c3c42f" stroke-width="1.1"/>
<circle cx="266.5" cy="830.9" r="3" fill="#c3c42f"/>
<polyline points="92.4,860 121.4,857.7 150.4,853.4 179.4,843.4 208.5,835.5 237.5,824.2 266.5,793.4" fill="none" stroke="#e5222c" stroke-width="1.2"/>
<circle cx="92.4" cy="860" r="3" fill="#e5222c"/>
<path d="M121.4 857V858.3M118.9 857h5M118.9 858.3h5" fill="none" stroke="#e5222c" stroke-width="1.1"/>
<circle cx="121.4" cy="857.7" r="3" fill="#e5222c"/>
<path d="M150.4 851.4V855.4M147.9 851.4h5M147.9 855.4h5" fill="none" stroke="#e5222c" stroke-width="1.1"/>
<circle cx="150.4" cy="853.4" r="3" fill="#e5222c"/>
<path d="M179.4 839.5V847.4M176.9 839.5h5M176.9 847.4h5" fill="none" stroke="#e5222c" stroke-width="1.1"/>
<circle cx="179.4" cy="843.4" r="3" fill="#e5222c"/>
<path d="M208.5 829.5V841.5M206 829.5h5M206 841.5h5" fill="none" stroke="#e5222c" stroke-width="1.1"/>
<circle cx="208.5" cy="835.5" r="3" fill="#e5222c"/>
<path d="M237.5 816V832.5M235 816h5M235 832.5h5" fill="none" stroke="#e5222c" stroke-width="1.1"/>
<circle cx="237.5" cy="824.2" r="3" fill="#e5222c"/>
<path d="M266.5 780.2V806.7M264 780.2h5M264 806.7h5" fill="none" stroke="#e5222c" stroke-width="1.1"/>
<circle cx="266.5" cy="793.4" r="3" fill="#e5222c"/>
<polyline points="92.4,860 121.4,857.4 150.4,852.7 179.4,840.8 208.5,834.8 237.5,813 266.5,777.9" fill="none" stroke="#5c9de6" stroke-width="1.2"/>
<circle cx="92.4" cy="860" r="3" fill="#5c9de6"/>
<path d="M121.4 856.7V858M118.9 856.7h5M118.9 858h5" fill="none" stroke="#5c9de6" stroke-width="1.1"/>
<circle cx="121.4" cy="857.4" r="3" fill="#5c9de6"/>
<path d="M150.4 850.7V854.7M147.9 850.7h5M147.9 854.7h5" fill="none" stroke="#5c9de6" stroke-width="1.1"/>
<circle cx="150.4" cy="852.7" r="3" fill="#5c9de6"/>
<path d="M179.4 834.2V847.4M176.9 834.2h5M176.9 847.4h5" fill="none" stroke="#5c9de6" stroke-width="1.1"/>
<circle cx="179.4" cy="840.8" r="3" fill="#5c9de6"/>
<path d="M208.5 824.2V845.4M206 824.2h5M206 845.4h5" fill="none" stroke="#5c9de6" stroke-width="1.1"/>
<circle cx="208.5" cy="834.8" r="3" fill="#5c9de6"/>
<path d="M237.5 803.7V822.2M235 803.7h5M235 822.2h5" fill="none" stroke="#5c9de6" stroke-width="1.1"/>
<circle cx="237.5" cy="813" r="3" fill="#5c9de6"/>
<path d="M266.5 766.3V789.5M264 766.3h5M264 789.5h5" fill="none" stroke="#5c9de6" stroke-width="1.1"/>
<circle cx="266.5" cy="777.9" r="3" fill="#5c9de6"/>
<polyline points="92.4,860 121.4,856.7 150.4,851.7 179.4,838.5 208.5,818.9 237.5,791.8 266.5,752.7" fill="none" stroke="#000" stroke-width="1.2"/>
<circle cx="92.4" cy="860" r="3" fill="#000"/>
<path d="M121.4 855.7V857.7M118.9 855.7h5M118.9 857.7h5" fill="none" stroke="#000" stroke-width="1.1"/>
<circle cx="121.4" cy="856.7" r="3" fill="#000"/>
<path d="M150.4 849.7V853.7M147.9 849.7h5M147.9 853.7h5" fill="none" stroke="#000" stroke-width="1.1"/>
<circle cx="150.4" cy="851.7" r="3" fill="#000"/>
<path d="M179.4 831.9V845.1M176.9 831.9h5M176.9 845.1h5" fill="none" stroke="#000" stroke-width="1.1"/>
<circle cx="179.4" cy="838.5" r="3" fill="#000"/>
<path d="M208.5 811.7V826.2M206 811.7h5M206 826.2h5" fill="none" stroke="#000" stroke-width="1.1"/>
<circle cx="208.5" cy="818.9" r="3" fill="#000"/>
<path d="M237.5 779.2V804.4M235 779.2h5M235 804.4h5" fill="none" stroke="#000" stroke-width="1.1"/>
<circle cx="237.5" cy="791.8" r="3" fill="#000"/>
<path d="M266.5 744.1V761.3M264 744.1h5M264 761.3h5" fill="none" stroke="#000" stroke-width="1.1"/>
<circle cx="266.5" cy="752.7" r="3" fill="#000"/>
<line x1="102.8" y1="742" x2="113.2" y2="742" stroke="#000" stroke-width="1.2"/>
<circle cx="108" cy="742" r="2.5" fill="#000"/>
<text x="116.3" y="746" font-size="12.1">Vehicle</text>
<line x1="102.8" y1="759.4" x2="113.2" y2="759.4" stroke="#5c9de6" stroke-width="1.2"/>
<circle cx="108" cy="759.4" r="2.5" fill="#5c9de6"/>
<text x="116.3" y="763.4" font-size="12.1">Anti-PD-1</text>
<line x1="102.8" y1="776.6" x2="113.2" y2="776.6" stroke="#e5222c" stroke-width="1.2"/>
<circle cx="108" cy="776.6" r="2.5" fill="#e5222c"/>
<text x="116.3" y="780.6" font-size="12.1">Anti-PD-1+CB839</text>
<line x1="102.8" y1="793.6" x2="113.2" y2="793.6" stroke="#c3c42f" stroke-width="1.2"/>
<circle cx="108" cy="793.6" r="2.5" fill="#c3c42f"/>
<text x="116.3" y="797.6" font-size="12.1">Anti-PD-1+R162</text>
<line x1="273" y1="750.6" x2="273" y2="777.3" stroke="#222" stroke-width="1.1"/>
<line x1="273" y1="780" x2="273" y2="793.4" stroke="#222" stroke-width="1.1"/>
<line x1="282.9" y1="780" x2="282.9" y2="829.3" stroke="#222" stroke-width="1.1"/>
<text font-size="8.1" fill="#222" transform="translate(275.6 744.3) rotate(90)">P=0.0142</text>
<text font-size="7.9" fill="#222" transform="translate(275.6 781.2) rotate(90)">NS</text>
<text font-size="8.1" fill="#222" transform="translate(285.5 786.6) rotate(90)">P＜0.0001</text>
<text x="325.6" y="717.2" font-size="23" font-weight="bold">F</text>
<text x="478.4" y="727.3" font-size="18" text-anchor="middle">Hep-53.4</text>
<line x1="372" y1="744.6" x2="372" y2="861.1" stroke="#000" stroke-width="1.2"/>
<line x1="371.4" y1="860.5" x2="603.7" y2="860.5" stroke="#000" stroke-width="1.2"/>
<line x1="366.8" y1="860.5" x2="372" y2="860.5" stroke="#000" stroke-width="1.2"/>
<text x="366" y="864.8" font-size="12.1" text-anchor="end">0</text>
<line x1="366.8" y1="831.7" x2="372" y2="831.7" stroke="#000" stroke-width="1.2"/>
<text x="366" y="836" font-size="12.1" text-anchor="end">2</text>
<line x1="366.8" y1="802.9" x2="372" y2="802.9" stroke="#000" stroke-width="1.2"/>
<text x="366" y="807.1" font-size="12.1" text-anchor="end">4</text>
<line x1="366.8" y1="774" x2="372" y2="774" stroke="#000" stroke-width="1.2"/>
<text x="366" y="778.3" font-size="12.1" text-anchor="end">6</text>
<line x1="366.8" y1="745.2" x2="372" y2="745.2" stroke="#000" stroke-width="1.2"/>
<text x="366" y="749.5" font-size="12.1" text-anchor="end">8</text>
<line x1="432" y1="860.5" x2="432" y2="865" stroke="#000" stroke-width="1.2"/>
<line x1="541.2" y1="860.5" x2="541.2" y2="865" stroke="#000" stroke-width="1.2"/>
<text font-size="12.1" transform="translate(354.8 841.7) rotate(-90)">Ammonia(mM)</text>
<line x1="379.3" y1="743.3" x2="389.7" y2="743.3" stroke="#000" stroke-width="1.2"/>
<circle cx="384.5" cy="743.3" r="2.5" fill="#000"/>
<text x="392.9" y="747.3" font-size="12.1">Vehicle</text>
<line x1="379.3" y1="760.3" x2="389.7" y2="760.3" stroke="#5c9de6" stroke-width="1.2"/>
<circle cx="384.5" cy="760.3" r="2.5" fill="#5c9de6"/>
<text x="392.9" y="764.3" font-size="12.1">Anti-PD-1</text>
<line x1="379.3" y1="777.6" x2="389.7" y2="777.6" stroke="#e5222c" stroke-width="1.2"/>
<circle cx="384.5" cy="777.6" r="2.5" fill="#e5222c"/>
<text x="392.9" y="781.6" font-size="12.1">Anti-PD-1+CB839</text>
<line x1="379.3" y1="794.5" x2="389.7" y2="794.5" stroke="#c3c42f" stroke-width="1.2"/>
<circle cx="384.5" cy="794.5" r="2.5" fill="#c3c42f"/>
<text x="392.9" y="798.5" font-size="12.1">Anti-PD-1+R162</text>
<text x="343.4" y="877" font-size="12.1">Time(Days)</text>
<text x="432" y="877" font-size="12.1" text-anchor="middle">9</text>
<text x="541.2" y="877" font-size="12.1" text-anchor="middle">18</text>
<path d="M383.2 860.5V850.4H405.4V860.5" fill="none" stroke="#000" stroke-width="1.0"/>
<path d="M394.3 853.3V847.5M388.6 853.3H400M388.6 847.5H400" fill="none" stroke="#000" stroke-width="1.0"/>
<circle cx="398.3" cy="847.2" r="2.5" fill="#000"/>
<circle cx="389.8" cy="851.9" r="2.5" fill="#000"/>
<circle cx="399.3" cy="851.6" r="2.5" fill="#000"/>
<path d="M408.5 860.5V848.2H430.6V860.5" fill="none" stroke="#5c9de6" stroke-width="1.0"/>
<path d="M419.6 850.1V845.8M413.9 850.1H425.2M413.9 845.8H425.2" fill="none" stroke="#5c9de6" stroke-width="1.0"/>
<circle cx="414.6" cy="845.4" r="2.5" fill="#5c9de6"/>
<circle cx="417.6" cy="848.2" r="2.5" fill="#5c9de6"/>
<circle cx="423.6" cy="849" r="2.5" fill="#5c9de6"/>
<path d="M433.7 860.5V851.1H455.6V860.5" fill="none" stroke="#e5222c" stroke-width="1.0"/>
<path d="M444.6 853V849M438.9 853H450.3M438.9 849H450.3" fill="none" stroke="#e5222c" stroke-width="1.0"/>
<circle cx="440.6" cy="849" r="2.5" fill="#e5222c"/>
<circle cx="444.6" cy="851.9" r="2.5" fill="#e5222c"/>
<circle cx="449.6" cy="851.1" r="2.5" fill="#e5222c"/>
<path d="M458.7 860.5V854.7H480.9V860.5" fill="none" stroke="#c3c42f" stroke-width="1.0"/>
<path d="M469.8 856.2V853M464.1 856.2H475.5M464.1 853H475.5" fill="none" stroke="#c3c42f" stroke-width="1.0"/>
<circle cx="461.8" cy="855.5" r="2.5" fill="#c3c42f"/>
<circle cx="469.8" cy="853" r="2.5" fill="#c3c42f"/>
<circle cx="477.8" cy="854.7" r="2.5" fill="#c3c42f"/>
<path d="M493.6 860.5V825.9H515.2V860.5" fill="none" stroke="#000" stroke-width="1.0"/>
<path d="M504.4 833.8V817.7M498.7 833.8H510.1M498.7 817.7H510.1" fill="none" stroke="#000" stroke-width="1.0"/>
<circle cx="504.4" cy="818" r="2.5" fill="#000"/>
<circle cx="504.4" cy="825.9" r="2.5" fill="#000"/>
<circle cx="504.4" cy="833.8" r="2.5" fill="#000"/>
<path d="M518.6 860.5V789.9H540.5V860.5" fill="none" stroke="#5c9de6" stroke-width="1.0"/>
<path d="M529.5 801.4V778.3M523.8 801.4H535.2M523.8 778.3H535.2" fill="none" stroke="#5c9de6" stroke-width="1.0"/>
<circle cx="529.5" cy="776.2" r="2.5" fill="#5c9de6"/>
<circle cx="525.5" cy="797.1" r="2.5" fill="#5c9de6"/>
<circle cx="533.5" cy="796.8" r="2.5" fill="#5c9de6"/>
<path d="M543.3 860.5V794.2H565.4V860.5" fill="none" stroke="#e5222c" stroke-width="1.0"/>
<path d="M554.3 806.5V781.2M548.6 806.5H560M548.6 781.2H560" fill="none" stroke="#e5222c" stroke-width="1.0"/>
<circle cx="554.3" cy="779.8" r="2.5" fill="#e5222c"/>
<circle cx="550.3" cy="802.9" r="2.5" fill="#e5222c"/>
<circle cx="557.3" cy="799.2" r="2.5" fill="#e5222c"/>
<path d="M568.6 860.5V833.1H590.7V860.5" fill="none" stroke="#c3c42f" stroke-width="1.0"/>
<path d="M579.7 838.2V827.8M574 838.2H585.4M574 827.8H585.4" fill="none" stroke="#c3c42f" stroke-width="1.0"/>
<circle cx="575.7" cy="828.5" r="2.5" fill="#c3c42f"/>
<circle cx="583.7" cy="831.7" r="2.5" fill="#c3c42f"/>
<circle cx="579.7" cy="838.9" r="2.5" fill="#c3c42f"/>
<text x="404.6" y="835" font-size="7.8" text-anchor="middle" fill="#222">NS</text>
<line x1="391.6" y1="838.9" x2="416.3" y2="838.9" stroke="#222" stroke-width="1.15"/>
<text x="432.4" y="835" font-size="7.8" text-anchor="middle" fill="#222">NS</text>
<line x1="420.2" y1="838.9" x2="444.9" y2="838.9" stroke="#222" stroke-width="1.15"/>
<text x="445.7" y="821.4" font-size="7.8" text-anchor="middle" fill="#222">NS</text>
<line x1="420.2" y1="825.3" x2="470.4" y2="825.3" stroke="#222" stroke-width="1.15"/>
<text x="511.3" y="767.4" font-size="8.0" text-anchor="middle" fill="#222">P＜0.0001</text>
<line x1="503.5" y1="770.7" x2="530.3" y2="770.7" stroke="#222" stroke-width="1.15"/>
<text x="544.4" y="767.4" font-size="7.8" text-anchor="middle" fill="#222">NS</text>
<line x1="532.1" y1="770.7" x2="556.9" y2="770.7" stroke="#222" stroke-width="1.15"/>
<text x="560" y="755.1" font-size="8.0" text-anchor="middle" fill="#222">P＜0.0001</text>
<line x1="531.3" y1="758.2" x2="581.1" y2="758.2" stroke="#222" stroke-width="1.15"/>
<text x="635.4" y="717.2" font-size="23" font-weight="bold">G</text>
<text x="790.4" y="729" font-size="18" text-anchor="middle">Hep-53.4</text>
<line x1="685.4" y1="744.6" x2="685.4" y2="861.9" stroke="#000" stroke-width="1.2"/>
<line x1="684.8" y1="861.3" x2="918.9" y2="861.3" stroke="#000" stroke-width="1.2"/>
<line x1="680.2" y1="861.3" x2="685.4" y2="861.3" stroke="#000" stroke-width="1.2"/>
<text x="679.4" y="865.6" font-size="12.1" text-anchor="end">0</text>
<line x1="680.2" y1="832.3" x2="685.4" y2="832.3" stroke="#000" stroke-width="1.2"/>
<text x="679.4" y="836.6" font-size="12.1" text-anchor="end">10</text>
<line x1="680.2" y1="803.2" x2="685.4" y2="803.2" stroke="#000" stroke-width="1.2"/>
<text x="679.4" y="807.5" font-size="12.1" text-anchor="end">20</text>
<line x1="680.2" y1="774.2" x2="685.4" y2="774.2" stroke="#000" stroke-width="1.2"/>
<text x="679.4" y="778.5" font-size="12.1" text-anchor="end">30</text>
<line x1="680.2" y1="745.2" x2="685.4" y2="745.2" stroke="#000" stroke-width="1.2"/>
<text x="679.4" y="749.5" font-size="12.1" text-anchor="end">40</text>
<line x1="746.3" y1="861.3" x2="746.3" y2="865.8" stroke="#000" stroke-width="1.2"/>
<line x1="857" y1="861.3" x2="857" y2="865.8" stroke="#000" stroke-width="1.2"/>
<text font-size="12.1" transform="translate(661 840.2) rotate(-90)">Treg Ratio(%)</text>
<line x1="695.1" y1="737.3" x2="705.5" y2="737.3" stroke="#000" stroke-width="1.2"/>
<circle cx="700.3" cy="737.3" r="2.5" fill="#000"/>
<text x="708.1" y="741.3" font-size="12.1">Vehicle</text>
<line x1="695.1" y1="754.2" x2="705.5" y2="754.2" stroke="#5c9de6" stroke-width="1.2"/>
<circle cx="700.3" cy="754.2" r="2.5" fill="#5c9de6"/>
<text x="708.1" y="758.2" font-size="12.1">Anti-PD-1</text>
<line x1="695.1" y1="771.3" x2="705.5" y2="771.3" stroke="#e5222c" stroke-width="1.2"/>
<circle cx="700.3" cy="771.3" r="2.5" fill="#e5222c"/>
<text x="708.1" y="775.3" font-size="12.1">Anti-PD-1+CB839</text>
<line x1="695.1" y1="787.8" x2="705.5" y2="787.8" stroke="#c3c42f" stroke-width="1.2"/>
<circle cx="700.3" cy="787.8" r="2.5" fill="#c3c42f"/>
<text x="708.1" y="791.8" font-size="12.1">Anti-PD-1+R162</text>
<text x="661.2" y="878" font-size="12.1">Time(Days)</text>
<text x="746.3" y="878" font-size="12.1" text-anchor="middle">9</text>
<text x="857" y="878" font-size="12.1" text-anchor="middle">18</text>
<path d="M696.4 861.3V827.9H719.3V861.3" fill="none" stroke="#000" stroke-width="1.0"/>
<path d="M707.8 832.3V822.7M702.1 832.3H713.5M702.1 822.7H713.5" fill="none" stroke="#000" stroke-width="1.0"/>
<circle cx="710.8" cy="822.1" r="2.5" fill="#000"/>
<circle cx="704.8" cy="831.7" r="2.5" fill="#000"/>
<circle cx="712.8" cy="830.8" r="2.5" fill="#000"/>
<path d="M722.4 861.3V822.7H744.5V861.3" fill="none" stroke="#5c9de6" stroke-width="1.0"/>
<path d="M733.5 827.9V817.8M727.8 827.9H739.2M727.8 817.8H739.2" fill="none" stroke="#5c9de6" stroke-width="1.0"/>
<circle cx="733.5" cy="817.8" r="2.5" fill="#5c9de6"/>
<circle cx="733.5" cy="823.6" r="2.5" fill="#5c9de6"/>
<circle cx="733.5" cy="827.9" r="2.5" fill="#5c9de6"/>
<path d="M747.6 861.3V830H770V861.3" fill="none" stroke="#e5222c" stroke-width="1.0"/>
<path d="M758.8 833.7V825.9M753.1 833.7H764.5M753.1 825.9H764.5" fill="none" stroke="#e5222c" stroke-width="1.0"/>
<circle cx="755.8" cy="826.5" r="2.5" fill="#e5222c"/>
<circle cx="762.8" cy="827.9" r="2.5" fill="#e5222c"/>
<circle cx="758.8" cy="833.7" r="2.5" fill="#e5222c"/>
<path d="M773.2 861.3V839.5H795.5V861.3" fill="none" stroke="#c3c42f" stroke-width="1.0"/>
<path d="M784.4 841V837.2M778.6 841H790.1M778.6 837.2H790.1" fill="none" stroke="#c3c42f" stroke-width="1.0"/>
<circle cx="780.4" cy="837.2" r="2.5" fill="#c3c42f"/>
<circle cx="782.4" cy="840.1" r="2.5" fill="#c3c42f"/>
<circle cx="788.4" cy="839.5" r="2.5" fill="#c3c42f"/>
<path d="M807.5 861.3V810.5H829.9V861.3" fill="none" stroke="#000" stroke-width="1.0"/>
<path d="M818.7 816.3V803.8M813 816.3H824.4M813 803.8H824.4" fill="none" stroke="#000" stroke-width="1.0"/>
<circle cx="818.7" cy="803.8" r="2.5" fill="#000"/>
<circle cx="818.7" cy="810.5" r="2.5" fill="#000"/>
<circle cx="818.7" cy="816.3" r="2.5" fill="#000"/>
<path d="M833.5 861.3V778.9H855.4V861.3" fill="none" stroke="#5c9de6" stroke-width="1.0"/>
<path d="M844.5 798V759.7M838.8 798H850.2M838.8 759.7H850.2" fill="none" stroke="#5c9de6" stroke-width="1.0"/>
<circle cx="844.5" cy="758.3" r="2.5" fill="#5c9de6"/>
<circle cx="844.5" cy="782.1" r="2.5" fill="#5c9de6"/>
<circle cx="844.5" cy="796.6" r="2.5" fill="#5c9de6"/>
<path d="M859 861.3V802.4H880.6V861.3" fill="none" stroke="#e5222c" stroke-width="1.0"/>
<path d="M869.8 815.4V789.6M864.1 815.4H875.5M864.1 789.6H875.5" fill="none" stroke="#e5222c" stroke-width="1.0"/>
<circle cx="869.8" cy="789.6" r="2.5" fill="#e5222c"/>
<circle cx="869.8" cy="798.9" r="2.5" fill="#e5222c"/>
<circle cx="869.8" cy="815.4" r="2.5" fill="#e5222c"/>
<path d="M884.5 861.3V831.4H906.4V861.3" fill="none" stroke="#c3c42f" stroke-width="1.0"/>
<path d="M895.5 836.6V825.6M889.8 836.6H901.2M889.8 825.6H901.2" fill="none" stroke="#c3c42f" stroke-width="1.0"/>
<circle cx="895.5" cy="825.6" r="2.5" fill="#c3c42f"/>
<circle cx="895.5" cy="831.7" r="2.5" fill="#c3c42f"/>
<circle cx="895.5" cy="836.6" r="2.5" fill="#c3c42f"/>
<text x="719.3" y="812.3" font-size="7.8" text-anchor="middle" fill="#222">NS</text>
<line x1="706.3" y1="814.4" x2="731" y2="814.4" stroke="#222" stroke-width="1.15"/>
<text x="747.1" y="812.3" font-size="7.8" text-anchor="middle" fill="#222">NS</text>
<line x1="734.9" y1="814.4" x2="759.4" y2="814.4" stroke="#222" stroke-width="1.15"/>
<text x="760.9" y="801.4" font-size="7.8" text-anchor="middle" fill="#222">NS</text>
<line x1="734.9" y1="803.7" x2="786.2" y2="803.7" stroke="#222" stroke-width="1.15"/>
<text x="825.7" y="751.2" font-size="8.0" text-anchor="middle" fill="#222">P＜0.0001</text>
<line x1="817.9" y1="753.3" x2="844.7" y2="753.3" stroke="#222" stroke-width="1.15"/>
<text x="868.2" y="751.2" font-size="8.0" text-anchor="middle" fill="#222">P＜0.0001</text>
<line x1="846.8" y1="753.3" x2="870.8" y2="753.3" stroke="#222" stroke-width="1.15"/>
<text x="873.9" y="739.5" font-size="8.0" text-anchor="middle" fill="#222">P＜0.0001</text>
<line x1="846" y1="741.5" x2="896.8" y2="741.5" stroke="#222" stroke-width="1.15"/>
<text x="925" y="717.2" font-size="23" font-weight="bold">H</text>
<text x="1098.4" y="729.6" font-size="18" text-anchor="middle">Hep-53.4</text>
<line x1="990.8" y1="744.8" x2="990.8" y2="862.4" stroke="#000" stroke-width="1.2"/>
<line x1="990.2" y1="861.8" x2="1224.3" y2="861.8" stroke="#000" stroke-width="1.2"/>
<line x1="985.6" y1="861.8" x2="990.8" y2="861.8" stroke="#000" stroke-width="1.2"/>
<text x="984.6" y="866.1" font-size="12.1" text-anchor="end">0</text>
<line x1="985.6" y1="838.5" x2="990.8" y2="838.5" stroke="#000" stroke-width="1.2"/>
<text x="984.6" y="842.8" font-size="12.1" text-anchor="end">200</text>
<line x1="985.6" y1="815.2" x2="990.8" y2="815.2" stroke="#000" stroke-width="1.2"/>
<text x="984.6" y="819.5" font-size="12.1" text-anchor="end">400</text>
<line x1="985.6" y1="792" x2="990.8" y2="792" stroke="#000" stroke-width="1.2"/>
<text x="984.6" y="796.3" font-size="12.1" text-anchor="end">600</text>
<line x1="985.6" y1="768.7" x2="990.8" y2="768.7" stroke="#000" stroke-width="1.2"/>
<text x="984.6" y="773" font-size="12.1" text-anchor="end">800</text>
<line x1="985.6" y1="745.4" x2="990.8" y2="745.4" stroke="#000" stroke-width="1.2"/>
<text x="984.6" y="749.7" font-size="12.1" text-anchor="end">1000</text>
<line x1="1051.2" y1="861.8" x2="1051.2" y2="866.3" stroke="#000" stroke-width="1.2"/>
<line x1="1162.4" y1="861.8" x2="1162.4" y2="866.3" stroke="#000" stroke-width="1.2"/>
<text font-size="12.1" transform="translate(952 843.6) rotate(-90)">α-KG(umol/L)</text>
<line x1="997.3" y1="746.4" x2="1007.7" y2="746.4" stroke="#000" stroke-width="1.2"/>
<circle cx="1002.5" cy="746.4" r="2.5" fill="#000"/>
<text x="1010.4" y="750.4" font-size="12.1">Vehicle</text>
<line x1="997.3" y1="764.1" x2="1007.7" y2="764.1" stroke="#5c9de6" stroke-width="1.2"/>
<circle cx="1002.5" cy="764.1" r="2.5" fill="#5c9de6"/>
<text x="1010.4" y="768.1" font-size="12.1">Anti-PD-1</text>
<line x1="997.3" y1="781" x2="1007.7" y2="781" stroke="#e5222c" stroke-width="1.2"/>
<circle cx="1002.5" cy="781" r="2.5" fill="#e5222c"/>
<text x="1010.4" y="785" font-size="12.1">Anti-PD-1+CB839</text>
<line x1="997.3" y1="798" x2="1007.7" y2="798" stroke="#c3c42f" stroke-width="1.2"/>
<circle cx="1002.5" cy="798" r="2.5" fill="#c3c42f"/>
<text x="1010.4" y="802" font-size="12.1">Anti-PD-1+R162</text>
<text x="954.9" y="878" font-size="12.1">Time(Days)</text>
<text x="1051.2" y="878" font-size="12.1" text-anchor="middle">9</text>
<text x="1162.4" y="878" font-size="12.1" text-anchor="middle">18</text>
<path d="M1001.8 861.8V842H1024.7V861.8" fill="none" stroke="#000" stroke-width="1.0"/>
<path d="M1013.2 843.4V839.9M1007.5 843.4H1019M1007.5 839.9H1019" fill="none" stroke="#000" stroke-width="1.0"/>
<circle cx="1004.2" cy="843.8" r="2.5" fill="#000"/>
<circle cx="1014.2" cy="840.3" r="2.5" fill="#000"/>
<circle cx="1022.2" cy="840.8" r="2.5" fill="#000"/>
<path d="M1027.3 861.8V835.6H1049.4V861.8" fill="none" stroke="#5c9de6" stroke-width="1.0"/>
<path d="M1038.3 840.8V829.8M1032.6 840.8H1044M1032.6 829.8H1044" fill="none" stroke="#5c9de6" stroke-width="1.0"/>
<circle cx="1038.3" cy="830.4" r="2.5" fill="#5c9de6"/>
<circle cx="1038.3" cy="833.9" r="2.5" fill="#5c9de6"/>
<circle cx="1038.3" cy="840.8" r="2.5" fill="#5c9de6"/>
<path d="M1052.5 861.8V846.1H1074.9V861.8" fill="none" stroke="#e5222c" stroke-width="1.0"/>
<path d="M1063.7 850.2V840.3M1058 850.2H1069.4M1058 840.3H1069.4" fill="none" stroke="#e5222c" stroke-width="1.0"/>
<circle cx="1063.7" cy="840.3" r="2.5" fill="#e5222c"/>
<circle cx="1059.7" cy="848.4" r="2.5" fill="#e5222c"/>
<circle cx="1067.7" cy="849" r="2.5" fill="#e5222c"/>
<path d="M1078 861.8V856.6H1100.7V861.8" fill="none" stroke="#c3c42f" stroke-width="1.0"/>
<path d="M1089.3 857.7V855M1083.6 857.7H1095M1083.6 855H1095" fill="none" stroke="#c3c42f" stroke-width="1.0"/>
<circle cx="1080.3" cy="857.1" r="2.5" fill="#c3c42f"/>
<circle cx="1089.3" cy="855.4" r="2.5" fill="#c3c42f"/>
<circle cx="1098.3" cy="856.6" r="2.5" fill="#c3c42f"/>
<path d="M1112.4 861.8V820.5H1135V861.8" fill="none" stroke="#000" stroke-width="1.0"/>
<path d="M1123.7 822V818.5M1118 822H1129.4M1118 818.5H1129.4" fill="none" stroke="#000" stroke-width="1.0"/>
<circle cx="1114.7" cy="821.6" r="2.5" fill="#000"/>
<circle cx="1123.7" cy="818.7" r="2.5" fill="#000"/>
<circle cx="1132.7" cy="821.1" r="2.5" fill="#000"/>
<path d="M1138.4 861.8V789H1160.8V861.8" fill="none" stroke="#5c9de6" stroke-width="1.0"/>
<path d="M1149.6 805.3V771.6M1143.9 805.3H1155.3M1143.9 771.6H1155.3" fill="none" stroke="#5c9de6" stroke-width="1.0"/>
<circle cx="1149.6" cy="769.3" r="2.5" fill="#5c9de6"/>
<circle cx="1149.6" cy="796.6" r="2.5" fill="#5c9de6"/>
<circle cx="1149.6" cy="801.3" r="2.5" fill="#5c9de6"/>
<path d="M1163.4 861.8V812.3H1185.3V861.8" fill="none" stroke="#e5222c" stroke-width="1.0"/>
<path d="M1174.3 817.6V807.1M1168.6 817.6H1180M1168.6 807.1H1180" fill="none" stroke="#e5222c" stroke-width="1.0"/>
<circle cx="1174.3" cy="807.7" r="2.5" fill="#e5222c"/>
<circle cx="1174.3" cy="812.9" r="2.5" fill="#e5222c"/>
<circle cx="1174.3" cy="818.1" r="2.5" fill="#e5222c"/>
<path d="M1189.2 861.8V854.8H1211.3V861.8" fill="none" stroke="#c3c42f" stroke-width="1.0"/>
<path d="M1200.2 857.7V851.9M1194.5 857.7H1206M1194.5 851.9H1206" fill="none" stroke="#c3c42f" stroke-width="1.0"/>
<circle cx="1196.2" cy="852.5" r="2.5" fill="#c3c42f"/>
<circle cx="1200.2" cy="857.1" r="2.5" fill="#c3c42f"/>
<circle cx="1204.2" cy="854.2" r="2.5" fill="#c3c42f"/>
<text x="1023.9" y="823.5" font-size="7.8" text-anchor="middle" fill="#222">NS</text>
<line x1="1010.9" y1="825.6" x2="1035.6" y2="825.6" stroke="#222" stroke-width="1.15"/>
<text x="1052.5" y="823.5" font-size="7.8" text-anchor="middle" fill="#222">NS</text>
<line x1="1039.5" y1="825.6" x2="1064.2" y2="825.6" stroke="#222" stroke-width="1.15"/>
<text x="1065.5" y="813.1" font-size="7.8" text-anchor="middle" fill="#222">NS</text>
<line x1="1039.5" y1="815.7" x2="1089.7" y2="815.7" stroke="#222" stroke-width="1.15"/>
<text x="1130.6" y="762.1" font-size="8.0" text-anchor="middle" fill="#222">P＜0.0001</text>
<line x1="1123.3" y1="765.5" x2="1150.1" y2="765.5" stroke="#222" stroke-width="1.15"/>
<text x="1173.6" y="762.1" font-size="8.0" text-anchor="middle" fill="#222">P＜0.0001</text>
<line x1="1152" y1="765.5" x2="1175.6" y2="765.5" stroke="#222" stroke-width="1.15"/>
<text x="1179.5" y="749.3" font-size="8.0" text-anchor="middle" fill="#222">P＜0.0001</text>
<line x1="1151.4" y1="751.9" x2="1202.2" y2="751.9" stroke="#222" stroke-width="1.15"/>
<text x="2.4" y="937.8" font-size="23" font-weight="bold">I</text>
<text x="192.2" y="951.2" font-size="18" text-anchor="middle">Hep-53.4</text>
<line x1="78.9" y1="965.7" x2="78.9" y2="1081.2" stroke="#000" stroke-width="1.2"/>
<line x1="78.3" y1="1080.6" x2="309.7" y2="1080.6" stroke="#000" stroke-width="1.2"/>
<line x1="73.7" y1="1080.6" x2="78.9" y2="1080.6" stroke="#000" stroke-width="1.2"/>
<text x="73" y="1084.9" font-size="12.1" text-anchor="end">0</text>
<line x1="73.7" y1="1042.5" x2="78.9" y2="1042.5" stroke="#000" stroke-width="1.2"/>
<text x="73" y="1046.8" font-size="12.1" text-anchor="end">200</text>
<line x1="73.7" y1="1004.4" x2="78.9" y2="1004.4" stroke="#000" stroke-width="1.2"/>
<text x="73" y="1008.7" font-size="12.1" text-anchor="end">400</text>
<line x1="73.7" y1="966.3" x2="78.9" y2="966.3" stroke="#000" stroke-width="1.2"/>
<text x="73" y="970.6" font-size="12.1" text-anchor="end">600</text>
<line x1="138.7" y1="1080.6" x2="138.7" y2="1085.1" stroke="#000" stroke-width="1.2"/>
<line x1="248.6" y1="1080.6" x2="248.6" y2="1085.1" stroke="#000" stroke-width="1.2"/>
<text font-size="12.1" transform="translate(46.8 1078.8) rotate(-90)">Glutamic acid(umol/L)</text>
<line x1="93.2" y1="967.5" x2="103.6" y2="967.5" stroke="#000" stroke-width="1.2"/>
<circle cx="98.4" cy="967.5" r="2.5" fill="#000"/>
<text x="106.2" y="971.5" font-size="12.1">Vehicle</text>
<line x1="93.2" y1="985" x2="103.6" y2="985" stroke="#5c9de6" stroke-width="1.2"/>
<circle cx="98.4" cy="985" r="2.5" fill="#5c9de6"/>
<text x="106.2" y="989" font-size="12.1">Anti-PD-1</text>
<line x1="168.7" y1="967.5" x2="179.1" y2="967.5" stroke="#e5222c" stroke-width="1.2"/>
<circle cx="173.9" cy="967.5" r="2.5" fill="#e5222c"/>
<text x="181.7" y="971.5" font-size="12.1">Anti-PD-1+CB839</text>
<line x1="168.7" y1="985" x2="179.1" y2="985" stroke="#c3c42f" stroke-width="1.2"/>
<circle cx="173.9" cy="985" r="2.5" fill="#c3c42f"/>
<text x="181.7" y="989" font-size="12.1">Anti-PD-1+R162</text>
<text x="50.2" y="1096.3" font-size="12.1">Time(Days)</text>
<text x="138.7" y="1096.3" font-size="12.1" text-anchor="middle">9</text>
<text x="248.6" y="1096.3" font-size="12.1" text-anchor="middle">18</text>
<path d="M90.3 1080.6V1030.7H112.4V1080.6" fill="none" stroke="#000" stroke-width="1.0"/>
<path d="M101.3 1033.9V1025.4M95.6 1033.9H107M95.6 1025.4H107" fill="none" stroke="#000" stroke-width="1.0"/>
<circle cx="101.3" cy="1025" r="2.5" fill="#000"/>
<circle cx="97.3" cy="1033.4" r="2.5" fill="#000"/>
<circle cx="105.3" cy="1033" r="2.5" fill="#000"/>
<path d="M115.8 1080.6V1050.5H137.7V1080.6" fill="none" stroke="#5c9de6" stroke-width="1.0"/>
<path d="M126.8 1061V1040.2M121 1061H132.4M121 1040.2H132.4" fill="none" stroke="#5c9de6" stroke-width="1.0"/>
<circle cx="126.8" cy="1040.2" r="2.5" fill="#5c9de6"/>
<circle cx="126.8" cy="1051.1" r="2.5" fill="#5c9de6"/>
<circle cx="126.8" cy="1060.6" r="2.5" fill="#5c9de6"/>
<path d="M140.6 1080.6V1068.8H162.4V1080.6" fill="none" stroke="#e5222c" stroke-width="1.0"/>
<path d="M151.5 1071.1V1066.3M145.8 1071.1H157.2M145.8 1066.3H157.2" fill="none" stroke="#e5222c" stroke-width="1.0"/>
<circle cx="147.5" cy="1066.3" r="2.5" fill="#e5222c"/>
<circle cx="147.5" cy="1070.1" r="2.5" fill="#e5222c"/>
<circle cx="155.5" cy="1069.2" r="2.5" fill="#e5222c"/>
<path d="M165.8 1080.6V1039.3H187.7V1080.6" fill="none" stroke="#c3c42f" stroke-width="1.0"/>
<path d="M176.8 1051.1V1026.9M171.1 1051.1H182.4M171.1 1026.9H182.4" fill="none" stroke="#c3c42f" stroke-width="1.0"/>
<circle cx="176.8" cy="1027.3" r="2.5" fill="#c3c42f"/>
<circle cx="176.8" cy="1038.7" r="2.5" fill="#c3c42f"/>
<circle cx="176.8" cy="1051.1" r="2.5" fill="#c3c42f"/>
<path d="M199.9 1080.6V1040H221.8V1080.6" fill="none" stroke="#000" stroke-width="1.0"/>
<path d="M210.9 1063.5V1015.4M205.2 1063.5H216.6M205.2 1015.4H216.6" fill="none" stroke="#000" stroke-width="1.0"/>
<circle cx="210.9" cy="1014.9" r="2.5" fill="#000"/>
<circle cx="210.9" cy="1042.5" r="2.5" fill="#000"/>
<circle cx="210.9" cy="1062.5" r="2.5" fill="#000"/>
<path d="M224.6 1080.6V1036.2H246.7V1080.6" fill="none" stroke="#5c9de6" stroke-width="1.0"/>
<path d="M235.6 1043.5V1028.2M229.9 1043.5H241.3M229.9 1028.2H241.3" fill="none" stroke="#5c9de6" stroke-width="1.0"/>
<circle cx="235.6" cy="1028.2" r="2.5" fill="#5c9de6"/>
<circle cx="235.6" cy="1036.8" r="2.5" fill="#5c9de6"/>
<circle cx="235.6" cy="1043.5" r="2.5" fill="#5c9de6"/>
<path d="M249.9 1080.6V1056.2H271.7V1080.6" fill="none" stroke="#e5222c" stroke-width="1.0"/>
<path d="M260.8 1068.2V1043.5M255.1 1068.2H266.5M255.1 1043.5H266.5" fill="none" stroke="#e5222c" stroke-width="1.0"/>
<circle cx="260.8" cy="1043.5" r="2.5" fill="#e5222c"/>
<circle cx="260.8" cy="1055.8" r="2.5" fill="#e5222c"/>
<circle cx="260.8" cy="1068.2" r="2.5" fill="#e5222c"/>
<path d="M274.9 1080.6V1033.4H297V1080.6" fill="none" stroke="#c3c42f" stroke-width="1.0"/>
<path d="M285.9 1039.6V1025.9M280.2 1039.6H291.6M280.2 1025.9H291.6" fill="none" stroke="#c3c42f" stroke-width="1.0"/>
<circle cx="285.9" cy="1025.9" r="2.5" fill="#c3c42f"/>
<circle cx="285.9" cy="1033.4" r="2.5" fill="#c3c42f"/>
<circle cx="285.9" cy="1039.6" r="2.5" fill="#c3c42f"/>
<text x="109.8" y="1015.5" font-size="8.0" text-anchor="middle" fill="#222">P=0.0134</text>
<line x1="101.5" y1="1019.4" x2="126.2" y2="1019.4" stroke="#222" stroke-width="1.15"/>
<text x="150.4" y="1015.5" font-size="8.0" text-anchor="middle" fill="#222">P＜0.0001</text>
<line x1="130.1" y1="1019.4" x2="155.4" y2="1019.4" stroke="#222" stroke-width="1.15"/>
<text x="156.2" y="1002" font-size="7.8" text-anchor="middle" fill="#222">NS</text>
<line x1="130.1" y1="1005.9" x2="180.4" y2="1005.9" stroke="#222" stroke-width="1.15"/>
<text x="223.1" y="1001.2" font-size="7.8" text-anchor="middle" fill="#222">NS</text>
<line x1="210.3" y1="1005.1" x2="235" y2="1005.1" stroke="#222" stroke-width="1.15"/>
<text x="257.7" y="1001.2" font-size="8.0" text-anchor="middle" fill="#222">P=0.0365</text>
<line x1="238.7" y1="1005.1" x2="262.9" y2="1005.1" stroke="#222" stroke-width="1.15"/>
<text x="264.2" y="1015" font-size="7.8" text-anchor="middle" fill="#222">NS</text>
<line x1="238.7" y1="1019.4" x2="288.9" y2="1019.4" stroke="#222" stroke-width="1.15"/>
<text x="729.1" y="937.8" font-size="23" font-weight="bold">L</text>
<text x="815.5" y="965.7" font-size="18" text-anchor="middle">Hep-53.4</text>
<line x1="763.9" y1="981.4" x2="763.9" y2="1098.5" stroke="#000" stroke-width="1.2"/>
<line x1="763.3" y1="1097.9" x2="879.8" y2="1097.9" stroke="#000" stroke-width="1.2"/>
<line x1="759.3" y1="1097.9" x2="763.9" y2="1097.9" stroke="#000" stroke-width="1.2"/>
<text x="759.5" y="1102.2" font-size="12.1" text-anchor="end">0</text>
<line x1="759.3" y1="1059.3" x2="763.9" y2="1059.3" stroke="#000" stroke-width="1.2"/>
<text x="759.5" y="1063.6" font-size="12.1" text-anchor="end">1</text>
<line x1="759.3" y1="1020.6" x2="763.9" y2="1020.6" stroke="#000" stroke-width="1.2"/>
<text x="759.5" y="1024.9" font-size="12.1" text-anchor="end">2</text>
<line x1="759.3" y1="982" x2="763.9" y2="982" stroke="#000" stroke-width="1.2"/>
<text x="759.5" y="986.3" font-size="12.1" text-anchor="end">3</text>
<line x1="777.8" y1="1097.9" x2="777.8" y2="1102.9" stroke="#000" stroke-width="1.2"/>
<line x1="806.9" y1="1097.9" x2="806.9" y2="1102.9" stroke="#000" stroke-width="1.2"/>
<line x1="836" y1="1097.9" x2="836" y2="1102.9" stroke="#000" stroke-width="1.2"/>
<line x1="865" y1="1097.9" x2="865" y2="1102.9" stroke="#000" stroke-width="1.2"/>
<text font-size="12.1" transform="translate(749 1079.7) rotate(-90)">Tumor wight (g)</text>
<path d="M768.8 1097.9V1038.2H787.5V1097.9" fill="none" stroke="#000" stroke-width="0.95"/>
<path d="M778.1 1054.6V1021.4M773.6 1054.6H782.6M773.6 1021.4H782.6" fill="none" stroke="#000" stroke-width="0.95"/>
<circle cx="778.1" cy="1018.7" r="1.6" fill="#000"/>
<circle cx="778.1" cy="1025.3" r="1.6" fill="#000"/>
<circle cx="775.2" cy="1035.3" r="1.6" fill="#000"/>
<circle cx="781.4" cy="1034.2" r="1.6" fill="#000"/>
<circle cx="778.1" cy="1049.6" r="1.6" fill="#000"/>
<circle cx="778.1" cy="1064.3" r="1.6" fill="#000"/>
<path d="M797.8 1097.9V1060H816.3V1097.9" fill="none" stroke="#5c9de6" stroke-width="0.95"/>
<path d="M807 1072.4V1048.4M802.5 1072.4H811.5M802.5 1048.4H811.5" fill="none" stroke="#5c9de6" stroke-width="0.95"/>
<circle cx="807" cy="1044.2" r="1.6" fill="#5c9de6"/>
<circle cx="807" cy="1051.5" r="1.6" fill="#5c9de6"/>
<circle cx="803.9" cy="1060.8" r="1.6" fill="#5c9de6"/>
<circle cx="810.2" cy="1060.8" r="1.6" fill="#5c9de6"/>
<circle cx="807" cy="1065.3" r="1.6" fill="#5c9de6"/>
<circle cx="807" cy="1078.6" r="1.6" fill="#5c9de6"/>
<path d="M826.8 1097.9V1066.2H845.3V1097.9" fill="none" stroke="#e5222c" stroke-width="0.95"/>
<path d="M836 1078.6V1052.7M831.5 1078.6H840.5M831.5 1052.7H840.5" fill="none" stroke="#e5222c" stroke-width="0.95"/>
<circle cx="836" cy="1051.2" r="1.6" fill="#e5222c"/>
<circle cx="829.9" cy="1059.7" r="1.6" fill="#e5222c"/>
<circle cx="836" cy="1059.3" r="1.6" fill="#e5222c"/>
<circle cx="842" cy="1060.8" r="1.6" fill="#e5222c"/>
<circle cx="836" cy="1076.7" r="1.6" fill="#e5222c"/>
<circle cx="836" cy="1085.9" r="1.6" fill="#e5222c"/>
<path d="M855.7 1097.9V1079.5H874.2V1097.9" fill="none" stroke="#c3c42f" stroke-width="0.95"/>
<path d="M865 1088.2V1069.7M860.5 1088.2H869.5M860.5 1069.7H869.5" fill="none" stroke="#c3c42f" stroke-width="0.95"/>
<circle cx="865" cy="1067.4" r="1.6" fill="#c3c42f"/>
<circle cx="865" cy="1072.4" r="1.6" fill="#c3c42f"/>
<circle cx="865" cy="1076.7" r="1.6" fill="#c3c42f"/>
<circle cx="861.9" cy="1081.7" r="1.6" fill="#c3c42f"/>
<circle cx="868" cy="1084.4" r="1.6" fill="#c3c42f"/>
<circle cx="865" cy="1094" r="1.6" fill="#c3c42f"/>
<text x="752" y="1116.8" font-size="12.1" text-anchor="end">R162</text>
<text x="752" y="1131.8" font-size="12.1" text-anchor="end">PD-1</text>
<line x1="774.8" y1="1113.5" x2="780.8" y2="1113.5" stroke="#000" stroke-width="1"/>
<line x1="803.9" y1="1113.5" x2="809.9" y2="1113.5" stroke="#000" stroke-width="1"/>
<line x1="806.9" y1="1110.5" x2="806.9" y2="1116.5" stroke="#000" stroke-width="1"/>
<line x1="833" y1="1113.5" x2="839" y2="1113.5" stroke="#000" stroke-width="1"/>
<line x1="862" y1="1113.5" x2="868" y2="1113.5" stroke="#000" stroke-width="1"/>
<line x1="865" y1="1110.5" x2="865" y2="1116.5" stroke="#000" stroke-width="1"/>
<line x1="774.8" y1="1128.7" x2="780.8" y2="1128.7" stroke="#000" stroke-width="1"/>
<line x1="803.9" y1="1128.7" x2="809.9" y2="1128.7" stroke="#000" stroke-width="1"/>
<line x1="833" y1="1128.7" x2="839" y2="1128.7" stroke="#000" stroke-width="1"/>
<line x1="836" y1="1125.7" x2="836" y2="1131.7" stroke="#000" stroke-width="1"/>
<line x1="862" y1="1128.7" x2="868" y2="1128.7" stroke="#000" stroke-width="1"/>
<line x1="865" y1="1125.7" x2="865" y2="1131.7" stroke="#000" stroke-width="1"/>
<text x="804.2" y="990.4" font-size="8.0" text-anchor="middle" fill="#222">P=0.0092</text>
<line x1="775.5" y1="994.6" x2="833.5" y2="994.6" stroke="#222" stroke-width="1.15"/>
<text x="791" y="1008.6" font-size="8.0" text-anchor="middle" fill="#222">P=0.0222</text>
<line x1="775.5" y1="1012.6" x2="808" y2="1012.6" stroke="#222" stroke-width="1.15"/>
<text x="836.7" y="1008.6" font-size="8.0" text-anchor="middle" fill="#222">P=0.0110</text>
<line x1="808.4" y1="1012.6" x2="865.2" y2="1012.6" stroke="#222" stroke-width="1.15"/>
<text x="887.6" y="937.8" font-size="23" font-weight="bold">M</text>
<text x="994" y="965.7" font-size="18" text-anchor="middle">Hep-53.4</text>
<line x1="939.7" y1="981.4" x2="939.7" y2="1098.7" stroke="#000" stroke-width="1.2"/>
<line x1="939.1" y1="1098.1" x2="1056.7" y2="1098.1" stroke="#000" stroke-width="1.2"/>
<line x1="935.1" y1="1098.1" x2="939.7" y2="1098.1" stroke="#000" stroke-width="1.2"/>
<text x="934.5" y="1102.4" font-size="12.1" text-anchor="end">0</text>
<line x1="935.1" y1="1074.9" x2="939.7" y2="1074.9" stroke="#000" stroke-width="1.2"/>
<text x="934.5" y="1079.2" font-size="12.1" text-anchor="end">1</text>
<line x1="935.1" y1="1051.7" x2="939.7" y2="1051.7" stroke="#000" stroke-width="1.2"/>
<text x="934.5" y="1056" font-size="12.1" text-anchor="end">2</text>
<line x1="935.1" y1="1028.5" x2="939.7" y2="1028.5" stroke="#000" stroke-width="1.2"/>
<text x="934.5" y="1032.8" font-size="12.1" text-anchor="end">3</text>
<line x1="935.1" y1="1005.3" x2="939.7" y2="1005.3" stroke="#000" stroke-width="1.2"/>
<text x="934.5" y="1009.6" font-size="12.1" text-anchor="end">4</text>
<line x1="935.1" y1="982.1" x2="939.7" y2="982.1" stroke="#000" stroke-width="1.2"/>
<text x="934.5" y="986.4" font-size="12.1" text-anchor="end">5</text>
<line x1="954.4" y1="1098.1" x2="954.4" y2="1103.1" stroke="#000" stroke-width="1.2"/>
<line x1="983.5" y1="1098.1" x2="983.5" y2="1103.1" stroke="#000" stroke-width="1.2"/>
<line x1="1012.4" y1="1098.1" x2="1012.4" y2="1103.1" stroke="#000" stroke-width="1.2"/>
<line x1="1041.4" y1="1098.1" x2="1041.4" y2="1103.1" stroke="#000" stroke-width="1.2"/>
<text font-size="12.1" transform="translate(924 1079) rotate(-90)">Ammonia (mM)</text>
<path d="M945.6 1098.1V1016.2H963.4V1098.1" fill="none" stroke="#000" stroke-width="0.95"/>
<path d="M954.5 1024.1V1007.2M950 1024.1H959M950 1007.2H959" fill="none" stroke="#000" stroke-width="0.95"/>
<circle cx="954.5" cy="1005.8" r="1.6" fill="#000"/>
<circle cx="948.3" cy="1014.8" r="1.6" fill="#000"/>
<circle cx="954.5" cy="1014.8" r="1.6" fill="#000"/>
<circle cx="960.5" cy="1014.8" r="1.6" fill="#000"/>
<circle cx="954.5" cy="1030.8" r="1.6" fill="#000"/>
<path d="M974.7 1098.1V1030.1H992.3V1098.1" fill="none" stroke="#5c9de6" stroke-width="0.95"/>
<path d="M983.5 1037.3V1021.3M979 1037.3H988M979 1021.3H988" fill="none" stroke="#5c9de6" stroke-width="0.95"/>
<circle cx="983.5" cy="1017.1" r="1.6" fill="#5c9de6"/>
<circle cx="983.5" cy="1023.9" r="1.6" fill="#5c9de6"/>
<circle cx="983.5" cy="1027.8" r="1.6" fill="#5c9de6"/>
<circle cx="980.5" cy="1034.8" r="1.6" fill="#5c9de6"/>
<circle cx="986.6" cy="1036.4" r="1.6" fill="#5c9de6"/>
<circle cx="980.5" cy="1038" r="1.6" fill="#5c9de6"/>
<path d="M1003.4 1098.1V1015.3H1021.4V1098.1" fill="none" stroke="#e5222c" stroke-width="0.95"/>
<path d="M1012.4 1024.1V1007.6M1007.9 1024.1H1016.9M1007.9 1007.6H1016.9" fill="none" stroke="#e5222c" stroke-width="0.95"/>
<circle cx="1006.4" cy="1007.6" r="1.6" fill="#e5222c"/>
<circle cx="1018.4" cy="1006" r="1.6" fill="#e5222c"/>
<circle cx="1012.4" cy="1008.1" r="1.6" fill="#e5222c"/>
<circle cx="1012.4" cy="1017.1" r="1.6" fill="#e5222c"/>
<circle cx="1012.4" cy="1023.9" r="1.6" fill="#e5222c"/>
<circle cx="1012.4" cy="1028.5" r="1.6" fill="#e5222c"/>
<path d="M1032.4 1098.1V1030.8H1050.2V1098.1" fill="none" stroke="#c3c42f" stroke-width="0.95"/>
<path d="M1041.3 1042.4V1019.2M1036.8 1042.4H1045.8M1036.8 1019.2H1045.8" fill="none" stroke="#c3c42f" stroke-width="0.95"/>
<circle cx="1038.3" cy="1018.8" r="1.6" fill="#c3c42f"/>
<circle cx="1044.3" cy="1016" r="1.6" fill="#c3c42f"/>
<circle cx="1041.3" cy="1029" r="1.6" fill="#c3c42f"/>
<circle cx="1038.3" cy="1036.4" r="1.6" fill="#c3c42f"/>
<circle cx="1044.3" cy="1036.9" r="1.6" fill="#c3c42f"/>
<circle cx="1041.3" cy="1046.4" r="1.6" fill="#c3c42f"/>
<text x="930" y="1112.8" font-size="12.1" text-anchor="end">R162</text>
<text x="930" y="1127.7" font-size="12.1" text-anchor="end">PD-1</text>
<line x1="951.4" y1="1109.3" x2="957.4" y2="1109.3" stroke="#000" stroke-width="1"/>
<line x1="980.5" y1="1109.3" x2="986.5" y2="1109.3" stroke="#000" stroke-width="1"/>
<line x1="983.5" y1="1106.3" x2="983.5" y2="1112.3" stroke="#000" stroke-width="1"/>
<line x1="1009.4" y1="1109.3" x2="1015.4" y2="1109.3" stroke="#000" stroke-width="1"/>
<line x1="1038.4" y1="1109.3" x2="1044.4" y2="1109.3" stroke="#000" stroke-width="1"/>
<line x1="1041.4" y1="1106.3" x2="1041.4" y2="1112.3" stroke="#000" stroke-width="1"/>
<line x1="951.4" y1="1124.6" x2="957.4" y2="1124.6" stroke="#000" stroke-width="1"/>
<line x1="980.5" y1="1124.6" x2="986.5" y2="1124.6" stroke="#000" stroke-width="1"/>
<line x1="1009.4" y1="1124.6" x2="1015.4" y2="1124.6" stroke="#000" stroke-width="1"/>
<line x1="1012.4" y1="1121.6" x2="1012.4" y2="1127.6" stroke="#000" stroke-width="1"/>
<line x1="1038.4" y1="1124.6" x2="1044.4" y2="1124.6" stroke="#000" stroke-width="1"/>
<line x1="1041.4" y1="1121.6" x2="1041.4" y2="1127.6" stroke="#000" stroke-width="1"/>
<text x="982.7" y="984.7" font-size="7.8" text-anchor="middle" fill="#222">NS</text>
<line x1="955" y1="988.9" x2="1012" y2="988.9" stroke="#222" stroke-width="1.15"/>
<text x="967.9" y="999.1" font-size="8.0" text-anchor="middle" fill="#222">P=0.0145</text>
<line x1="953.9" y1="1002.1" x2="982.9" y2="1002.1" stroke="#222" stroke-width="1.15"/>
<text x="1014.5" y="999.1" font-size="7.8" text-anchor="middle" fill="#222">NS</text>
<line x1="984.6" y1="1002.1" x2="1042.1" y2="1002.1" stroke="#222" stroke-width="1.15"/>
<text x="1082.2" y="937.8" font-size="23" font-weight="bold">N</text>
<text x="1174.1" y="965" font-size="18" text-anchor="middle">Hep-53.4</text>
<line x1="1118.6" y1="978.8" x2="1118.6" y2="1097" stroke="#000" stroke-width="1.2"/>
<line x1="1118" y1="1096.4" x2="1235.3" y2="1096.4" stroke="#000" stroke-width="1.2"/>
<line x1="1114" y1="1096.4" x2="1118.6" y2="1096.4" stroke="#000" stroke-width="1.2"/>
<text x="1113.7" y="1100.7" font-size="12.1" text-anchor="end">0</text>
<line x1="1114" y1="1057.4" x2="1118.6" y2="1057.4" stroke="#000" stroke-width="1.2"/>
<text x="1113.7" y="1061.7" font-size="12.1" text-anchor="end">10</text>
<line x1="1114" y1="1018.4" x2="1118.6" y2="1018.4" stroke="#000" stroke-width="1.2"/>
<text x="1113.7" y="1022.7" font-size="12.1" text-anchor="end">20</text>
<line x1="1114" y1="979.4" x2="1118.6" y2="979.4" stroke="#000" stroke-width="1.2"/>
<text x="1113.7" y="983.7" font-size="12.1" text-anchor="end">30</text>
<line x1="1133" y1="1096.4" x2="1133" y2="1101.4" stroke="#000" stroke-width="1.2"/>
<line x1="1162" y1="1096.4" x2="1162" y2="1101.4" stroke="#000" stroke-width="1.2"/>
<line x1="1191.1" y1="1096.4" x2="1191.1" y2="1101.4" stroke="#000" stroke-width="1.2"/>
<line x1="1220.2" y1="1096.4" x2="1220.2" y2="1101.4" stroke="#000" stroke-width="1.2"/>
<text font-size="12.1" transform="translate(1096.2 1070.7) rotate(-90)">Treg Ratio(%)</text>
<path d="M1123.9 1096.4V1027.9H1141.9V1096.4" fill="none" stroke="#000" stroke-width="0.95"/>
<path d="M1132.9 1040.2V1014.9M1128.4 1040.2H1137.4M1128.4 1014.9H1137.4" fill="none" stroke="#000" stroke-width="0.95"/>
<circle cx="1132.9" cy="1010.2" r="1.6" fill="#000"/>
<circle cx="1132.9" cy="1014.1" r="1.6" fill="#000"/>
<circle cx="1132.9" cy="1028.9" r="1.6" fill="#000"/>
<circle cx="1129.7" cy="1036" r="1.6" fill="#000"/>
<circle cx="1136" cy="1036.7" r="1.6" fill="#000"/>
<circle cx="1132.9" cy="1040.2" r="1.6" fill="#000"/>
<path d="M1152.9 1096.4V1052.3H1171V1096.4" fill="none" stroke="#5c9de6" stroke-width="0.95"/>
<path d="M1162 1067.5V1035.6M1157.5 1067.5H1166.5M1157.5 1035.6H1166.5" fill="none" stroke="#5c9de6" stroke-width="0.95"/>
<circle cx="1162" cy="1024.2" r="1.6" fill="#5c9de6"/>
<circle cx="1162" cy="1044.5" r="1.6" fill="#5c9de6"/>
<circle cx="1158.9" cy="1055.8" r="1.6" fill="#5c9de6"/>
<circle cx="1165" cy="1055.1" r="1.6" fill="#5c9de6"/>
<circle cx="1162" cy="1061.5" r="1.6" fill="#5c9de6"/>
<circle cx="1162" cy="1069.9" r="1.6" fill="#5c9de6"/>
<path d="M1181.9 1096.4V1031.3H1200.3V1096.4" fill="none" stroke="#e5222c" stroke-width="0.95"/>
<path d="M1191.1 1041.4V1020.4M1186.6 1041.4H1195.6M1186.6 1020.4H1195.6" fill="none" stroke="#e5222c" stroke-width="0.95"/>
<circle cx="1191.1" cy="1014.5" r="1.6" fill="#e5222c"/>
<circle cx="1188" cy="1027.4" r="1.6" fill="#e5222c"/>
<circle cx="1194.1" cy="1029.9" r="1.6" fill="#e5222c"/>
<circle cx="1188" cy="1031.3" r="1.6" fill="#e5222c"/>
<circle cx="1188" cy="1043" r="1.6" fill="#e5222c"/>
<circle cx="1194.1" cy="1041" r="1.6" fill="#e5222c"/>
<path d="M1211.3 1096.4V1054.3H1229.3V1096.4" fill="none" stroke="#c3c42f" stroke-width="0.95"/>
<path d="M1220.3 1063.6V1044.1M1215.8 1063.6H1224.8M1215.8 1044.1H1224.8" fill="none" stroke="#c3c42f" stroke-width="0.95"/>
<circle cx="1220.3" cy="1041.4" r="1.6" fill="#c3c42f"/>
<circle cx="1220.3" cy="1047.7" r="1.6" fill="#c3c42f"/>
<circle cx="1223.4" cy="1051.2" r="1.6" fill="#c3c42f"/>
<circle cx="1217.3" cy="1053.9" r="1.6" fill="#c3c42f"/>
<circle cx="1220.3" cy="1058.4" r="1.6" fill="#c3c42f"/>
<circle cx="1220.3" cy="1070.7" r="1.6" fill="#c3c42f"/>
<text x="1106.4" y="1111.3" font-size="12.1" text-anchor="end">R162</text>
<text x="1106.4" y="1127" font-size="12.1" text-anchor="end">PD-1</text>
<line x1="1130" y1="1109.3" x2="1136" y2="1109.3" stroke="#000" stroke-width="1"/>
<line x1="1159" y1="1109.3" x2="1165" y2="1109.3" stroke="#000" stroke-width="1"/>
<line x1="1162" y1="1106.3" x2="1162" y2="1112.3" stroke="#000" stroke-width="1"/>
<line x1="1188.1" y1="1109.3" x2="1194.1" y2="1109.3" stroke="#000" stroke-width="1"/>
<line x1="1217.2" y1="1109.3" x2="1223.2" y2="1109.3" stroke="#000" stroke-width="1"/>
<line x1="1220.2" y1="1106.3" x2="1220.2" y2="1112.3" stroke="#000" stroke-width="1"/>
<line x1="1130" y1="1124" x2="1136" y2="1124" stroke="#000" stroke-width="1"/>
<line x1="1159" y1="1124" x2="1165" y2="1124" stroke="#000" stroke-width="1"/>
<line x1="1188.1" y1="1124" x2="1194.1" y2="1124" stroke="#000" stroke-width="1"/>
<line x1="1191.1" y1="1121" x2="1191.1" y2="1127" stroke="#000" stroke-width="1"/>
<line x1="1217.2" y1="1124" x2="1223.2" y2="1124" stroke="#000" stroke-width="1"/>
<line x1="1220.2" y1="1121" x2="1220.2" y2="1127" stroke="#000" stroke-width="1"/>
<text x="1160.2" y="987.1" font-size="7.8" text-anchor="middle" fill="#222">NS</text>
<line x1="1133.3" y1="990.2" x2="1189.7" y2="990.2" stroke="#222" stroke-width="1.15"/>
<text x="1147" y="1002.5" font-size="8.0" text-anchor="middle" fill="#222">P=0.0115</text>
<line x1="1132.1" y1="1005.9" x2="1161.5" y2="1005.9" stroke="#222" stroke-width="1.15"/>
<text x="1190.5" y="1002.5" font-size="7.8" text-anchor="middle" fill="#222">NS</text>
<line x1="1164" y1="1005.9" x2="1220.7" y2="1005.9" stroke="#222" stroke-width="1.15"/>
<text x="298.2" y="937.8" font-size="23" font-weight="bold">J</text>
<text x="362.5" y="938.3" font-size="12.1" text-anchor="end">R162</text>
<text x="360" y="953.2" font-size="12.1" text-anchor="end">PD-1</text>
<line x1="381.9" y1="934.9" x2="387.1" y2="934.9" stroke="#000" stroke-width="1"/>
<line x1="412.3" y1="934.9" x2="417.5" y2="934.9" stroke="#000" stroke-width="1"/>
<line x1="414.9" y1="932.3" x2="414.9" y2="937.5" stroke="#000" stroke-width="1"/>
<line x1="444.1" y1="934.9" x2="449.3" y2="934.9" stroke="#000" stroke-width="1"/>
<line x1="475.3" y1="934.9" x2="480.5" y2="934.9" stroke="#000" stroke-width="1"/>
<line x1="477.9" y1="932.3" x2="477.9" y2="937.5" stroke="#000" stroke-width="1"/>
<line x1="381.9" y1="949.8" x2="387.1" y2="949.8" stroke="#000" stroke-width="1"/>
<line x1="412.3" y1="949.8" x2="417.5" y2="949.8" stroke="#000" stroke-width="1"/>
<line x1="444.1" y1="949.8" x2="449.3" y2="949.8" stroke="#000" stroke-width="1"/>
<line x1="446.7" y1="947.2" x2="446.7" y2="952.4" stroke="#000" stroke-width="1"/>
<line x1="475.3" y1="949.8" x2="480.5" y2="949.8" stroke="#000" stroke-width="1"/>
<line x1="477.9" y1="947.2" x2="477.9" y2="952.4" stroke="#000" stroke-width="1"/>
<text x="359.8" y="993.6" font-size="12.1" text-anchor="end">1 Week</text>
<text x="362" y="1051.9" font-size="12.1" text-anchor="end">2 Weeks</text>
<text x="362" y="1106.6" font-size="12.1" text-anchor="end">3 Weeks</text>
<g clip-path="url(#cj)"><g filter="url(#b05)"><rect x="366" y="957" width="132" height="178" fill="#626262"/><rect x="366" y="959.1" width="132" height="9.6" fill="url(#bars)"/><rect x="366" y="958.2" width="132" height="1.4" fill="#2e2e2e"/><rect x="381.2" y="959.6" width="4.4" height="7" fill="#cfcfcf"/><ellipse cx="383.4" cy="982.1" rx="9.4" ry="15" fill="#454545" opacity=".75"/><path d="M379.4 994.1l-7 3.4l-3.4 -.6M387.4 994.1l7 3.4l3.4 -.6" stroke="#ececec" stroke-width="1.7" stroke-linecap="round" stroke-linejoin="round" fill="none"/><path d="M378 975.1l-1.6 -2.6M388.8 975.1l1.6 -2.6" stroke="#dcdcdc" stroke-width="1.5" stroke-linecap="round" fill="none"/><path d="M383.4 995.1q.6 12.2 0 21.6" stroke="#f4f4f4" stroke-width="1.8" fill="none" stroke-linecap="round"/><ellipse cx="383.4" cy="983.1" rx="7.4" ry="13.2" fill="url(#gm)"/><ellipse cx="383.4" cy="968.6" rx="4.2" ry="5.6" fill="#9b9b9b"/><ellipse cx="383.4" cy="993.6" rx="5.6" ry="3.2" fill="#c4c4c4" opacity=".8"/><circle cx="379.2" cy="966.1" r="1.5" fill="#c9c9c9"/><circle cx="387.6" cy="966.1" r="1.5" fill="#c9c9c9"/><ellipse cx="383.4" cy="980.1" rx="3.6" ry="2.6" fill="#2a22e6" opacity="1" filter="url(#b1)"/><ellipse cx="383.4" cy="980.1" rx="1.9" ry="1.1" fill="#c4cbe6" opacity="1" filter="url(#b1)"/><rect x="412.3" y="959.6" width="4.4" height="13" fill="#cfcfcf"/><ellipse cx="414.5" cy="988.1" rx="9.4" ry="15" fill="#454545" opacity=".75"/><path d="M410.5 1000.1l-7 3.4l-3.4 -.6M418.5 1000.1l7 3.4l3.4 -.6" stroke="#ececec" stroke-width="1.7" stroke-linecap="round" stroke-linejoin="round" fill="none"/><path d="M409.1 981.1l-1.6 -2.6M419.9 981.1l1.6 -2.6" stroke="#dcdcdc" stroke-width="1.5" stroke-linecap="round" fill="none"/><path d="M414.5 1001.1q.6 8.9 0.8 15.6" stroke="#f4f4f4" stroke-width="1.8" fill="none" stroke-linecap="round"/><ellipse cx="414.5" cy="989.1" rx="7.4" ry="13.2" fill="url(#gm)"/><ellipse cx="414.5" cy="974.6" rx="4.2" ry="5.6" fill="#9b9b9b"/><ellipse cx="414.5" cy="999.6" rx="5.6" ry="3.2" fill="#c4c4c4" opacity=".8"/><circle cx="410.3" cy="972.1" r="1.5" fill="#c9c9c9"/><circle cx="418.7" cy="972.1" r="1.5" fill="#c9c9c9"/><ellipse cx="416" cy="988.1" rx="1.6" ry="2.8" fill="#2a22e6" opacity="1" filter="url(#b1)"/><ellipse cx="412.5" cy="995.1" rx="1.6" ry="1.6" fill="#2218c0" opacity="1" filter="url(#b1)"/><ellipse cx="414.5" cy="991.1" rx="5" ry="7" fill="#7068c8" opacity="0.35" filter="url(#b1)"/><rect x="445.3" y="959.6" width="4.4" height="10" fill="#cfcfcf"/><ellipse cx="447.5" cy="985.1" rx="9.4" ry="15" fill="#454545" opacity=".75"/><path d="M443.5 997.1l-7 3.4l-3.4 -.6M451.5 997.1l7 3.4l3.4 -.6" stroke="#ececec" stroke-width="1.7" stroke-linecap="round" stroke-linejoin="round" fill="none"/><path d="M442.1 978.1l-1.6 -2.6M452.9 978.1l1.6 -2.6" stroke="#dcdcdc" stroke-width="1.5" stroke-linecap="round" fill="none"/><path d="M447.5 998.1q.6 10.5 0 18.6" stroke="#f4f4f4" stroke-width="1.8" fill="none" stroke-linecap="round"/><ellipse cx="447.5" cy="986.1" rx="7.4" ry="13.2" fill="url(#gm)"/><ellipse cx="447.5" cy="971.6" rx="4.2" ry="5.6" fill="#9b9b9b"/><ellipse cx="447.5" cy="996.6" rx="5.6" ry="3.2" fill="#c4c4c4" opacity=".8"/><circle cx="443.3" cy="969.1" r="1.5" fill="#c9c9c9"/><circle cx="451.7" cy="969.1" r="1.5" fill="#c9c9c9"/><ellipse cx="447.5" cy="985.1" rx="2.2" ry="2.4" fill="#7d86d6" opacity="1" filter="url(#b1)"/><ellipse cx="447.5" cy="985.1" rx="1.1" ry="1.2" fill="#a4a4a4" opacity="1" filter="url(#b1)"/><ellipse cx="447.5" cy="988.1" rx="5" ry="7" fill="#8a86c8" opacity="0.3" filter="url(#b1)"/><rect x="476.8" y="959.6" width="4.4" height="8" fill="#cfcfcf"/><ellipse cx="479" cy="983.1" rx="9.4" ry="15" fill="#454545" opacity=".75"/><path d="M475 995.1l-7 3.4l-3.4 -.6M483 995.1l7 3.4l3.4 -.6" stroke="#ececec" stroke-width="1.7" stroke-linecap="round" stroke-linejoin="round" fill="none"/><path d="M473.6 976.1l-1.6 -2.6M484.4 976.1l1.6 -2.6" stroke="#dcdcdc" stroke-width="1.5" stroke-linecap="round" fill="none"/><path d="M479 996.1q.6 11.6 0 20.6" stroke="#f4f4f4" stroke-width="1.8" fill="none" stroke-linecap="round"/><ellipse cx="479" cy="984.1" rx="7.4" ry="13.2" fill="url(#gm)"/><ellipse cx="479" cy="969.6" rx="4.2" ry="5.6" fill="#9b9b9b"/><ellipse cx="479" cy="994.6" rx="5.6" ry="3.2" fill="#c4c4c4" opacity=".8"/><circle cx="474.8" cy="967.1" r="1.5" fill="#c9c9c9"/><circle cx="483.2" cy="967.1" r="1.5" fill="#c9c9c9"/><ellipse cx="479" cy="982.1" rx="3" ry="3" fill="#8088d0" opacity="1" filter="url(#b1)"/><ellipse cx="479" cy="982.1" rx="1.8" ry="1.8" fill="#9c9c9c" opacity="1" filter="url(#b1)"/><ellipse cx="479" cy="984.1" rx="5" ry="7" fill="#8a86c8" opacity="0.3" filter="url(#b1)"/><rect x="366" y="1017.9" width="132" height="9.6" fill="url(#bars)"/><rect x="366" y="1017" width="132" height="1.4" fill="#2e2e2e"/><rect x="381.2" y="1018.4" width="4.4" height="8" fill="#cfcfcf"/><ellipse cx="383.4" cy="1041.9" rx="9.4" ry="15" fill="#454545" opacity=".75"/><path d="M379.4 1053.9l-7 3.4l-3.4 -.6M387.4 1053.9l7 3.4l3.4 -.6" stroke="#ececec" stroke-width="1.7" stroke-linecap="round" stroke-linejoin="round" fill="none"/><path d="M378 1034.9l-1.6 -2.6M388.8 1034.9l1.6 -2.6" stroke="#dcdcdc" stroke-width="1.5" stroke-linecap="round" fill="none"/><path d="M383.4 1054.9q.6 11.1 -3.5 19.7" stroke="#f4f4f4" stroke-width="1.8" fill="none" stroke-linecap="round"/><ellipse cx="383.4" cy="1042.9" rx="7.4" ry="13.2" fill="url(#gm)"/><ellipse cx="383.4" cy="1028.4" rx="4.2" ry="5.6" fill="#9b9b9b"/><ellipse cx="383.4" cy="1053.4" rx="5.6" ry="3.2" fill="#c4c4c4" opacity=".8"/><circle cx="379.2" cy="1025.9" r="1.5" fill="#c9c9c9"/><circle cx="387.6" cy="1025.9" r="1.5" fill="#c9c9c9"/><ellipse cx="383.4" cy="1043.9" rx="5.5" ry="8" fill="#2a22e6" opacity="1" filter="url(#b1)"/><ellipse cx="383.4" cy="1040.9" rx="2.6" ry="3" fill="#1fb4f2" opacity="1" filter="url(#b1)"/><ellipse cx="383.9" cy="1040.4" rx="1.2" ry="1.4" fill="#5fe07a" opacity="1" filter="url(#b1)"/><rect x="412.3" y="1018.4" width="4.4" height="8" fill="#cfcfcf"/><ellipse cx="414.5" cy="1041.9" rx="9.4" ry="15" fill="#454545" opacity=".75"/><path d="M410.5 1053.9l-7 3.4l-3.4 -.6M418.5 1053.9l7 3.4l3.4 -.6" stroke="#ececec" stroke-width="1.7" stroke-linecap="round" stroke-linejoin="round" fill="none"/><path d="M409.1 1034.9l-1.6 -2.6M419.9 1034.9l1.6 -2.6" stroke="#dcdcdc" stroke-width="1.5" stroke-linecap="round" fill="none"/><path d="M414.5 1054.9q.6 11.1 0.8 19.7" stroke="#f4f4f4" stroke-width="1.8" fill="none" stroke-linecap="round"/><ellipse cx="414.5" cy="1042.9" rx="7.4" ry="13.2" fill="url(#gm)"/><ellipse cx="414.5" cy="1028.4" rx="4.2" ry="5.6" fill="#9b9b9b"/><ellipse cx="414.5" cy="1053.4" rx="5.6" ry="3.2" fill="#c4c4c4" opacity=".8"/><circle cx="410.3" cy="1025.9" r="1.5" fill="#c9c9c9"/><circle cx="418.7" cy="1025.9" r="1.5" fill="#c9c9c9"/><ellipse cx="415.5" cy="1043.9" rx="5" ry="7" fill="#2a22e6" opacity="1" filter="url(#b1)"/><ellipse cx="416" cy="1040.9" rx="2.4" ry="2.6" fill="#1fb4f2" opacity="1" filter="url(#b1)"/><ellipse cx="416" cy="1040.4" rx="1" ry="1" fill="#5fe07a" opacity="1" filter="url(#b1)"/><rect x="445.3" y="1018.4" width="4.4" height="8" fill="#cfcfcf"/><ellipse cx="447.5" cy="1041.9" rx="9.4" ry="15" fill="#454545" opacity=".75"/><path d="M443.5 1053.9l-7 3.4l-3.4 -.6M451.5 1053.9l7 3.4l3.4 -.6" stroke="#ececec" stroke-width="1.7" stroke-linecap="round" stroke-linejoin="round" fill="none"/><path d="M442.1 1034.9l-1.6 -2.6M452.9 1034.9l1.6 -2.6" stroke="#dcdcdc" stroke-width="1.5" stroke-linecap="round" fill="none"/><path d="M447.5 1054.9q.6 11.1 0 19.7" stroke="#f4f4f4" stroke-width="1.8" fill="none" stroke-linecap="round"/><ellipse cx="447.5" cy="1042.9" rx="7.4" ry="13.2" fill="url(#gm)"/><ellipse cx="447.5" cy="1028.4" rx="4.2" ry="5.6" fill="#9b9b9b"/><ellipse cx="447.5" cy="1053.4" rx="5.6" ry="3.2" fill="#c4c4c4" opacity=".8"/><circle cx="443.3" cy="1025.9" r="1.5" fill="#c9c9c9"/><circle cx="451.7" cy="1025.9" r="1.5" fill="#c9c9c9"/><ellipse cx="447" cy="1044.9" rx="5" ry="7" fill="#2a22e6" opacity="1" filter="url(#b1)"/><ellipse cx="447.5" cy="1040.9" rx="2.4" ry="2.6" fill="#1fb4f2" opacity="1" filter="url(#b1)"/><ellipse cx="447.5" cy="1040.9" rx="1" ry="1" fill="#5fe07a" opacity="1" filter="url(#b1)"/><rect x="476.8" y="1018.4" width="4.4" height="7" fill="#cfcfcf"/><ellipse cx="479" cy="1040.9" rx="9.4" ry="15" fill="#454545" opacity=".75"/><path d="M475 1052.9l-7 3.4l-3.4 -.6M483 1052.9l7 3.4l3.4 -.6" stroke="#ececec" stroke-width="1.7" stroke-linecap="round" stroke-linejoin="round" fill="none"/><path d="M473.6 1033.9l-1.6 -2.6M484.4 1033.9l1.6 -2.6" stroke="#dcdcdc" stroke-width="1.5" stroke-linecap="round" fill="none"/><path d="M479 1053.9q.6 11.7 0 20.7" stroke="#f4f4f4" stroke-width="1.8" fill="none" stroke-linecap="round"/><ellipse cx="479" cy="1041.9" rx="7.4" ry="13.2" fill="url(#gm)"/><ellipse cx="479" cy="1027.4" rx="4.2" ry="5.6" fill="#9b9b9b"/><ellipse cx="479" cy="1052.4" rx="5.6" ry="3.2" fill="#c4c4c4" opacity=".8"/><circle cx="474.8" cy="1024.9" r="1.5" fill="#c9c9c9"/><circle cx="483.2" cy="1024.9" r="1.5" fill="#c9c9c9"/><ellipse cx="479" cy="1040.9" rx="3.2" ry="2.6" fill="#6f70d8" opacity="1" filter="url(#b1)"/><ellipse cx="479" cy="1040.9" rx="1.6" ry="1.2" fill="#b0b6d6" opacity="1" filter="url(#b1)"/><ellipse cx="482" cy="1043.9" rx="1.3" ry="1.3" fill="#7a5bd6" opacity="1" filter="url(#b1)"/><ellipse cx="479" cy="1043.9" rx="5" ry="6" fill="#8a86c8" opacity="0.3" filter="url(#b1)"/><rect x="366" y="1075.5" width="132" height="9.6" fill="url(#bars)"/><rect x="366" y="1074.6" width="132" height="1.4" fill="#2e2e2e"/><rect x="381.2" y="1076" width="4.4" height="7" fill="#cfcfcf"/><ellipse cx="383.4" cy="1098.5" rx="9.4" ry="15" fill="#454545" opacity=".75"/><path d="M379.4 1110.5l-7 3.4l-3.4 -.6M387.4 1110.5l7 3.4l3.4 -.6" stroke="#ececec" stroke-width="1.7" stroke-linecap="round" stroke-linejoin="round" fill="none"/><path d="M378 1091.5l-1.6 -2.6M388.8 1091.5l1.6 -2.6" stroke="#dcdcdc" stroke-width="1.5" stroke-linecap="round" fill="none"/><path d="M383.4 1111.5q.6 11.3 3.5 20" stroke="#f4f4f4" stroke-width="1.8" fill="none" stroke-linecap="round"/><ellipse cx="383.4" cy="1099.5" rx="7.4" ry="13.2" fill="url(#gm)"/><ellipse cx="383.4" cy="1085" rx="4.2" ry="5.6" fill="#9b9b9b"/><ellipse cx="383.4" cy="1110" rx="5.6" ry="3.2" fill="#c4c4c4" opacity=".8"/><circle cx="379.2" cy="1082.5" r="1.5" fill="#c9c9c9"/><circle cx="387.6" cy="1082.5" r="1.5" fill="#c9c9c9"/><ellipse cx="380.4" cy="1100.5" rx="7.2" ry="9.6" fill="#2a22e6" opacity="1" filter="url(#b1)"/><ellipse cx="379.4" cy="1096.5" rx="3.4" ry="3.4" fill="#1fb4f2" opacity="1" filter="url(#b1)"/><ellipse cx="382.4" cy="1103.5" rx="3" ry="3" fill="#1fb4f2" opacity="1" filter="url(#b1)"/><ellipse cx="382.9" cy="1104" rx="1.6" ry="1.6" fill="#5fe07a" opacity="1" filter="url(#b1)"/><ellipse cx="379.4" cy="1096.5" rx="1.4" ry="1.4" fill="#5fe07a" opacity="1" filter="url(#b1)"/><rect x="412.3" y="1076" width="4.4" height="7" fill="#cfcfcf"/><ellipse cx="414.5" cy="1098.5" rx="9.4" ry="15" fill="#454545" opacity=".75"/><path d="M410.5 1110.5l-7 3.4l-3.4 -.6M418.5 1110.5l7 3.4l3.4 -.6" stroke="#ececec" stroke-width="1.7" stroke-linecap="round" stroke-linejoin="round" fill="none"/><path d="M409.1 1091.5l-1.6 -2.6M419.9 1091.5l1.6 -2.6" stroke="#dcdcdc" stroke-width="1.5" stroke-linecap="round" fill="none"/><path d="M414.5 1111.5q.6 11.3 3.5 20" stroke="#f4f4f4" stroke-width="1.8" fill="none" stroke-linecap="round"/><ellipse cx="414.5" cy="1099.5" rx="7.4" ry="13.2" fill="url(#gm)"/><ellipse cx="414.5" cy="1085" rx="4.2" ry="5.6" fill="#9b9b9b"/><ellipse cx="414.5" cy="1110" rx="5.6" ry="3.2" fill="#c4c4c4" opacity=".8"/><circle cx="410.3" cy="1082.5" r="1.5" fill="#c9c9c9"/><circle cx="418.7" cy="1082.5" r="1.5" fill="#c9c9c9"/><ellipse cx="411.5" cy="1099.5" rx="7" ry="9" fill="#2a22e6" opacity="1" filter="url(#b1)"/><ellipse cx="411.5" cy="1096.5" rx="3.6" ry="3.8" fill="#1fb4f2" opacity="1" filter="url(#b1)"/><ellipse cx="411.5" cy="1096" rx="2" ry="2.2" fill="#5fe07a" opacity="1" filter="url(#b1)"/><ellipse cx="414.5" cy="1104.5" rx="2" ry="2" fill="#1fb4f2" opacity="1" filter="url(#b1)"/><rect x="445.3" y="1076" width="4.4" height="10" fill="#cfcfcf"/><ellipse cx="447.5" cy="1101.5" rx="9.4" ry="15" fill="#454545" opacity=".75"/><path d="M443.5 1113.5l-7 3.4l-3.4 -.6M451.5 1113.5l7 3.4l3.4 -.6" stroke="#ececec" stroke-width="1.7" stroke-linecap="round" stroke-linejoin="round" fill="none"/><path d="M442.1 1094.5l-1.6 -2.6M452.9 1094.5l1.6 -2.6" stroke="#dcdcdc" stroke-width="1.5" stroke-linecap="round" fill="none"/><path d="M447.5 1114.5q.6 9.6 0 17" stroke="#f4f4f4" stroke-width="1.8" fill="none" stroke-linecap="round"/><ellipse cx="447.5" cy="1102.5" rx="7.4" ry="13.2" fill="url(#gm)"/><ellipse cx="447.5" cy="1088" rx="4.2" ry="5.6" fill="#9b9b9b"/><ellipse cx="447.5" cy="1113" rx="5.6" ry="3.2" fill="#c4c4c4" opacity=".8"/><circle cx="443.3" cy="1085.5" r="1.5" fill="#c9c9c9"/><circle cx="451.7" cy="1085.5" r="1.5" fill="#c9c9c9"/><ellipse cx="447" cy="1103.5" rx="5.6" ry="8" fill="#2a22e6" opacity="1" filter="url(#b1)"/><ellipse cx="446.5" cy="1099.5" rx="2.6" ry="2.6" fill="#1fb4f2" opacity="1" filter="url(#b1)"/><ellipse cx="446.5" cy="1099" rx="1.2" ry="1.2" fill="#5fe07a" opacity="1" filter="url(#b1)"/><ellipse cx="448.5" cy="1106.5" rx="1.8" ry="1.8" fill="#1fb4f2" opacity="1" filter="url(#b1)"/><rect x="476.8" y="1076" width="4.4" height="9" fill="#cfcfcf"/><ellipse cx="479" cy="1100.5" rx="9.4" ry="15" fill="#454545" opacity=".75"/><path d="M475 1112.5l-7 3.4l-3.4 -.6M483 1112.5l7 3.4l3.4 -.6" stroke="#ececec" stroke-width="1.7" stroke-linecap="round" stroke-linejoin="round" fill="none"/><path d="M473.6 1093.5l-1.6 -2.6M484.4 1093.5l1.6 -2.6" stroke="#dcdcdc" stroke-width="1.5" stroke-linecap="round" fill="none"/><path d="M479 1113.5q.6 10.2 0 18" stroke="#f4f4f4" stroke-width="1.8" fill="none" stroke-linecap="round"/><ellipse cx="479" cy="1101.5" rx="7.4" ry="13.2" fill="url(#gm)"/><ellipse cx="479" cy="1087" rx="4.2" ry="5.6" fill="#9b9b9b"/><ellipse cx="479" cy="1112" rx="5.6" ry="3.2" fill="#c4c4c4" opacity=".8"/><circle cx="474.8" cy="1084.5" r="1.5" fill="#c9c9c9"/><circle cx="483.2" cy="1084.5" r="1.5" fill="#c9c9c9"/><ellipse cx="479" cy="1100.5" rx="3" ry="3" fill="#2a22e6" opacity="1" filter="url(#b1)"/><ellipse cx="479" cy="1100.5" rx="1.6" ry="1.6" fill="#c9e6f4" opacity="1" filter="url(#b1)"/><ellipse cx="479" cy="1107.5" rx="3.4" ry="3.4" fill="#7a5bd6" opacity="1" filter="url(#b1)"/><ellipse cx="479" cy="1103.5" rx="5" ry="7" fill="#8a86c8" opacity="0.35" filter="url(#b1)"/></g></g>
<text x="510.9" y="937.8" font-size="23" font-weight="bold">K</text>
<text x="576.7" y="976.4" font-size="12.1" text-anchor="end">Vehicle+IgG</text>
<text x="576.7" y="1016.8" font-size="12.1" text-anchor="end">R162+IgG</text>
<text x="576.7" y="1056.6" font-size="12.1" text-anchor="end">Vehicle+PD-1</text>
<text x="576.7" y="1096.3" font-size="12.1" text-anchor="end">R162+PD-1</text>
<g clip-path="url(#ck)"><rect x="585" y="952" width="120" height="189" fill="#e4e4e7"/><rect x="585" y="1030.5" width="120" height="4.5" fill="#d6d6da"/><rect x="585" y="1035" width="120" height="3" fill="#eeeef0"/><circle cx="607.7" cy="974.5" r="19" fill="#ececef" stroke="#d9d9dd" stroke-width="1.2"/><circle cx="607.7" cy="974.5" r="15.5" fill="#f3f1f2" stroke="#e6dada" stroke-width="1"/><circle cx="643.1" cy="973.6" r="19" fill="#ececef" stroke="#d9d9dd" stroke-width="1.2"/><circle cx="643.1" cy="973.6" r="15.5" fill="#f3f1f2" stroke="#e6dada" stroke-width="1"/><circle cx="681.2" cy="971.9" r="19" fill="#ececef" stroke="#d9d9dd" stroke-width="1.2"/><circle cx="681.2" cy="971.9" r="15.5" fill="#f3f1f2" stroke="#e6dada" stroke-width="1"/><circle cx="609.5" cy="1013.5" r="19" fill="#ececef" stroke="#d9d9dd" stroke-width="1.2"/><circle cx="609.5" cy="1013.5" r="15.5" fill="#f3f1f2" stroke="#e6dada" stroke-width="1"/><circle cx="644" cy="1013.5" r="19" fill="#ececef" stroke="#d9d9dd" stroke-width="1.2"/><circle cx="644" cy="1013.5" r="15.5" fill="#f3f1f2" stroke="#e6dada" stroke-width="1"/><circle cx="682.1" cy="1011.7" r="19" fill="#ececef" stroke="#d9d9dd" stroke-width="1.2"/><circle cx="682.1" cy="1011.7" r="15.5" fill="#f3f1f2" stroke="#e6dada" stroke-width="1"/><circle cx="607.7" cy="1055.9" r="19" fill="#ececef" stroke="#d9d9dd" stroke-width="1.2"/><circle cx="607.7" cy="1055.9" r="15.5" fill="#f3f1f2" stroke="#e6dada" stroke-width="1"/><circle cx="647.6" cy="1056.8" r="19" fill="#ececef" stroke="#d9d9dd" stroke-width="1.2"/><circle cx="647.6" cy="1056.8" r="15.5" fill="#f3f1f2" stroke="#e6dada" stroke-width="1"/><circle cx="683" cy="1055.9" r="19" fill="#ececef" stroke="#d9d9dd" stroke-width="1.2"/><circle cx="683" cy="1055.9" r="15.5" fill="#f3f1f2" stroke="#e6dada" stroke-width="1"/><circle cx="609.5" cy="1092.2" r="19" fill="#ececef" stroke="#d9d9dd" stroke-width="1.2"/><circle cx="609.5" cy="1092.2" r="15.5" fill="#f3f1f2" stroke="#e6dada" stroke-width="1"/><circle cx="644.9" cy="1093.1" r="19" fill="#ececef" stroke="#d9d9dd" stroke-width="1.2"/><circle cx="644.9" cy="1093.1" r="15.5" fill="#f3f1f2" stroke="#e6dada" stroke-width="1"/><circle cx="681.2" cy="1093.1" r="19" fill="#ececef" stroke="#d9d9dd" stroke-width="1.2"/><circle cx="681.2" cy="1093.1" r="15.5" fill="#f3f1f2" stroke="#e6dada" stroke-width="1"/><g filter="url(#b2)"><ellipse cx="607.7" cy="974.5" rx="14.2" ry="11.7" fill="#a04a40"/><ellipse cx="604.8" cy="979.6" rx="8.1" ry="7.1" fill="#a04a40"/><ellipse cx="611.6" cy="979.2" rx="8.1" ry="7.1" fill="#a04a40"/><ellipse cx="603.9" cy="969.9" rx="8.1" ry="7.1" fill="#a04a40"/><ellipse cx="613.6" cy="977" rx="8.1" ry="7.1" fill="#a04a40"/><ellipse cx="602.8" cy="973.5" rx="4.1" ry="2.8" fill="#c98a80" opacity=".6"/><ellipse cx="604.4" cy="977.8" rx="4.1" ry="2.8" fill="#c98a80" opacity=".6"/><ellipse cx="612.5" cy="976.1" rx="4.1" ry="2.8" fill="#c98a80" opacity=".6"/><ellipse cx="643.1" cy="973.6" rx="13.5" ry="12.7" fill="#a9564c"/><ellipse cx="636.9" cy="973.3" rx="7.7" ry="7.7" fill="#a9564c"/><ellipse cx="649.2" cy="975.1" rx="7.7" ry="7.7" fill="#a9564c"/><ellipse cx="637.5" cy="976.2" rx="7.7" ry="7.7" fill="#a9564c"/><ellipse cx="648.8" cy="976.3" rx="7.7" ry="7.7" fill="#a9564c"/><ellipse cx="647.2" cy="976.2" rx="3.9" ry="3" fill="#c98a80" opacity=".6"/><ellipse cx="638.8" cy="975.8" rx="3.9" ry="3" fill="#c98a80" opacity=".6"/><ellipse cx="645.4" cy="969.3" rx="3.9" ry="3" fill="#c98a80" opacity=".6"/><ellipse cx="681.2" cy="971.9" rx="14.2" ry="10.1" fill="#b0685f"/><ellipse cx="685.8" cy="975.3" rx="8.1" ry="6.1" fill="#b0685f"/><ellipse cx="682.3" cy="976.7" rx="8.1" ry="6.1" fill="#b0685f"/><ellipse cx="676.6" cy="968.3" rx="8.1" ry="6.1" fill="#b0685f"/><ellipse cx="687.4" cy="970.3" rx="8.1" ry="6.1" fill="#b0685f"/><ellipse cx="676.7" cy="970.1" rx="4.1" ry="2.4" fill="#c98a80" opacity=".6"/><ellipse cx="677.2" cy="974.2" rx="4.1" ry="2.4" fill="#c98a80" opacity=".6"/><ellipse cx="686.2" cy="971.3" rx="4.1" ry="2.4" fill="#c98a80" opacity=".6"/><ellipse cx="609.5" cy="1013.5" rx="13.9" ry="9.4" fill="#8e3a34"/><ellipse cx="615.6" cy="1014.8" rx="7.9" ry="5.7" fill="#8e3a34"/><ellipse cx="613.5" cy="1009.9" rx="7.9" ry="5.7" fill="#8e3a34"/><ellipse cx="607.9" cy="1017.9" rx="7.9" ry="5.7" fill="#8e3a34"/><ellipse cx="613.4" cy="1017.1" rx="7.9" ry="5.7" fill="#8e3a34"/><ellipse cx="613.2" cy="1015.9" rx="4" ry="2.3" fill="#c98a80" opacity=".6"/><ellipse cx="607.7" cy="1016.8" rx="4" ry="2.3" fill="#c98a80" opacity=".6"/><ellipse cx="611.5" cy="1010.2" rx="4" ry="2.3" fill="#c98a80" opacity=".6"/><ellipse cx="644" cy="1013.5" rx="12.5" ry="10.1" fill="#a65a48"/><ellipse cx="646.4" cy="1017.9" rx="7.1" ry="6.1" fill="#a65a48"/><ellipse cx="639" cy="1011" rx="7.1" ry="6.1" fill="#a65a48"/><ellipse cx="640.3" cy="1009.7" rx="7.1" ry="6.1" fill="#a65a48"/><ellipse cx="640" cy="1017" rx="7.1" ry="6.1" fill="#a65a48"/><ellipse cx="639.8" cy="1012.3" rx="3.6" ry="2.4" fill="#c98a80" opacity=".6"/><ellipse cx="648.1" cy="1014.9" rx="3.6" ry="2.4" fill="#c98a80" opacity=".6"/><ellipse cx="648.2" cy="1014.9" rx="3.6" ry="2.4" fill="#c98a80" opacity=".6"/><ellipse cx="682.1" cy="1011.7" rx="11.1" ry="10.7" fill="#96403c"/><ellipse cx="683.5" cy="1016.7" rx="6.3" ry="6.5" fill="#96403c"/><ellipse cx="679.9" cy="1006.9" rx="6.3" ry="6.5" fill="#96403c"/><ellipse cx="677.5" cy="1014" rx="6.3" ry="6.5" fill="#96403c"/><ellipse cx="680.1" cy="1016.5" rx="6.3" ry="6.5" fill="#96403c"/><ellipse cx="678.7" cy="1009.6" rx="3.2" ry="2.6" fill="#c98a80" opacity=".6"/><ellipse cx="678.3" cy="1012.9" rx="3.2" ry="2.6" fill="#c98a80" opacity=".6"/><ellipse cx="680.9" cy="1015.6" rx="3.2" ry="2.6" fill="#c98a80" opacity=".6"/><ellipse cx="607.7" cy="1055.9" rx="13.2" ry="8.5" fill="#9a5044"/><ellipse cx="609.4" cy="1051.9" rx="7.5" ry="5.2" fill="#9a5044"/><ellipse cx="605.8" cy="1052" rx="7.5" ry="5.2" fill="#9a5044"/><ellipse cx="608" cy="1060.1" rx="7.5" ry="5.2" fill="#9a5044"/><ellipse cx="602.3" cy="1054.1" rx="7.5" ry="5.2" fill="#9a5044"/><ellipse cx="603.1" cy="1055.4" rx="3.8" ry="2" fill="#c98a80" opacity=".6"/><ellipse cx="611.1" cy="1053.6" rx="3.8" ry="2" fill="#c98a80" opacity=".6"/><ellipse cx="607.1" cy="1052.7" rx="3.8" ry="2" fill="#c98a80" opacity=".6"/><ellipse cx="647.6" cy="1056.8" rx="9.7" ry="9.1" fill="#96463c"/><ellipse cx="646.5" cy="1061.1" rx="5.6" ry="5.6" fill="#96463c"/><ellipse cx="652" cy="1056.2" rx="5.6" ry="5.6" fill="#96463c"/><ellipse cx="650.9" cy="1059.8" rx="5.6" ry="5.6" fill="#96463c"/><ellipse cx="643.7" cy="1059" rx="5.6" ry="5.6" fill="#96463c"/><ellipse cx="647.7" cy="1053.3" rx="2.8" ry="2.2" fill="#c98a80" opacity=".6"/><ellipse cx="649.6" cy="1059.6" rx="2.8" ry="2.2" fill="#c98a80" opacity=".6"/><ellipse cx="644.1" cy="1057.1" rx="2.8" ry="2.2" fill="#c98a80" opacity=".6"/><ellipse cx="683" cy="1055.9" rx="12.1" ry="7.5" fill="#98503f"/><ellipse cx="688.4" cy="1056.8" rx="6.9" ry="4.6" fill="#98503f"/><ellipse cx="680.2" cy="1052.7" rx="6.9" ry="4.6" fill="#98503f"/><ellipse cx="683.5" cy="1052.3" rx="6.9" ry="4.6" fill="#98503f"/><ellipse cx="678" cy="1054.3" rx="6.9" ry="4.6" fill="#98503f"/><ellipse cx="686" cy="1053.9" rx="3.5" ry="1.8" fill="#c98a80" opacity=".6"/><ellipse cx="681.3" cy="1058.6" rx="3.5" ry="1.8" fill="#c98a80" opacity=".6"/><ellipse cx="681.5" cy="1053.2" rx="3.5" ry="1.8" fill="#c98a80" opacity=".6"/><ellipse cx="609.5" cy="1092.2" rx="10.4" ry="7.8" fill="#8a3530"/><ellipse cx="605.5" cy="1090.1" rx="5.9" ry="4.8" fill="#8a3530"/><ellipse cx="605.3" cy="1090.4" rx="5.9" ry="4.8" fill="#8a3530"/><ellipse cx="604.9" cy="1093.3" rx="5.9" ry="4.8" fill="#8a3530"/><ellipse cx="612.1" cy="1089" rx="5.9" ry="4.8" fill="#8a3530"/><ellipse cx="613" cy="1091.2" rx="3" ry="1.9" fill="#c98a80" opacity=".6"/><ellipse cx="605.8" cy="1092.7" rx="3" ry="1.9" fill="#c98a80" opacity=".6"/><ellipse cx="607.6" cy="1089.7" rx="3" ry="1.9" fill="#c98a80" opacity=".6"/><ellipse cx="644.9" cy="1093.1" rx="9.4" ry="10.7" fill="#8e3a32"/><ellipse cx="648.9" cy="1095.1" rx="5.4" ry="6.5" fill="#8e3a32"/><ellipse cx="643.6" cy="1088.1" rx="5.4" ry="6.5" fill="#8e3a32"/><ellipse cx="642.3" cy="1088.9" rx="5.4" ry="6.5" fill="#8e3a32"/><ellipse cx="649.2" cy="1092.9" rx="5.4" ry="6.5" fill="#8e3a32"/><ellipse cx="646.4" cy="1089.4" rx="2.7" ry="2.6" fill="#c98a80" opacity=".6"/><ellipse cx="644.2" cy="1097.1" rx="2.7" ry="2.6" fill="#c98a80" opacity=".6"/><ellipse cx="642.4" cy="1095.8" rx="2.7" ry="2.6" fill="#c98a80" opacity=".6"/><ellipse cx="681.2" cy="1093.1" rx="9.4" ry="8.1" fill="#8c3e34"/><ellipse cx="679.1" cy="1089.6" rx="5.4" ry="5" fill="#8c3e34"/><ellipse cx="685.5" cy="1093.7" rx="5.4" ry="5" fill="#8c3e34"/><ellipse cx="677" cy="1094.1" rx="5.4" ry="5" fill="#8c3e34"/><ellipse cx="683.3" cy="1096.6" rx="5.4" ry="5" fill="#8c3e34"/><ellipse cx="683.7" cy="1095.2" rx="2.7" ry="1.9" fill="#c98a80" opacity=".6"/><ellipse cx="684.3" cy="1094.2" rx="2.7" ry="1.9" fill="#c98a80" opacity=".6"/><ellipse cx="681.6" cy="1090" rx="2.7" ry="1.9" fill="#c98a80" opacity=".6"/></g><rect x="585" y="1108" width="120" height="9" fill="#eeeef0"/><rect x="585" y="1116.6" width="120" height="25" fill="#bfcbc6"/><rect x="585" y="1116.6" width="120" height="4.5" fill="#c8d2cd"/><text x="592" y="1131" font-size="5.6" text-anchor="middle" fill="#4c5a57">7</text><text x="601.1" y="1131" font-size="5.6" text-anchor="middle" fill="#4c5a57">8</text><text x="610.3" y="1131" font-size="5.6" text-anchor="middle" fill="#4c5a57">9</text><text x="619.5" y="1131" font-size="5.6" text-anchor="middle" fill="#c0504a">10</text><text x="628.6" y="1131" font-size="5.6" text-anchor="middle" fill="#4c5a57">11</text><text x="637.8" y="1131" font-size="5.6" text-anchor="middle" fill="#4c5a57">12</text><text x="646.9" y="1131" font-size="5.6" text-anchor="middle" fill="#4c5a57">13</text><text x="656" y="1131" font-size="5.6" text-anchor="middle" fill="#4c5a57">14</text><text x="665.2" y="1131" font-size="5.6" text-anchor="middle" fill="#4c5a57">15</text><text x="674.4" y="1131" font-size="5.6" text-anchor="middle" fill="#4c5a57">16</text><text x="683.5" y="1131" font-size="5.6" text-anchor="middle" fill="#4c5a57">17</text><text x="692.6" y="1131" font-size="5.6" text-anchor="middle" fill="#4c5a57">18</text><text x="701.8" y="1131" font-size="5.6" text-anchor="middle" fill="#4c5a57">19</text></g>
</svg>
</body></html>
